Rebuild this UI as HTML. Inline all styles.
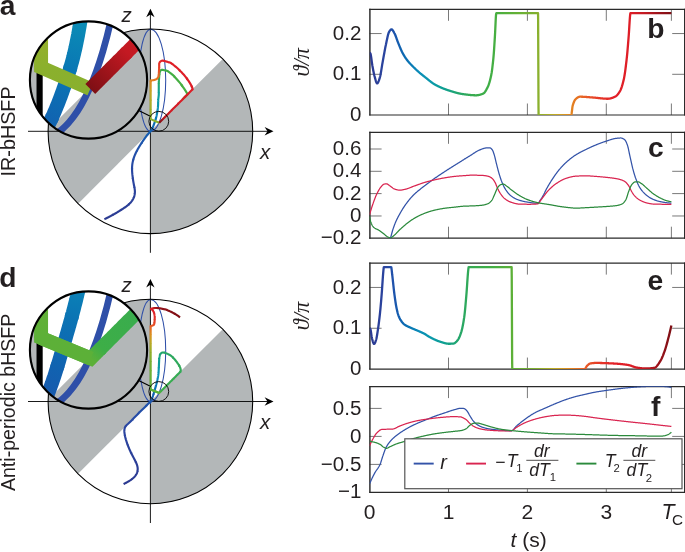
<!DOCTYPE html><html><head><meta charset="utf-8"><title>figure</title><style>html,body{margin:0;padding:0;background:#fff}svg{display:block}</style></head><body>
<svg width="685" height="552" viewBox="0 0 685 552">
<rect width="685" height="552" fill="#fff"/>
<defs><linearGradient id="jet" gradientUnits="userSpaceOnUse" x1="369.6" y1="0" x2="671.3925" y2="0"><stop offset="0.0000" stop-color="#2b3990"/><stop offset="0.0523" stop-color="#2a45a0"/><stop offset="0.0784" stop-color="#2052ab"/><stop offset="0.0993" stop-color="#1260b0"/><stop offset="0.1176" stop-color="#0c6cb2"/><stop offset="0.1386" stop-color="#0a7ab5"/><stop offset="0.1647" stop-color="#0b8db8"/><stop offset="0.2092" stop-color="#0a9aa8"/><stop offset="0.2484" stop-color="#10a090"/><stop offset="0.2876" stop-color="#20a570"/><stop offset="0.3399" stop-color="#38ab50"/><stop offset="0.3922" stop-color="#3eae46"/><stop offset="0.4706" stop-color="#5cb038"/><stop offset="0.5490" stop-color="#80b030"/><stop offset="0.5752" stop-color="#9ab02a"/><stop offset="0.6144" stop-color="#c0aa25"/><stop offset="0.6536" stop-color="#dc9020"/><stop offset="0.6797" stop-color="#e57a22"/><stop offset="0.7190" stop-color="#e85a28"/><stop offset="0.7582" stop-color="#e63a28"/><stop offset="0.8105" stop-color="#e22028"/><stop offset="0.8627" stop-color="#de1e27"/><stop offset="0.8941" stop-color="#cc1b24"/><stop offset="0.9150" stop-color="#c01922"/><stop offset="0.9359" stop-color="#ae161e"/><stop offset="0.9569" stop-color="#9c131b"/><stop offset="0.9804" stop-color="#8c1118"/><stop offset="1.0000" stop-color="#7e0f14"/></linearGradient></defs>
<defs><g id="bgA">
<path d="M150.4,131.3 L150.4,29.00 A102.3,102.3 0 0 0 78.06,203.64 Z" fill="#b3b7b8"/>
<path d="M150.4,131.3 L150.4,233.60 A102.3,102.3 0 0 0 222.74,58.96 Z" fill="#b3b7b8"/>
</g><g id="contA">
<path d="M150.4,252.8 V13.3" stroke="#000" style="stroke-width:var(--aw,0.95)" fill="none"/>
<path d="M150.6,29.20 A15.1,51.05 0 0 1 150.6,131.3 A12,51.05 0 0 1 150.6,29.20 Z" stroke="#2f4fa8" style="stroke-width:var(--ew,1.1)" fill="none"/>
<linearGradient id="gA0" gradientUnits="userSpaceOnUse" x1="104.40" y1="219.20" x2="112.75" y2="214.90"><stop offset="0" stop-color="#2b3990"/><stop offset="1" stop-color="#2b3b93"/></linearGradient><linearGradient id="gA1" gradientUnits="userSpaceOnUse" x1="112.75" y1="214.90" x2="120.81" y2="210.08"><stop offset="0" stop-color="#2b3b93"/><stop offset="1" stop-color="#2b3d95"/></linearGradient><linearGradient id="gA2" gradientUnits="userSpaceOnUse" x1="120.81" y1="210.08" x2="128.48" y2="204.65"><stop offset="0" stop-color="#2b3d95"/><stop offset="1" stop-color="#2b3f98"/></linearGradient><linearGradient id="gA3" gradientUnits="userSpaceOnUse" x1="128.48" y1="204.65" x2="133.96" y2="197.08"><stop offset="0" stop-color="#2b3f98"/><stop offset="1" stop-color="#2a419a"/></linearGradient><linearGradient id="gA4" gradientUnits="userSpaceOnUse" x1="133.96" y1="197.08" x2="134.49" y2="187.79"><stop offset="0" stop-color="#2a419a"/><stop offset="1" stop-color="#2a439d"/></linearGradient><linearGradient id="gA5" gradientUnits="userSpaceOnUse" x1="134.49" y1="187.79" x2="132.85" y2="178.52"><stop offset="0" stop-color="#2a439d"/><stop offset="1" stop-color="#2a449f"/></linearGradient><linearGradient id="gA6" gradientUnits="userSpaceOnUse" x1="132.85" y1="178.52" x2="132.04" y2="169.16"><stop offset="0" stop-color="#2a449f"/><stop offset="1" stop-color="#2848a3"/></linearGradient><linearGradient id="gA7" gradientUnits="userSpaceOnUse" x1="132.04" y1="169.16" x2="133.22" y2="159.84"><stop offset="0" stop-color="#2848a3"/><stop offset="1" stop-color="#244ca6"/></linearGradient><linearGradient id="gA8" gradientUnits="userSpaceOnUse" x1="133.22" y1="159.84" x2="136.72" y2="151.13"><stop offset="0" stop-color="#244ca6"/><stop offset="1" stop-color="#2150aa"/></linearGradient><linearGradient id="gA9" gradientUnits="userSpaceOnUse" x1="136.72" y1="151.13" x2="141.53" y2="143.06"><stop offset="0" stop-color="#2150aa"/><stop offset="1" stop-color="#1d55ac"/></linearGradient><linearGradient id="gA10" gradientUnits="userSpaceOnUse" x1="141.53" y1="143.06" x2="146.98" y2="135.42"><stop offset="0" stop-color="#1d55ac"/><stop offset="1" stop-color="#175bae"/></linearGradient><linearGradient id="gA11" gradientUnits="userSpaceOnUse" x1="146.98" y1="135.42" x2="152.35" y2="128.15"><stop offset="0" stop-color="#175bae"/><stop offset="1" stop-color="#1064b1"/></linearGradient><linearGradient id="gA12" gradientUnits="userSpaceOnUse" x1="152.35" y1="128.15" x2="155.57" y2="119.57"><stop offset="0" stop-color="#1064b1"/><stop offset="1" stop-color="#0a77b4"/></linearGradient><linearGradient id="gA13" gradientUnits="userSpaceOnUse" x1="155.57" y1="119.57" x2="157.50" y2="110.59"><stop offset="0" stop-color="#0a77b4"/><stop offset="1" stop-color="#0b8eb6"/></linearGradient><linearGradient id="gA14" gradientUnits="userSpaceOnUse" x1="157.50" y1="110.59" x2="158.15" y2="101.61"><stop offset="0" stop-color="#0b8eb6"/><stop offset="1" stop-color="#0a9aa8"/></linearGradient><linearGradient id="gA15" gradientUnits="userSpaceOnUse" x1="158.15" y1="101.61" x2="158.78" y2="92.49"><stop offset="0" stop-color="#0a9aa8"/><stop offset="1" stop-color="#0f9f94"/></linearGradient><linearGradient id="gA16" gradientUnits="userSpaceOnUse" x1="158.78" y1="92.49" x2="158.79" y2="83.46"><stop offset="0" stop-color="#0f9f94"/><stop offset="1" stop-color="#23a66d"/></linearGradient><linearGradient id="gA17" gradientUnits="userSpaceOnUse" x1="158.79" y1="83.46" x2="159.42" y2="74.32"><stop offset="0" stop-color="#23a66d"/><stop offset="1" stop-color="#39ab4f"/></linearGradient><linearGradient id="gA18" gradientUnits="userSpaceOnUse" x1="159.42" y1="74.32" x2="165.47" y2="70.47"><stop offset="0" stop-color="#39ab4f"/><stop offset="1" stop-color="#3fae45"/></linearGradient><linearGradient id="gA19" gradientUnits="userSpaceOnUse" x1="165.47" y1="70.47" x2="173.92" y2="76.08"><stop offset="0" stop-color="#3fae45"/><stop offset="1" stop-color="#44ae43"/></linearGradient><linearGradient id="gA20" gradientUnits="userSpaceOnUse" x1="173.92" y1="76.08" x2="181.15" y2="84.44"><stop offset="0" stop-color="#44ae43"/><stop offset="1" stop-color="#47af42"/></linearGradient><linearGradient id="gA21" gradientUnits="userSpaceOnUse" x1="181.15" y1="84.44" x2="186.85" y2="92.91"><stop offset="0" stop-color="#47af42"/><stop offset="1" stop-color="#48af41"/></linearGradient><linearGradient id="gA22" gradientUnits="userSpaceOnUse" x1="187.44" y1="94.11" x2="187.26" y2="94.69"><stop offset="0" stop-color="#48af41"/><stop offset="1" stop-color="#49af41"/></linearGradient><linearGradient id="gA23" gradientUnits="userSpaceOnUse" x1="187.26" y1="94.69" x2="182.44" y2="99.51"><stop offset="0" stop-color="#49af41"/><stop offset="1" stop-color="#4baf40"/></linearGradient><linearGradient id="gA24" gradientUnits="userSpaceOnUse" x1="159.11" y1="122.84" x2="150.65" y2="119.13"><stop offset="0" stop-color="#89b02e"/><stop offset="1" stop-color="#8bb02d"/></linearGradient><linearGradient id="gA25" gradientUnits="userSpaceOnUse" x1="150.65" y1="119.13" x2="150.65" y2="109.67"><stop offset="0" stop-color="#8bb02d"/><stop offset="1" stop-color="#9faf29"/></linearGradient><linearGradient id="gA26" gradientUnits="userSpaceOnUse" x1="150.65" y1="109.67" x2="150.65" y2="100.57"><stop offset="0" stop-color="#9faf29"/><stop offset="1" stop-color="#b2ac27"/></linearGradient><linearGradient id="gA27" gradientUnits="userSpaceOnUse" x1="150.65" y1="100.57" x2="150.65" y2="91.24"><stop offset="0" stop-color="#b2ac27"/><stop offset="1" stop-color="#c7a424"/></linearGradient><linearGradient id="gA28" gradientUnits="userSpaceOnUse" x1="150.65" y1="91.24" x2="150.65" y2="82.12"><stop offset="0" stop-color="#c7a424"/><stop offset="1" stop-color="#de8a21"/></linearGradient><linearGradient id="gA29" gradientUnits="userSpaceOnUse" x1="150.65" y1="82.12" x2="150.65" y2="80.82"><stop offset="0" stop-color="#de8a21"/><stop offset="1" stop-color="#e18421"/></linearGradient><linearGradient id="gA30" gradientUnits="userSpaceOnUse" x1="150.81" y1="80.63" x2="158.36" y2="76.61"><stop offset="0" stop-color="#e18321"/><stop offset="1" stop-color="#e66f24"/></linearGradient><linearGradient id="gA31" gradientUnits="userSpaceOnUse" x1="158.36" y1="76.61" x2="159.16" y2="67.56"><stop offset="0" stop-color="#e66f24"/><stop offset="1" stop-color="#e63f28"/></linearGradient><linearGradient id="gA32" gradientUnits="userSpaceOnUse" x1="159.16" y1="67.56" x2="162.83" y2="60.68"><stop offset="0" stop-color="#e63f28"/><stop offset="1" stop-color="#e11f28"/></linearGradient><linearGradient id="gA33" gradientUnits="userSpaceOnUse" x1="162.83" y1="60.68" x2="172.05" y2="63.82"><stop offset="0" stop-color="#e11f28"/><stop offset="1" stop-color="#df1f27"/></linearGradient><linearGradient id="gA34" gradientUnits="userSpaceOnUse" x1="172.05" y1="63.82" x2="179.09" y2="69.78"><stop offset="0" stop-color="#df1f27"/><stop offset="1" stop-color="#df1e27"/></linearGradient><linearGradient id="gA35" gradientUnits="userSpaceOnUse" x1="179.09" y1="69.78" x2="186.40" y2="77.91"><stop offset="0" stop-color="#df1e27"/><stop offset="1" stop-color="#de1e27"/></linearGradient><linearGradient id="gA36" gradientUnits="userSpaceOnUse" x1="191.44" y1="85.83" x2="192.62" y2="88.99"><stop offset="0" stop-color="#de1e27"/><stop offset="1" stop-color="#dd1e27"/></linearGradient><linearGradient id="gA37" gradientUnits="userSpaceOnUse" x1="192.62" y1="88.99" x2="185.67" y2="96.28"><stop offset="0" stop-color="#dd1e27"/><stop offset="1" stop-color="#da1d26"/></linearGradient><linearGradient id="gA38" gradientUnits="userSpaceOnUse" x1="185.67" y1="96.28" x2="178.59" y2="103.36"><stop offset="0" stop-color="#da1d26"/><stop offset="1" stop-color="#d61d26"/></linearGradient><linearGradient id="gA39" gradientUnits="userSpaceOnUse" x1="178.59" y1="103.36" x2="171.89" y2="110.06"><stop offset="0" stop-color="#d61d26"/><stop offset="1" stop-color="#d01c25"/></linearGradient><linearGradient id="gA40" gradientUnits="userSpaceOnUse" x1="171.89" y1="110.06" x2="165.42" y2="116.53"><stop offset="0" stop-color="#d01c25"/><stop offset="1" stop-color="#c31922"/></linearGradient><linearGradient id="gA41" gradientUnits="userSpaceOnUse" x1="165.42" y1="116.53" x2="159.11" y2="122.84"><stop offset="0" stop-color="#c31922"/><stop offset="1" stop-color="#7e0f14"/></linearGradient>
<g fill="none" style="stroke-width:var(--tw,2.2)" stroke-linejoin="miter" stroke-miterlimit="4">
<polyline points="104.40,219.20 105.11,218.86 105.82,218.52 106.52,218.18 107.22,217.83 107.92,217.48 108.62,217.12 109.31,216.76 110.00,216.39 110.69,216.03 111.38,215.65 112.07,215.28 112.75,214.90 113.43,214.51" stroke="url(#gA0)"/>
<polyline points="112.75,214.90 113.43,214.51 114.11,214.13 114.79,213.74 115.46,213.34 116.14,212.95 116.81,212.55 117.48,212.14 118.15,211.74 118.82,211.33 119.48,210.92 120.15,210.50 120.81,210.08 121.47,209.66" stroke="url(#gA1)"/>
<polyline points="120.81,210.08 121.47,209.66 122.14,209.24 122.80,208.82 123.45,208.39 124.11,207.95 124.76,207.51 125.40,207.06 126.04,206.61 126.66,206.14 127.28,205.66 127.89,205.16 128.48,204.65 129.06,204.12" stroke="url(#gA2)"/>
<polyline points="128.48,204.65 129.06,204.12 129.63,203.58 130.17,203.01 130.70,202.43 131.21,201.83 131.69,201.21 132.15,200.57 132.58,199.91 132.97,199.23 133.34,198.53 133.67,197.81 133.96,197.08 134.21,196.33" stroke="url(#gA3)"/>
<polyline points="133.96,197.08 134.21,196.33 134.42,195.57 134.60,194.80 134.73,194.02 134.83,193.24 134.89,192.45 134.90,191.67 134.88,190.89 134.82,190.11 134.73,189.33 134.62,188.56 134.49,187.79 134.34,187.01" stroke="url(#gA4)"/>
<polyline points="134.49,187.79 134.34,187.01 134.19,186.24 134.03,185.47 133.88,184.70 133.73,183.92 133.59,183.15 133.45,182.38 133.32,181.61 133.20,180.84 133.08,180.06 132.96,179.29 132.85,178.52 132.75,177.74" stroke="url(#gA5)"/>
<polyline points="132.85,178.52 132.75,177.74 132.65,176.97 132.56,176.19 132.47,175.41 132.38,174.63 132.31,173.85 132.24,173.07 132.17,172.29 132.12,171.51 132.08,170.72 132.06,169.94 132.04,169.16 132.04,168.37" stroke="url(#gA6)"/>
<polyline points="132.04,169.16 132.04,168.37 132.06,167.59 132.09,166.81 132.15,166.03 132.22,165.24 132.31,164.47 132.42,163.69 132.54,162.91 132.69,162.14 132.85,161.37 133.02,160.61 133.22,159.84 133.43,159.09" stroke="url(#gA7)"/>
<polyline points="133.22,159.84 133.43,159.09 133.66,158.34 133.90,157.59 134.16,156.85 134.44,156.12 134.73,155.39 135.03,154.67 135.35,153.95 135.67,153.24 136.01,152.53 136.36,151.83 136.72,151.13 137.09,150.44" stroke="url(#gA8)"/>
<polyline points="136.72,151.13 137.09,150.44 137.46,149.75 137.84,149.07 138.23,148.39 138.63,147.71 139.03,147.04 139.43,146.37 139.84,145.70 140.26,145.04 140.68,144.38 141.10,143.72 141.53,143.06 141.96,142.41" stroke="url(#gA9)"/>
<polyline points="141.53,143.06 141.96,142.41 142.40,141.76 142.83,141.11 143.27,140.46 143.72,139.82 144.17,139.18 144.62,138.54 145.08,137.90 145.55,137.28 146.02,136.65 146.50,136.03 146.98,135.42 147.47,134.81" stroke="url(#gA10)"/>
<polyline points="146.98,135.42 147.47,134.81 147.97,134.21 148.48,133.61 149.00,133.02 149.52,132.44 150.06,131.87 150.60,131.30 150.74,131.16 150.96,130.78 151.17,130.41 151.37,130.06 151.55,129.72 151.73,129.39 151.89,129.07 152.05,128.76 152.20,128.45 152.35,128.15 152.49,127.85 152.62,127.55" stroke="url(#gA11)"/>
<polyline points="152.35,128.15 152.49,127.85 152.62,127.55 152.76,127.25 152.89,126.95 153.02,126.65 153.15,126.34 153.28,126.03 153.41,125.71 153.54,125.40 153.66,125.08 153.79,124.76 153.91,124.45 154.03,124.13 154.14,123.82 154.26,123.50 154.37,123.19 154.48,122.88 154.59,122.57 154.70,122.26 154.81,121.95 154.91,121.65 155.01,121.34 155.11,121.04 155.21,120.74 155.30,120.45 155.39,120.15 155.48,119.86 155.57,119.57 155.65,119.29 155.73,119.00" stroke="url(#gA12)"/>
<polyline points="155.57,119.57 155.65,119.29 155.73,119.00 155.81,118.73 155.89,118.45 155.97,118.18 156.04,117.91 156.11,117.64 156.18,117.37 156.24,117.11 156.31,116.84 156.37,116.58 156.43,116.32 156.49,116.07 156.55,115.81 156.60,115.56 156.66,115.30 156.71,115.05 156.76,114.80 156.81,114.55 156.86,114.30 156.91,114.05 156.96,113.80 157.01,113.56 157.05,113.31 157.10,113.06 157.14,112.81 157.18,112.57 157.23,112.32 157.27,112.07 157.31,111.82 157.35,111.57 157.39,111.33 157.43,111.08 157.46,110.83 157.50,110.59 157.54,110.34 157.57,110.10" stroke="url(#gA13)"/>
<polyline points="157.50,110.59 157.54,110.34 157.57,110.10 157.61,109.85 157.64,109.61 157.67,109.36 157.71,109.12 157.74,108.88 157.77,108.64 157.80,108.40 157.82,108.16 157.85,107.92 157.88,107.68 157.90,107.44 157.93,107.20 157.95,106.96 157.97,106.73 157.99,106.49 158.01,106.25 158.03,106.02 158.05,105.78 158.06,105.55 158.08,105.31 158.09,105.08 158.10,104.86 158.11,104.63 158.11,104.41 158.12,104.20 158.12,103.98 158.12,103.77 158.13,103.56 158.13,103.35 158.13,103.14 158.13,102.92 158.13,102.71 158.13,102.50 158.14,102.28 158.14,102.06 158.14,101.83 158.15,101.61 158.16,101.38 158.16,101.14" stroke="url(#gA14)"/>
<polyline points="158.15,101.61 158.16,101.38 158.16,101.14 158.17,100.90 158.19,100.65 158.20,100.39 158.22,100.13 158.24,99.85 158.26,99.55 158.30,99.23 158.33,98.90 158.37,98.55 158.41,98.19 158.46,97.83 158.50,97.46 158.54,97.10 158.58,96.73 158.62,96.37 158.66,96.03 158.69,95.69 158.72,95.37 158.75,95.07 158.77,94.79 158.78,94.53 158.79,94.30 158.80,94.09 158.80,93.88 158.80,93.69 158.80,93.50 158.80,93.32 158.80,93.15 158.79,92.98 158.79,92.81 158.79,92.65 158.78,92.49 158.78,92.33 158.77,92.17 158.77,92.01" stroke="url(#gA15)"/>
<polyline points="158.78,92.49 158.78,92.33 158.77,92.17 158.77,92.01 158.76,91.85 158.76,91.68 158.76,91.51 158.76,91.34 158.76,91.16 158.76,90.98 158.76,90.80 158.76,90.62 158.76,90.44 158.76,90.26 158.76,90.08 158.76,89.90 158.76,89.72 158.76,89.54 158.77,89.36 158.77,89.18 158.77,89.00 158.77,88.81 158.77,88.63 158.78,88.45 158.78,88.27 158.78,88.09 158.78,87.91 158.78,87.73 158.78,87.54 158.78,87.36 158.78,87.18 158.78,87.00 158.78,86.82 158.78,86.64 158.78,86.46 158.78,86.28 158.78,86.10 158.78,85.92 158.78,85.74 158.78,85.57 158.78,85.39 158.78,85.21 158.78,85.04 158.78,84.86 158.78,84.68 158.78,84.51 158.78,84.33 158.78,84.16 158.78,83.99 158.79,83.81 158.79,83.64 158.79,83.46 158.79,83.29 158.79,83.11 158.80,82.94" stroke="url(#gA16)"/>
<polyline points="158.79,83.46 158.79,83.29 158.79,83.11 158.80,82.94 158.80,82.77 158.81,82.59 158.81,82.41 158.82,82.24 158.82,82.06 158.83,81.89 158.84,81.71 158.85,81.53 158.85,81.36 158.86,81.18 158.87,81.00 158.88,80.82 158.90,80.65 158.91,80.47 158.92,80.30 158.93,80.12 158.95,79.94 158.96,79.77 158.97,79.60 158.98,79.42 159.00,79.25 159.01,79.07 159.02,78.90 159.03,78.72 159.04,78.55 159.06,78.37 159.07,78.20 159.08,78.03 159.09,77.85 159.11,77.68 159.12,77.51 159.13,77.34 159.15,77.17 159.16,76.99 159.17,76.82 159.19,76.65 159.20,76.49 159.21,76.31 159.23,76.14 159.25,75.96 159.26,75.78 159.28,75.60 159.30,75.42 159.32,75.24 159.34,75.05 159.36,74.87 159.38,74.68 159.40,74.50 159.42,74.32 159.45,74.14 159.47,73.96 159.49,73.78" stroke="url(#gA17)"/>
<polyline points="159.42,74.32 159.45,74.14 159.47,73.96 159.49,73.78 159.52,73.60 159.54,73.42 159.56,73.25 159.59,73.08 159.62,72.91 159.64,72.75 159.67,72.59 159.71,72.44 159.74,72.29 159.78,72.14 159.82,72.00 159.87,71.87 159.91,71.74 159.96,71.62 160.01,71.50 160.06,71.39 160.11,71.29 160.17,71.19 160.22,71.09 160.28,70.99 160.35,70.89 160.41,70.79 160.48,70.69 160.55,70.59 160.62,70.49 160.69,70.40 160.77,70.31 160.84,70.22 160.94,70.15 161.06,70.08 161.21,70.01 161.37,69.96 161.55,69.92 161.75,69.89 161.96,69.88 162.19,69.87 162.43,69.87 162.69,69.89 162.95,69.92 163.22,69.97 163.49,70.02 163.77,70.08 164.06,70.15 164.37,70.21 164.71,70.29 165.07,70.38 165.47,70.47 165.91,70.58 166.37,70.70" stroke="url(#gA18)"/>
<polyline points="165.47,70.47 165.91,70.58 166.37,70.70 166.87,70.83 167.40,71.01 167.94,71.29 168.49,71.63 169.06,72.05 169.66,72.53 170.36,73.08 171.14,73.69 172.02,74.37 172.96,75.15 173.92,76.08 174.90,77.15" stroke="url(#gA19)"/>
<polyline points="173.92,76.08 174.90,77.15 175.91,78.30 177.02,79.54 178.32,81.01 179.73,82.66 181.15,84.44 182.48,86.27" stroke="url(#gA20)"/>
<polyline points="181.15,84.44 182.48,86.27 183.97,88.43 185.58,90.82 186.85,92.91 187.44,94.11" stroke="url(#gA21)"/>
<polyline points="186.85,92.91 187.44,94.11 187.26,94.69" stroke="#48af41"/>
<polyline points="187.44,94.11 187.26,94.69 186.61,95.34" stroke="url(#gA22)"/>
<polyline points="187.26,94.69 186.61,95.34 185.74,96.21 184.71,97.24 183.59,98.36 182.44,99.51" stroke="url(#gA23)"/>
<polyline points="159.11,122.84 150.65,119.13 150.65,119.01 150.65,118.76 150.65,118.48" stroke="url(#gA24)"/>
<polyline points="150.65,119.13 150.65,119.01 150.65,118.76 150.65,118.48 150.65,118.16 150.65,117.81 150.65,117.43 150.65,117.03 150.65,116.60 150.65,116.14 150.65,115.67 150.65,115.17 150.65,114.66 150.65,114.13 150.65,113.59 150.65,113.05 150.65,112.49 150.65,111.93 150.65,111.36 150.65,110.80 150.65,110.23 150.65,109.67 150.65,109.12" stroke="url(#gA25)"/>
<polyline points="150.65,109.67 150.65,109.12 150.65,108.57 150.65,108.03 150.65,107.50 150.65,106.99 150.65,106.50 150.65,106.02 150.65,105.57 150.65,105.11 150.65,104.66 150.65,104.20 150.65,103.75 150.65,103.29 150.65,102.83 150.65,102.38 150.65,101.92 150.65,101.47 150.65,101.02 150.65,100.57 150.65,100.12 150.65,99.68" stroke="url(#gA26)"/>
<polyline points="150.65,100.57 150.65,100.12 150.65,99.68 150.65,99.24 150.65,98.80 150.65,98.37 150.65,97.94 150.65,97.52 150.65,97.11 150.65,96.70 150.65,96.29 150.65,95.90 150.65,95.51 150.65,95.13 150.65,94.75 150.65,94.39 150.65,94.03 150.65,93.67 150.65,93.31 150.65,92.96 150.65,92.61 150.65,92.26 150.65,91.92 150.65,91.58 150.65,91.24 150.65,90.91 150.65,90.58" stroke="url(#gA27)"/>
<polyline points="150.65,91.24 150.65,90.91 150.65,90.58 150.65,90.26 150.65,89.94 150.65,89.63 150.65,89.32 150.65,89.01 150.65,88.71 150.65,88.42 150.65,88.13 150.65,87.84 150.65,87.56 150.65,87.29 150.65,87.02 150.65,86.76 150.65,86.51 150.65,86.26 150.65,86.02 150.65,85.78 150.65,85.55 150.65,85.32 150.65,85.10 150.65,84.88 150.65,84.66 150.65,84.45 150.65,84.24 150.65,84.04 150.65,83.84 150.65,83.64 150.65,83.44 150.65,83.25 150.65,83.06 150.65,82.87 150.65,82.68 150.65,82.49 150.65,82.30 150.65,82.12 150.65,81.93 150.65,81.75 150.65,81.56" stroke="url(#gA28)"/>
<polyline points="150.65,82.12 150.65,81.93 150.65,81.75 150.65,81.56 150.65,81.38 150.65,81.19 150.65,81.01 150.65,80.82 150.81,80.63 151.49,80.46" stroke="url(#gA29)"/>
<polyline points="150.65,80.82 150.81,80.63 151.49,80.46" stroke="#e18421"/>
<polyline points="150.81,80.63 151.49,80.46 152.45,80.30 153.46,80.17 154.23,80.04 154.67,79.89 155.06,79.75 155.43,79.61 155.77,79.46 156.08,79.32 156.36,79.17 156.60,79.02 156.82,78.86 157.01,78.70 157.16,78.53 157.29,78.36 157.42,78.19 157.55,78.01 157.67,77.84 157.79,77.67 157.91,77.49 158.01,77.32 158.11,77.14 158.20,76.96 158.28,76.79 158.36,76.61 158.42,76.43 158.47,76.26 158.51,76.08" stroke="url(#gA30)"/>
<polyline points="158.36,76.61 158.42,76.43 158.47,76.26 158.51,76.08 158.53,75.90 158.56,75.73 158.58,75.56 158.60,75.39 158.63,75.22 158.65,75.05 158.67,74.88 158.68,74.72 158.70,74.56 158.72,74.39 158.74,74.23 158.75,74.07 158.77,73.91 158.78,73.75 158.80,73.59 158.81,73.44 158.83,73.28 158.84,73.12 158.85,72.97 158.86,72.81 158.87,72.66 158.89,72.51 158.90,72.35 158.91,72.20 158.92,72.05 158.93,71.90 158.94,71.74 158.95,71.59 158.96,71.44 158.96,71.29 158.97,71.14 158.98,70.99 158.99,70.84 159.00,70.69 159.01,70.54 159.02,70.39 159.03,70.23 159.04,70.08 159.04,69.93 159.05,69.78 159.06,69.63 159.07,69.48 159.08,69.33 159.09,69.18 159.10,69.03 159.11,68.88 159.12,68.73 159.13,68.58 159.13,68.43 159.14,68.28 159.14,68.14 159.15,67.99 159.15,67.85 159.16,67.71 159.16,67.56 159.16,67.42 159.16,67.29 159.17,67.15 159.17,67.01" stroke="url(#gA31)"/>
<polyline points="159.16,67.56 159.16,67.42 159.16,67.29 159.17,67.15 159.17,67.01 159.17,66.88 159.17,66.75 159.17,66.62 159.17,66.49 159.17,66.36 159.17,66.23 159.17,66.10 159.17,65.98 159.17,65.85 159.17,65.73 159.17,65.60 159.17,65.48 159.17,65.36 159.17,65.24 159.17,65.12 159.17,65.00 159.17,64.88 159.17,64.76 159.17,64.65 159.17,64.53 159.18,64.42 159.18,64.31 159.18,64.20 159.19,64.09 159.19,63.99 159.20,63.88 159.20,63.78 159.21,63.68 159.21,63.58 159.22,63.49 159.23,63.39 159.24,63.30 159.25,63.21 159.26,63.12 159.28,63.04 159.30,62.95 159.33,62.87 159.36,62.79 159.39,62.71 159.43,62.63 159.48,62.56 159.52,62.48 159.57,62.41 159.62,62.34 159.68,62.27 159.74,62.19 159.80,62.12 159.87,62.06 159.94,61.99 160.01,61.92 160.08,61.85 160.16,61.78 160.24,61.71 160.32,61.64 160.40,61.57 160.49,61.51 160.57,61.44 160.67,61.36 160.77,61.28 160.90,61.20 161.03,61.11 161.19,61.02 161.35,60.93 161.53,60.86 161.72,60.79 161.92,60.73 162.14,60.69 162.36,60.66 162.59,60.66 162.83,60.68 163.07,60.72 163.32,60.77" stroke="url(#gA32)"/>
<polyline points="162.83,60.68 163.07,60.72 163.32,60.77 163.59,60.83 163.86,60.88 164.16,60.95 164.49,61.03 164.87,61.12 165.28,61.22 165.73,61.34 166.21,61.47 166.72,61.62 167.27,61.78 167.85,61.95 168.46,62.15 169.10,62.35 169.76,62.58 170.46,62.85 171.22,63.26 172.05,63.82 172.94,64.49" stroke="url(#gA33)"/>
<polyline points="172.05,63.82 172.94,64.49 173.87,65.24 174.86,66.06 175.90,66.90 176.96,67.79 178.03,68.75 179.09,69.78 180.18,70.89" stroke="url(#gA34)"/>
<polyline points="179.09,69.78 180.18,70.89 181.36,72.11 182.61,73.42 183.89,74.83 185.16,76.33 186.40,77.91 187.58,79.57" stroke="url(#gA35)"/>
<polyline points="186.40,77.91 187.58,79.57 188.89,81.46 190.26,83.63 191.44,85.83 192.26,87.70" stroke="#de1e27"/>
<polyline points="191.44,85.83 192.26,87.70 192.62,88.99 192.12,89.83" stroke="url(#gA36)"/>
<polyline points="192.62,88.99 192.12,89.83 191.13,90.82 189.90,92.05 188.52,93.43 187.08,94.87 185.67,96.28 184.35,97.60" stroke="url(#gA37)"/>
<polyline points="185.67,96.28 184.35,97.60 183.23,98.72 182.24,99.71 181.28,100.67 180.35,101.60 179.45,102.50 178.59,103.36 177.78,104.17" stroke="url(#gA38)"/>
<polyline points="178.59,103.36 177.78,104.17 177.00,104.95 176.28,105.67 175.61,106.34 175.00,106.95 174.42,107.53 173.87,108.08 173.34,108.61 172.84,109.11 172.35,109.60 171.89,110.06 171.44,110.51" stroke="url(#gA39)"/>
<polyline points="171.89,110.06 171.44,110.51 171.02,110.93 170.61,111.34 170.23,111.72 169.86,112.09 169.51,112.44 169.18,112.77 168.87,113.08 168.56,113.39 168.27,113.68 167.99,113.96 167.71,114.24 167.45,114.50 167.19,114.76 166.94,115.01 166.70,115.25 166.47,115.48 166.25,115.70 166.03,115.92 165.82,116.13 165.62,116.33 165.42,116.53 165.23,116.72 165.04,116.91" stroke="url(#gA40)"/>
<polyline points="165.42,116.53 165.23,116.72 165.04,116.91 164.86,117.09 164.68,117.27 164.50,117.45 164.33,117.62 164.15,117.80 163.99,117.96 163.82,118.13 163.66,118.29 163.51,118.44 163.35,118.60 163.21,118.74 163.06,118.89 162.93,119.02 162.79,119.16 162.66,119.29 162.54,119.41 162.43,119.52 162.31,119.64 162.21,119.74 162.11,119.84 162.01,119.94 161.92,120.03 161.82,120.13 161.73,120.22 161.63,120.32 161.54,120.41 161.45,120.50 161.37,120.58 161.28,120.67 161.20,120.75 161.11,120.84 161.03,120.92 160.95,121.00 160.88,121.07 160.80,121.15 160.73,121.22 160.66,121.29 160.59,121.36 160.52,121.43 160.46,121.49 160.39,121.56 160.34,121.61 160.28,121.67 160.22,121.73 160.17,121.78 160.12,121.83 160.07,121.88 160.03,121.92 159.99,121.96 159.95,122.00 159.92,122.03 159.88,122.07 159.85,122.10 159.81,122.14 159.78,122.17 159.75,122.20 159.72,122.23 159.69,122.26 159.65,122.30 159.62,122.33 159.59,122.36 159.56,122.39 159.53,122.42 159.50,122.45 159.48,122.47 159.45,122.50 159.42,122.53 159.40,122.55 159.37,122.58 159.35,122.60 159.32,122.63 159.30,122.65 159.28,122.67 159.26,122.69 159.24,122.71 159.22,122.73 159.21,122.74 159.19,122.76 159.18,122.77 159.16,122.79 159.15,122.80 159.14,122.81 159.13,122.82 159.13,122.82 159.12,122.83 159.12,122.83 159.11,122.84 159.11,122.84" stroke="url(#gA41)"/>
</g>
</g>
<clipPath id="clipA"><circle cx="88.5" cy="80" r="58.6"/></clipPath></defs>
<circle cx="150.4" cy="131.3" r="102.3" fill="#fff"/>
<use href="#bgA"/>
<path d="M28,131.3 H268" stroke="#000" stroke-width="0.9" fill="none"/>
<use href="#contA" style="--tw:2.15;--ew:1.05;--aw:0.9"/>
<circle cx="150.4" cy="131.3" r="102.3" fill="none" stroke="#000" stroke-width="1.08"/>
<path d="M273.5,131.3 L264.6,127.10000000000001 L267.5,131.3 L264.6,135.5 Z" fill="#000"/>
<path d="M150.4,8.8 L146.20000000000002,17.2 L150.4,14.5 L154.6,17.2 Z" fill="#000"/>
<circle cx="158.8" cy="121.3" r="9.9" fill="none" stroke="#000" stroke-width="0.9"/>
<path d="M149.8,115.9 L138.6,110.4" stroke="#000" stroke-width="1.1"/>
<g clip-path="url(#clipA)"><circle cx="88.5" cy="80" r="58.6" fill="#fff"/><g transform="translate(88.5,80) scale(5.82) translate(-158.8,-121.3)"><use href="#bgA"/><use href="#contA" style="--tw:2.4;--ew:1.15;--aw:1.06"/></g></g>
<circle cx="88.5" cy="80" r="58.6" fill="none" stroke="#000" stroke-width="2.1"/>
<text x="121.6" y="21.6" font-family="Liberation Sans, sans-serif" font-style="italic" font-size="20.5" fill="#231f20">z</text>
<text x="260.1" y="158.6" font-family="Liberation Sans, sans-serif" font-style="italic" font-size="20.5" fill="#231f20">x</text>
<defs><g id="bgD">
<path d="M150.4,401.5 L150.4,299.20 A102.3,102.3 0 0 0 78.06,473.84 Z" fill="#b3b7b8"/>
<path d="M150.4,401.5 L150.4,503.80 A102.3,102.3 0 0 0 222.74,329.16 Z" fill="#b3b7b8"/>
</g><g id="contD">
<path d="M150.4,523.0 V283.5" stroke="#000" style="stroke-width:var(--aw,0.95)" fill="none"/>
<path d="M150.6,299.40 A15.1,51.05 0 0 1 150.6,401.5 A12,51.05 0 0 1 150.6,299.40 Z" stroke="#2f4fa8" style="stroke-width:var(--ew,1.1)" fill="none"/>
<linearGradient id="gD0" gradientUnits="userSpaceOnUse" x1="123.60" y1="484.10" x2="131.82" y2="479.20"><stop offset="0" stop-color="#2b3990"/><stop offset="1" stop-color="#2b3b92"/></linearGradient><linearGradient id="gD1" gradientUnits="userSpaceOnUse" x1="131.82" y1="479.20" x2="137.40" y2="471.58"><stop offset="0" stop-color="#2b3b92"/><stop offset="1" stop-color="#2b3c95"/></linearGradient><linearGradient id="gD2" gradientUnits="userSpaceOnUse" x1="137.40" y1="471.58" x2="135.92" y2="462.26"><stop offset="0" stop-color="#2b3c95"/><stop offset="1" stop-color="#2b3e97"/></linearGradient><linearGradient id="gD3" gradientUnits="userSpaceOnUse" x1="135.92" y1="462.26" x2="131.53" y2="453.72"><stop offset="0" stop-color="#2b3e97"/><stop offset="1" stop-color="#2a4099"/></linearGradient><linearGradient id="gD4" gradientUnits="userSpaceOnUse" x1="131.53" y1="453.72" x2="127.70" y2="444.95"><stop offset="0" stop-color="#2a4099"/><stop offset="1" stop-color="#2a429c"/></linearGradient><linearGradient id="gD5" gradientUnits="userSpaceOnUse" x1="127.70" y1="444.95" x2="124.96" y2="435.79"><stop offset="0" stop-color="#2a429c"/><stop offset="1" stop-color="#2a439e"/></linearGradient><linearGradient id="gD6" gradientUnits="userSpaceOnUse" x1="124.96" y1="435.79" x2="125.54" y2="426.43"><stop offset="0" stop-color="#2a439e"/><stop offset="1" stop-color="#2a45a0"/></linearGradient><linearGradient id="gD7" gradientUnits="userSpaceOnUse" x1="125.54" y1="426.43" x2="132.34" y2="419.67"><stop offset="0" stop-color="#2a45a0"/><stop offset="1" stop-color="#2749a4"/></linearGradient><linearGradient id="gD8" gradientUnits="userSpaceOnUse" x1="132.34" y1="419.67" x2="139.02" y2="412.84"><stop offset="0" stop-color="#2749a4"/><stop offset="1" stop-color="#244da7"/></linearGradient><linearGradient id="gD9" gradientUnits="userSpaceOnUse" x1="139.02" y1="412.84" x2="145.87" y2="406.13"><stop offset="0" stop-color="#244da7"/><stop offset="1" stop-color="#2151aa"/></linearGradient><linearGradient id="gD10" gradientUnits="userSpaceOnUse" x1="145.87" y1="406.13" x2="150.60" y2="401.50"><stop offset="0" stop-color="#2151aa"/><stop offset="1" stop-color="#1e54ac"/></linearGradient><linearGradient id="gD11" gradientUnits="userSpaceOnUse" x1="149.56" y1="403.10" x2="153.34" y2="394.68"><stop offset="0" stop-color="#1e54ac"/><stop offset="1" stop-color="#1162b0"/></linearGradient><linearGradient id="gD12" gradientUnits="userSpaceOnUse" x1="153.34" y1="394.68" x2="155.87" y2="385.97"><stop offset="0" stop-color="#1162b0"/><stop offset="1" stop-color="#0b74b4"/></linearGradient><linearGradient id="gD13" gradientUnits="userSpaceOnUse" x1="155.87" y1="385.97" x2="157.95" y2="377.00"><stop offset="0" stop-color="#0b74b4"/><stop offset="1" stop-color="#0b8db8"/></linearGradient><linearGradient id="gD14" gradientUnits="userSpaceOnUse" x1="157.95" y1="377.00" x2="158.82" y2="367.97"><stop offset="0" stop-color="#0b8db8"/><stop offset="1" stop-color="#0a99a9"/></linearGradient><linearGradient id="gD15" gradientUnits="userSpaceOnUse" x1="158.82" y1="367.97" x2="159.20" y2="358.97"><stop offset="0" stop-color="#0a99a9"/><stop offset="1" stop-color="#11a08e"/></linearGradient><linearGradient id="gD16" gradientUnits="userSpaceOnUse" x1="159.20" y1="358.97" x2="163.77" y2="352.52"><stop offset="0" stop-color="#11a08e"/><stop offset="1" stop-color="#26a668"/></linearGradient><linearGradient id="gD17" gradientUnits="userSpaceOnUse" x1="163.77" y1="352.52" x2="172.47" y2="357.05"><stop offset="0" stop-color="#26a668"/><stop offset="1" stop-color="#2da85e"/></linearGradient><linearGradient id="gD18" gradientUnits="userSpaceOnUse" x1="172.47" y1="357.05" x2="178.77" y2="364.90"><stop offset="0" stop-color="#2da85e"/><stop offset="1" stop-color="#30a95a"/></linearGradient><linearGradient id="gD19" gradientUnits="userSpaceOnUse" x1="178.77" y1="364.90" x2="180.55" y2="371.60"><stop offset="0" stop-color="#30a95a"/><stop offset="1" stop-color="#33aa57"/></linearGradient><linearGradient id="gD20" gradientUnits="userSpaceOnUse" x1="180.55" y1="371.60" x2="173.98" y2="378.17"><stop offset="0" stop-color="#33aa57"/><stop offset="1" stop-color="#37ab52"/></linearGradient><linearGradient id="gD21" gradientUnits="userSpaceOnUse" x1="173.98" y1="378.17" x2="167.44" y2="384.71"><stop offset="0" stop-color="#37ab52"/><stop offset="1" stop-color="#39ac4e"/></linearGradient><linearGradient id="gD22" gradientUnits="userSpaceOnUse" x1="167.44" y1="384.71" x2="161.02" y2="391.13"><stop offset="0" stop-color="#39ac4e"/><stop offset="1" stop-color="#3dae47"/></linearGradient><linearGradient id="gD23" gradientUnits="userSpaceOnUse" x1="161.02" y1="391.13" x2="159.19" y2="392.96"><stop offset="0" stop-color="#3dae47"/><stop offset="1" stop-color="#5cb038"/></linearGradient><linearGradient id="gD24" gradientUnits="userSpaceOnUse" x1="159.19" y1="392.96" x2="150.65" y2="389.43"><stop offset="0" stop-color="#5cb038"/><stop offset="1" stop-color="#5db038"/></linearGradient><linearGradient id="gD25" gradientUnits="userSpaceOnUse" x1="150.65" y1="389.43" x2="150.65" y2="380.36"><stop offset="0" stop-color="#5db038"/><stop offset="1" stop-color="#66b036"/></linearGradient><linearGradient id="gD26" gradientUnits="userSpaceOnUse" x1="150.65" y1="380.36" x2="150.65" y2="371.20"><stop offset="0" stop-color="#66b036"/><stop offset="1" stop-color="#6fb034"/></linearGradient><linearGradient id="gD27" gradientUnits="userSpaceOnUse" x1="150.65" y1="371.20" x2="150.65" y2="361.93"><stop offset="0" stop-color="#6fb034"/><stop offset="1" stop-color="#7ab031"/></linearGradient><linearGradient id="gD28" gradientUnits="userSpaceOnUse" x1="150.65" y1="361.93" x2="150.65" y2="352.72"><stop offset="0" stop-color="#7ab031"/><stop offset="1" stop-color="#94b02b"/></linearGradient><linearGradient id="gD29" gradientUnits="userSpaceOnUse" x1="150.65" y1="352.72" x2="150.65" y2="343.51"><stop offset="0" stop-color="#94b02b"/><stop offset="1" stop-color="#b9ab26"/></linearGradient><linearGradient id="gD30" gradientUnits="userSpaceOnUse" x1="150.65" y1="343.51" x2="150.65" y2="334.45"><stop offset="0" stop-color="#b9ab26"/><stop offset="1" stop-color="#dc9020"/></linearGradient><linearGradient id="gD31" gradientUnits="userSpaceOnUse" x1="150.65" y1="334.45" x2="150.65" y2="326.40"><stop offset="0" stop-color="#dc9020"/><stop offset="1" stop-color="#e76027"/></linearGradient><linearGradient id="gD32" gradientUnits="userSpaceOnUse" x1="150.65" y1="326.40" x2="154.66" y2="319.47"><stop offset="0" stop-color="#e76027"/><stop offset="1" stop-color="#e53528"/></linearGradient><linearGradient id="gD33" gradientUnits="userSpaceOnUse" x1="154.66" y1="319.47" x2="153.07" y2="310.73"><stop offset="0" stop-color="#e53528"/><stop offset="1" stop-color="#de1e27"/></linearGradient><linearGradient id="gD34" gradientUnits="userSpaceOnUse" x1="153.07" y1="310.73" x2="157.03" y2="308.01"><stop offset="0" stop-color="#de1e27"/><stop offset="1" stop-color="#96121a"/></linearGradient><linearGradient id="gD35" gradientUnits="userSpaceOnUse" x1="157.03" y1="308.01" x2="166.41" y2="309.82"><stop offset="0" stop-color="#96121a"/><stop offset="1" stop-color="#8b1118"/></linearGradient><linearGradient id="gD36" gradientUnits="userSpaceOnUse" x1="166.41" y1="309.82" x2="174.60" y2="313.73"><stop offset="0" stop-color="#8b1118"/><stop offset="1" stop-color="#831015"/></linearGradient><linearGradient id="gD37" gradientUnits="userSpaceOnUse" x1="174.60" y1="313.73" x2="180.04" y2="317.38"><stop offset="0" stop-color="#831015"/><stop offset="1" stop-color="#7e0f14"/></linearGradient>
<g fill="none" style="stroke-width:var(--tw,2.2)" stroke-linejoin="miter" stroke-miterlimit="4">
<polyline points="123.60,484.10 124.24,483.75 124.89,483.40 125.54,483.05 126.18,482.70 126.83,482.35 127.48,481.99 128.12,481.62 128.76,481.25 129.39,480.86 130.01,480.47 130.63,480.06 131.23,479.64 131.82,479.20 132.40,478.74" stroke="url(#gD0)"/>
<polyline points="131.82,479.20 132.40,478.74 132.97,478.27 133.51,477.77 134.05,477.25 134.56,476.71 135.05,476.15 135.50,475.57 135.93,474.96 136.32,474.33 136.66,473.67 136.96,473.00 137.21,472.30 137.40,471.58 137.55,470.85" stroke="url(#gD1)"/>
<polyline points="137.40,471.58 137.55,470.85 137.64,470.11 137.69,469.37 137.69,468.62 137.64,467.88 137.55,467.15 137.41,466.43 137.24,465.71 137.03,465.01 136.79,464.31 136.52,463.62 136.23,462.94 135.92,462.26 135.60,461.59" stroke="url(#gD2)"/>
<polyline points="135.92,462.26 135.60,461.59 135.27,460.92 134.93,460.26 134.59,459.60 134.25,458.94 133.90,458.29 133.56,457.63 133.21,456.98 132.87,456.33 132.53,455.68 132.19,455.02 131.86,454.37 131.53,453.72 131.20,453.06" stroke="url(#gD3)"/>
<polyline points="131.53,453.72 131.20,453.06 130.87,452.40 130.55,451.74 130.24,451.08 129.94,450.41 129.64,449.74 129.34,449.06 129.05,448.38 128.77,447.70 128.49,447.02 128.22,446.33 127.96,445.65 127.70,444.95 127.45,444.26" stroke="url(#gD4)"/>
<polyline points="127.70,444.95 127.45,444.26 127.20,443.57 126.96,442.87 126.72,442.17 126.49,441.47 126.27,440.77 126.05,440.07 125.84,439.36 125.65,438.65 125.46,437.94 125.28,437.23 125.11,436.51 124.96,435.79 124.82,435.06" stroke="url(#gD5)"/>
<polyline points="124.96,435.79 124.82,435.06 124.69,434.33 124.58,433.60 124.48,432.86 124.41,432.12 124.36,431.38 124.35,430.64 124.39,429.90 124.48,429.17 124.64,428.45 124.87,427.75 125.17,427.07 125.54,426.43 125.98,425.85" stroke="url(#gD6)"/>
<polyline points="125.54,426.43 125.98,425.85 126.48,425.31 127.01,424.79 127.56,424.29 128.12,423.80 128.66,423.30 129.21,422.79 129.74,422.28 130.27,421.76 130.79,421.24 131.31,420.72 131.82,420.20 132.34,419.67 132.85,419.14" stroke="url(#gD7)"/>
<polyline points="132.34,419.67 132.85,419.14 133.36,418.61 133.86,418.08 134.37,417.55 134.88,417.02 135.39,416.50 135.90,415.97 136.42,415.44 136.94,414.92 137.45,414.40 137.97,413.88 138.50,413.36 139.02,412.84 139.54,412.32" stroke="url(#gD8)"/>
<polyline points="139.02,412.84 139.54,412.32 140.07,411.80 140.59,411.28 141.12,410.76 141.64,410.25 142.17,409.73 142.70,409.22 143.23,408.70 143.76,408.19 144.28,407.67 144.81,407.16 145.34,406.65 145.87,406.13 146.40,405.62" stroke="url(#gD9)"/>
<polyline points="145.87,406.13 146.40,405.62 146.93,405.11 147.45,404.59 147.98,404.08 148.51,403.56 149.03,403.05 149.56,402.53 150.08,402.02 150.60,401.50 149.56,403.10" stroke="url(#gD10)"/>
<polyline points="150.60,401.50 149.56,403.10 149.85,402.72" stroke="#1e54ac"/>
<polyline points="149.56,403.10 149.85,402.72 150.13,402.33 150.38,401.94 150.62,401.55 150.84,401.16 151.05,400.76 151.25,400.36 151.43,399.97 151.61,399.57 151.77,399.18 151.93,398.79 152.08,398.40 152.22,398.01 152.36,397.63 152.50,397.25 152.63,396.87 152.75,396.50 152.88,396.13 153.00,395.76 153.12,395.40 153.23,395.04 153.34,394.68 153.45,394.33 153.56,393.98" stroke="url(#gD11)"/>
<polyline points="153.34,394.68 153.45,394.33 153.56,393.98 153.67,393.63 153.77,393.29 153.87,392.94 153.97,392.60 154.07,392.26 154.17,391.93 154.26,391.59 154.36,391.26 154.45,390.93 154.55,390.61 154.64,390.28 154.74,389.96 154.83,389.64 154.92,389.32 155.01,389.00 155.10,388.69 155.19,388.38 155.28,388.07 155.37,387.76 155.45,387.46 155.54,387.16 155.62,386.86 155.71,386.56 155.79,386.26 155.87,385.97 155.95,385.68 156.03,385.39" stroke="url(#gD12)"/>
<polyline points="155.87,385.97 155.95,385.68 156.03,385.39 156.11,385.10 156.18,384.82 156.26,384.53 156.33,384.25 156.40,383.97 156.47,383.70 156.54,383.42 156.61,383.15 156.68,382.88 156.74,382.61 156.81,382.34 156.87,382.08 156.93,381.81 157.00,381.55 157.06,381.29 157.12,381.04 157.18,380.78 157.23,380.53 157.29,380.28 157.35,380.03 157.40,379.78 157.45,379.54 157.50,379.30 157.55,379.06 157.60,378.83 157.65,378.59 157.70,378.36 157.74,378.13 157.78,377.90 157.83,377.67 157.87,377.45 157.91,377.22 157.95,377.00 157.99,376.77 158.02,376.55" stroke="url(#gD13)"/>
<polyline points="157.95,377.00 157.99,376.77 158.02,376.55 158.06,376.33 158.10,376.11 158.13,375.89 158.17,375.67 158.20,375.45 158.24,375.23 158.27,375.01 158.30,374.79 158.33,374.57 158.36,374.35 158.39,374.13 158.42,373.91 158.45,373.68 158.48,373.46 158.50,373.23 158.53,373.01 158.55,372.78 158.57,372.55 158.58,372.32 158.60,372.09 158.61,371.86 158.62,371.62 158.63,371.39 158.64,371.16 158.65,370.93 158.66,370.70 158.67,370.46 158.68,370.23 158.70,370.01 158.71,369.78 158.73,369.55 158.74,369.32 158.76,369.09 158.77,368.87 158.78,368.64 158.79,368.42 158.81,368.19 158.82,367.97 158.83,367.75 158.84,367.53 158.85,367.31" stroke="url(#gD14)"/>
<polyline points="158.82,367.97 158.83,367.75 158.84,367.53 158.85,367.31 158.86,367.09 158.87,366.87 158.88,366.66 158.89,366.44 158.89,366.23 158.90,366.02 158.91,365.81 158.92,365.61 158.92,365.40 158.93,365.20 158.94,364.99 158.95,364.79 158.95,364.59 158.96,364.39 158.97,364.19 158.98,363.99 158.98,363.79 158.99,363.59 159.00,363.40 159.01,363.20 159.02,363.01 159.03,362.82 159.04,362.63 159.05,362.44 159.06,362.25 159.07,362.06 159.08,361.87 159.09,361.68 159.10,361.50 159.11,361.31 159.11,361.13 159.12,360.94 159.13,360.76 159.13,360.58 159.14,360.40 159.15,360.21 159.15,360.04 159.16,359.86 159.17,359.68 159.17,359.50 159.18,359.33 159.19,359.15 159.20,358.97 159.21,358.80 159.22,358.63 159.24,358.45" stroke="url(#gD15)"/>
<polyline points="159.20,358.97 159.21,358.80 159.22,358.63 159.24,358.45 159.25,358.28 159.27,358.11 159.29,357.94 159.31,357.77 159.33,357.60 159.36,357.43 159.38,357.26 159.41,357.10 159.44,356.93 159.48,356.77 159.51,356.61 159.54,356.45 159.58,356.29 159.61,356.13 159.65,355.97 159.68,355.82 159.72,355.66 159.75,355.51 159.79,355.36 159.83,355.21 159.86,355.06 159.90,354.92 159.94,354.78 159.98,354.64 160.04,354.50 160.10,354.37 160.19,354.24 160.28,354.12 160.38,353.99 160.50,353.86 160.63,353.73 160.77,353.59 160.92,353.46 161.07,353.32 161.23,353.19 161.39,353.06 161.56,352.94 161.73,352.83 161.92,352.72 162.13,352.64 162.36,352.57 162.61,352.51 162.88,352.48 163.16,352.47 163.46,352.48 163.77,352.52 164.10,352.58 164.44,352.67" stroke="url(#gD16)"/>
<polyline points="163.77,352.52 164.10,352.58 164.44,352.67 164.78,352.77 165.14,352.90 165.54,353.04 165.98,353.21 166.45,353.40 166.97,353.62 167.52,353.86 168.11,354.13 168.73,354.43 169.38,354.76 170.07,355.13 170.79,355.63 171.60,356.28 172.47,357.05 173.38,357.94" stroke="url(#gD17)"/>
<polyline points="172.47,357.05 173.38,357.94 174.30,358.92 175.20,359.98 176.06,361.09 176.88,362.24 177.80,363.50 178.77,364.90 179.62,366.39" stroke="url(#gD18)"/>
<polyline points="178.77,364.90 179.62,366.39 180.28,367.89 180.65,369.29 180.76,370.55 180.55,371.60 179.82,372.33" stroke="url(#gD19)"/>
<polyline points="180.55,371.60 179.82,372.33 178.97,373.18 178.09,374.06 177.28,374.87 176.58,375.57 175.90,376.25 175.24,376.91 174.60,377.55 173.98,378.17 173.39,378.76" stroke="url(#gD20)"/>
<polyline points="173.98,378.17 173.39,378.76 172.82,379.33 172.27,379.88 171.75,380.40 171.26,380.89 170.79,381.36 170.33,381.82 169.87,382.28 169.43,382.72 169.00,383.15 168.59,383.56 168.19,383.96 167.80,384.35 167.44,384.71 167.09,385.06" stroke="url(#gD21)"/>
<polyline points="167.44,384.71 167.09,385.06 166.77,385.38 166.46,385.69 166.18,385.97 165.92,386.23 165.67,386.48 165.42,386.73 165.18,386.97 164.95,387.20 164.72,387.43 164.50,387.65 164.29,387.86 164.08,388.07 163.89,388.26 163.70,388.45 163.51,388.64 163.34,388.81 163.17,388.98 163.01,389.14 162.85,389.30 162.70,389.45 162.56,389.59 162.43,389.72 162.30,389.85 162.18,389.97 162.06,390.09 161.94,390.21 161.81,390.34 161.69,390.46 161.58,390.57 161.46,390.69 161.34,390.81 161.23,390.92 161.12,391.03 161.02,391.13 160.91,391.24 160.81,391.34 160.72,391.43 160.63,391.52" stroke="url(#gD22)"/>
<polyline points="161.02,391.13 160.91,391.24 160.81,391.34 160.72,391.43 160.63,391.52 160.54,391.61 160.46,391.69 160.38,391.77 160.31,391.84 160.25,391.90 160.19,391.96 160.13,392.02 160.09,392.06 160.05,392.10 160.01,392.14 159.99,392.16 159.97,392.18 159.96,392.19 159.94,392.21 159.93,392.22 159.91,392.24 159.90,392.25 159.89,392.26 159.88,392.27 159.87,392.28 159.86,392.29 159.85,392.30 159.84,392.31 159.83,392.32 159.82,392.33 159.82,392.33 159.81,392.34 159.80,392.35 159.80,392.35 159.79,392.36 159.78,392.37 159.78,392.37 159.77,392.38 159.76,392.39 159.75,392.40 159.75,392.40 159.74,392.41 159.73,392.42 159.72,392.43 159.71,392.44 159.70,392.45 159.69,392.46 159.68,392.47 159.67,392.48 159.66,392.49 159.64,392.51 159.63,392.52 159.61,392.54 159.60,392.55 159.58,392.57 159.56,392.59 159.55,392.60 159.53,392.62 159.51,392.64 159.49,392.66 159.48,392.67 159.46,392.69 159.44,392.71 159.42,392.73 159.40,392.75 159.39,392.76 159.37,392.78 159.35,392.80 159.34,392.81 159.32,392.83 159.31,392.84 159.29,392.86 159.28,392.87 159.26,392.89 159.25,392.90 159.24,392.91 159.23,392.92 159.22,392.93 159.21,392.94 159.20,392.95 159.20,392.95 159.19,392.96 159.19,392.96 159.19,392.96 159.19,392.96 159.19,392.96 150.65,389.43" stroke="url(#gD23)"/>
<polyline points="159.19,392.96 150.65,389.43 150.65,389.39 150.65,389.23 150.65,388.96" stroke="url(#gD24)"/>
<polyline points="150.65,389.43 150.65,389.39 150.65,389.23 150.65,388.96 150.65,388.59 150.65,388.14 150.65,387.62 150.65,387.05 150.65,386.44 150.65,385.81 150.65,385.16 150.65,384.51 150.65,383.88 150.65,383.27 150.65,382.71 150.65,382.21 150.65,381.75 150.65,381.28 150.65,380.82 150.65,380.36 150.65,379.90" stroke="url(#gD25)"/>
<polyline points="150.65,380.36 150.65,379.90 150.65,379.45 150.65,378.99 150.65,378.54 150.65,378.09 150.65,377.64 150.65,377.19 150.65,376.74 150.65,376.30 150.65,375.86 150.65,375.42 150.65,374.99 150.65,374.55 150.65,374.12 150.65,373.70 150.65,373.27 150.65,372.85 150.65,372.43 150.65,372.02 150.65,371.61 150.65,371.20 150.65,370.80 150.65,370.39" stroke="url(#gD26)"/>
<polyline points="150.65,371.20 150.65,370.80 150.65,370.39 150.65,369.99 150.65,369.59 150.65,369.19 150.65,368.79 150.65,368.40 150.65,368.00 150.65,367.60 150.65,367.21 150.65,366.81 150.65,366.42 150.65,366.03 150.65,365.64 150.65,365.26 150.65,364.88 150.65,364.50 150.65,364.12 150.65,363.75 150.65,363.38 150.65,363.01 150.65,362.65 150.65,362.29 150.65,361.93 150.65,361.58 150.65,361.23" stroke="url(#gD27)"/>
<polyline points="150.65,361.93 150.65,361.58 150.65,361.23 150.65,360.89 150.65,360.56 150.65,360.22 150.65,359.90 150.65,359.58 150.65,359.26 150.65,358.95 150.65,358.65 150.65,358.35 150.65,358.06 150.65,357.77 150.65,357.49 150.65,357.21 150.65,356.94 150.65,356.67 150.65,356.40 150.65,356.14 150.65,355.88 150.65,355.62 150.65,355.37 150.65,355.12 150.65,354.87 150.65,354.63 150.65,354.38 150.65,354.14 150.65,353.90 150.65,353.67 150.65,353.43 150.65,353.19 150.65,352.96 150.65,352.72 150.65,352.49 150.65,352.25" stroke="url(#gD28)"/>
<polyline points="150.65,352.72 150.65,352.49 150.65,352.25 150.65,352.02 150.65,351.78 150.65,351.54 150.65,351.31 150.65,351.07 150.65,350.83 150.65,350.59 150.65,350.34 150.65,350.10 150.65,349.85 150.65,349.61 150.65,349.36 150.65,349.11 150.65,348.86 150.65,348.61 150.65,348.37 150.65,348.12 150.65,347.87 150.65,347.62 150.65,347.37 150.65,347.12 150.65,346.88 150.65,346.63 150.65,346.38 150.65,346.14 150.65,345.89 150.65,345.65 150.65,345.41 150.65,345.16 150.65,344.92 150.65,344.68 150.65,344.45 150.65,344.21 150.65,343.97 150.65,343.74 150.65,343.51 150.65,343.28 150.65,343.05" stroke="url(#gD29)"/>
<polyline points="150.65,343.51 150.65,343.28 150.65,343.05 150.65,342.83 150.65,342.60 150.65,342.38 150.65,342.16 150.65,341.94 150.65,341.73 150.65,341.51 150.65,341.30 150.65,341.08 150.65,340.87 150.65,340.65 150.65,340.44 150.65,340.23 150.65,340.02 150.65,339.81 150.65,339.60 150.65,339.39 150.65,339.19 150.65,338.98 150.65,338.78 150.65,338.58 150.65,338.38 150.65,338.18 150.65,337.98 150.65,337.78 150.65,337.59 150.65,337.40 150.65,337.21 150.65,337.02 150.65,336.83 150.65,336.65 150.65,336.47 150.65,336.29 150.65,336.11 150.65,335.93 150.65,335.76 150.65,335.59 150.65,335.42 150.65,335.25 150.65,335.09 150.65,334.92 150.65,334.76 150.65,334.60 150.65,334.45 150.65,334.29 150.65,334.14 150.65,333.99" stroke="url(#gD30)"/>
<polyline points="150.65,334.45 150.65,334.29 150.65,334.14 150.65,333.99 150.65,333.84 150.65,333.69 150.65,333.54 150.65,333.39 150.65,333.25 150.65,333.10 150.65,332.96 150.65,332.82 150.65,332.67 150.65,332.53 150.65,332.39 150.65,332.25 150.65,332.11 150.65,331.97 150.65,331.83 150.65,331.69 150.65,331.55 150.65,331.42 150.65,331.28 150.65,331.14 150.65,331.00 150.65,330.86 150.65,330.72 150.65,330.58 150.65,330.43 150.65,330.29 150.65,330.15 150.65,330.01 150.65,329.87 150.65,329.72 150.65,329.58 150.65,329.44 150.65,329.30 150.65,329.16 150.65,329.02 150.65,328.88 150.65,328.74 150.65,328.60 150.65,328.46 150.65,328.32 150.65,328.18 150.65,328.05 150.65,327.91 150.65,327.78 150.65,327.65 150.65,327.52 150.65,327.39 150.65,327.26 150.65,327.13 150.65,327.00 150.65,326.88 150.65,326.76 150.65,326.64 150.65,326.52 150.65,326.40 150.71,326.29 150.85,326.18 151.06,326.07" stroke="url(#gD31)"/>
<polyline points="150.65,326.40 150.71,326.29 150.85,326.18 151.06,326.07 151.31,325.97 151.60,325.87 151.90,325.77 152.20,325.68 152.47,325.59 152.69,325.50 152.87,325.40 153.03,325.31 153.19,325.21 153.35,325.12 153.50,325.02 153.64,324.92 153.77,324.82 153.88,324.72 153.97,324.61 154.03,324.49 154.07,324.38 154.11,324.26 154.15,324.14 154.19,324.02 154.23,323.90 154.26,323.78 154.29,323.65 154.33,323.53 154.36,323.40 154.38,323.27 154.41,323.14 154.43,323.01 154.46,322.88 154.48,322.75 154.49,322.62 154.51,322.49 154.52,322.35 154.54,322.22 154.54,322.08 154.55,321.95 154.56,321.81 154.57,321.67 154.57,321.53 154.58,321.39 154.58,321.25 154.59,321.11 154.60,320.96 154.60,320.82 154.61,320.67 154.62,320.52 154.62,320.37 154.63,320.22 154.64,320.07 154.64,319.92 154.65,319.77 154.65,319.62 154.66,319.47 154.66,319.32 154.67,319.17 154.68,319.02" stroke="url(#gD32)"/>
<polyline points="154.66,319.47 154.66,319.32 154.67,319.17 154.68,319.02 154.68,318.87 154.69,318.72 154.69,318.57 154.70,318.43 154.70,318.28 154.71,318.13 154.71,317.99 154.72,317.84 154.72,317.70 154.72,317.56 154.73,317.42 154.73,317.28 154.74,317.14 154.74,317.01 154.74,316.87 154.74,316.74 154.73,316.60 154.73,316.47 154.72,316.33 154.71,316.19 154.69,316.05 154.68,315.92 154.66,315.78 154.64,315.64 154.63,315.51 154.61,315.37 154.58,315.24 154.56,315.11 154.54,314.98 154.51,314.85 154.49,314.73 154.47,314.61 154.44,314.49 154.42,314.37 154.39,314.26 154.37,314.15 154.35,314.05 154.32,313.95 154.30,313.86 154.28,313.77 154.26,313.69 154.24,313.60 154.22,313.52 154.20,313.44 154.18,313.36 154.16,313.29 154.14,313.22 154.12,313.14 154.10,313.07 154.07,313.01 154.05,312.94 154.03,312.87 154.01,312.81 153.99,312.74 153.97,312.68 153.95,312.62 153.92,312.56 153.90,312.50 153.88,312.44 153.86,312.38 153.84,312.32 153.82,312.26 153.79,312.20 153.77,312.14 153.75,312.09 153.72,312.03 153.70,311.97 153.68,311.91 153.66,311.85 153.63,311.80 153.61,311.74 153.58,311.68 153.56,311.63 153.54,311.57 153.51,311.52 153.49,311.47 153.46,311.41 153.44,311.36 153.41,311.31 153.38,311.26 153.36,311.21 153.33,311.15 153.30,311.10 153.28,311.06 153.25,311.01 153.22,310.96 153.19,310.91 153.16,310.86 153.13,310.82 153.10,310.77 153.07,310.73 153.04,310.68 153.01,310.64 152.98,310.60 152.95,310.55 152.91,310.51 152.87,310.46 152.84,310.42 152.80,310.38 152.76,310.33" stroke="url(#gD33)"/>
<polyline points="153.07,310.73 153.04,310.68 153.01,310.64 152.98,310.60 152.95,310.55 152.91,310.51 152.87,310.46 152.84,310.42 152.80,310.38 152.76,310.33 152.72,310.29 152.68,310.24 152.64,310.20 152.59,310.16 152.55,310.11 152.51,310.07 152.47,310.03 152.42,309.99 152.38,309.95 152.34,309.91 152.29,309.87 152.25,309.83 152.20,309.79 152.16,309.75 152.12,309.71 152.07,309.68 152.03,309.64 151.99,309.60 151.95,309.57 151.91,309.54 151.87,309.50 151.83,309.47 151.79,309.44 151.75,309.41 151.71,309.38 151.68,309.35 151.64,309.33 151.61,309.30 151.58,309.28 151.55,309.25 151.52,309.23 151.49,309.21 151.46,309.19 151.43,309.17 151.41,309.15 151.38,309.14 151.34,309.12 151.31,309.10 151.28,309.09 151.26,309.07 151.23,309.06 151.20,309.04 151.17,309.03 151.14,309.02 151.12,309.01 151.09,308.99 151.07,308.98 151.05,308.97 151.03,308.96 151.01,308.95 150.99,308.94 150.98,308.93 150.96,308.91 150.96,308.90 150.95,308.89 150.94,308.88 150.94,308.87 150.94,308.86 150.95,308.84 150.96,308.83 150.98,308.82 151.01,308.80 151.04,308.79 151.07,308.78 151.11,308.76 151.15,308.74 151.20,308.73 151.25,308.71 151.30,308.69 151.35,308.67 151.41,308.65 151.47,308.63 151.54,308.61 151.62,308.59 151.73,308.55 151.86,308.52 152.02,308.48 152.20,308.43 152.41,308.39 152.63,308.34 152.87,308.29 153.13,308.25 153.41,308.20 153.69,308.16 153.99,308.12 154.30,308.08 154.62,308.05 154.95,308.02 155.28,308.00 155.62,307.98 155.96,307.98 156.30,307.98 156.65,307.99 157.03,308.01 157.43,308.04 157.86,308.08" stroke="url(#gD34)"/>
<polyline points="157.03,308.01 157.43,308.04 157.86,308.08 158.32,308.13 158.79,308.19 159.29,308.26 159.81,308.33 160.34,308.41 160.88,308.50 161.44,308.60 162.01,308.71 162.60,308.82 163.18,308.95 163.78,309.08 164.40,309.22 165.05,309.38 165.72,309.58 166.41,309.82 167.12,310.09" stroke="url(#gD35)"/>
<polyline points="166.41,309.82 167.12,310.09 167.85,310.38 168.58,310.70 169.33,311.03 170.08,311.38 170.83,311.73 171.58,312.09 172.33,312.47 173.08,312.86 173.83,313.28 174.60,313.73 175.36,314.19" stroke="url(#gD36)"/>
<polyline points="174.60,313.73 175.36,314.19 176.14,314.66 176.92,315.16 177.70,315.68 178.48,316.22 179.26,316.79 180.04,317.38" stroke="url(#gD37)"/>
</g>
</g>
<clipPath id="clipD"><circle cx="88.5" cy="350" r="58.6"/></clipPath></defs>
<circle cx="150.4" cy="401.5" r="102.3" fill="#fff"/>
<use href="#bgD"/>
<path d="M28,401.5 H268" stroke="#000" stroke-width="0.9" fill="none"/>
<use href="#contD" style="--tw:2.15;--ew:1.05;--aw:0.9"/>
<circle cx="150.4" cy="401.5" r="102.3" fill="none" stroke="#000" stroke-width="1.08"/>
<path d="M273.5,401.5 L264.6,397.3 L267.5,401.5 L264.6,405.7 Z" fill="#000"/>
<path d="M150.4,279.0 L146.20000000000002,287.4 L150.4,284.7 L154.6,287.4 Z" fill="#000"/>
<circle cx="158.8" cy="391.5" r="9.9" fill="none" stroke="#000" stroke-width="0.9"/>
<path d="M149.8,386.1 L138.6,380.4" stroke="#000" stroke-width="1.1"/>
<g clip-path="url(#clipD)"><circle cx="88.5" cy="350" r="58.6" fill="#fff"/><g transform="translate(88.5,350) scale(5.82) translate(-158.8,-391.5)"><use href="#bgD"/><use href="#contD" style="--tw:2.4;--ew:1.15;--aw:1.06"/></g></g>
<circle cx="88.5" cy="350" r="58.6" fill="none" stroke="#000" stroke-width="2.1"/>
<text x="121.6" y="291.8" font-family="Liberation Sans, sans-serif" font-style="italic" font-size="20.5" fill="#231f20">z</text>
<text x="260.1" y="428.8" font-family="Liberation Sans, sans-serif" font-style="italic" font-size="20.5" fill="#231f20">x</text>
<text x="-0.3" y="15.4" font-family="Liberation Sans, sans-serif" font-weight="bold" font-size="28.2" fill="#231f20">a</text>
<text x="-0.8" y="286.9" font-family="Liberation Sans, sans-serif" font-weight="bold" font-size="28.2" fill="#231f20">d</text>
<text x="647.2" y="37.9" font-family="Liberation Sans, sans-serif" font-weight="bold" font-size="28.2" fill="#231f20">b</text>
<text x="647.9" y="157.3" font-family="Liberation Sans, sans-serif" font-weight="bold" font-size="28.2" fill="#231f20">c</text>
<text x="647.5" y="289.5" font-family="Liberation Sans, sans-serif" font-weight="bold" font-size="28.2" fill="#231f20">e</text>
<text x="651" y="415.5" font-family="Liberation Sans, sans-serif" font-weight="bold" font-size="28.2" fill="#231f20">f</text>
<text transform="translate(14.9,176.4) rotate(-90)" font-family="Liberation Sans, sans-serif" font-size="19.75" fill="#231f20">IR-bHSFP</text>
<text transform="translate(14.8,491.1) rotate(-90)" font-family="Liberation Sans, sans-serif" font-size="19.6" fill="#231f20">Anti-periodic bHSFP</text>
<text transform="translate(308.5,76.5) rotate(-90)" font-family="Liberation Serif, DejaVu Serif, serif" font-style="italic" font-size="22.5" fill="#231f20">ϑ/π</text>
<text transform="translate(308.5,330.3) rotate(-90)" font-family="Liberation Serif, DejaVu Serif, serif" font-style="italic" font-size="22.5" fill="#231f20">ϑ/π</text>
<clipPath id="cpb"><rect x="369.6" y="9.0" width="315.6" height="106.0"/></clipPath>
<path d="M448.50,9.3 v11.5 M448.50,115.0 v-11.5 M527.40,9.3 v11.5 M527.40,115.0 v-11.5 M606.30,9.3 v11.5 M606.30,115.0 v-11.5 M671.39,9.3 v11.5 M671.39,115.0 v-11.5 M369.6,33.55 h12 M684.2,33.55 h-12 M369.6,74.30 h12 M684.2,74.30 h-12 " stroke="#4c4c4c" stroke-width="0.75" fill="none"/>
<text x="361.3" y="39.6" text-anchor="end" font-family="Liberation Sans, sans-serif" font-size="20.5" fill="#231f20">0.2</text>
<text x="361.3" y="80.4" text-anchor="end" font-family="Liberation Sans, sans-serif" font-size="20.5" fill="#231f20">0.1</text>
<text x="361.3" y="121.1" text-anchor="end" font-family="Liberation Sans, sans-serif" font-size="20.5" fill="#231f20">0</text>
<path d="M369.20000000000005,9.3 H685 M369.20000000000005,115.0 H685" stroke="#2a2a2a" stroke-width="1.2" fill="none"/>
<path d="M369.90000000000003,8.75 V115.55" stroke="#2a2a2a" stroke-width="1.45" fill="none"/>
<path d="M684.85,8.75 V115.55" stroke="#222" stroke-width="1.6" fill="none"/>
<polyline points="369.60,52.91 369.80,52.95 370.00,53.08 370.20,53.25 370.31,53.35 370.41,53.50 370.61,54.07 370.81,54.95 371.01,56.10 371.21,57.43 371.41,58.88 371.61,60.40 371.81,61.92 372.02,63.38 372.22,64.70 372.36,65.54 372.42,65.85 372.62,66.94 372.82,68.04 373.02,69.14 373.22,70.22 373.43,71.28 373.63,72.30 373.83,73.27 374.03,74.20 374.23,75.05 374.43,75.84 374.49,76.05 374.63,76.56 374.83,77.31 375.04,78.07 375.24,78.82 375.44,79.56 375.64,80.27 375.84,80.94 376.04,81.55 376.24,82.10 376.45,82.57 376.65,82.94 376.85,83.21 377.05,83.36 377.17,83.39 377.25,83.38 377.45,83.29 377.65,83.11 377.85,82.85 378.06,82.51 378.26,82.10 378.46,81.64 378.66,81.14 378.86,80.59 379.06,80.02 379.26,79.43 379.47,78.83 379.67,78.23 379.70,78.13 379.87,77.58 380.07,76.82 380.27,75.95 380.47,74.98 380.67,73.93 380.87,72.82 381.08,71.64 381.28,70.43 381.48,69.18 381.68,67.92 381.88,66.65 382.08,65.40 382.28,64.17 382.49,62.98 382.69,61.83 382.78,61.34 382.89,60.74 383.09,59.64 383.29,58.53 383.49,57.41 383.69,56.29 383.89,55.17 384.10,54.05 384.30,52.94 384.50,51.84 384.70,50.75 384.90,49.67 385.10,48.62 385.30,47.59 385.51,46.58 385.71,45.61 385.91,44.67 385.93,44.55 386.11,43.73 386.31,42.78 386.51,41.81 386.71,40.83 386.91,39.86 387.12,38.89 387.32,37.95 387.52,37.04 387.72,36.16 387.92,35.34 388.12,34.56 388.32,33.86 388.52,33.22 388.73,32.67 388.93,32.21 389.09,31.92 389.13,31.85 389.33,31.53 389.53,31.22 389.73,30.91 389.93,30.62 390.14,30.36 390.34,30.11 390.54,29.89 390.74,29.71 390.94,29.56 391.14,29.44 391.34,29.37 391.53,29.35 391.54,29.35 391.75,29.39 391.95,29.48 392.15,29.63 392.35,29.83 392.55,30.06 392.75,30.34 392.95,30.64 393.16,30.97 393.36,31.31 393.56,31.67 393.76,32.03 393.96,32.39 394.16,32.75 394.30,32.98 394.36,33.10 394.56,33.47 394.77,33.87 394.97,34.31 395.17,34.77 395.37,35.25 395.57,35.76 395.77,36.28 395.97,36.82 396.18,37.38 396.38,37.94 396.58,38.51 396.78,39.08 396.98,39.65 397.18,40.22 397.38,40.79 397.58,41.34 397.79,41.89 397.99,42.42 398.19,42.94 398.39,43.43 398.40,43.45 398.59,43.92 398.79,44.40 398.99,44.89 399.20,45.38 399.40,45.87 399.60,46.35 399.80,46.84 400.00,47.32 400.20,47.80 400.40,48.27 400.60,48.74 400.81,49.21 401.01,49.67 401.21,50.12 401.41,50.56 401.61,51.00 401.81,51.42 402.01,51.84 402.22,52.24 402.42,52.64 402.58,52.95 402.62,53.02 402.82,53.39 403.02,53.76 403.22,54.12 403.42,54.48 403.62,54.83 403.83,55.18 404.03,55.52 404.23,55.86 404.43,56.19 404.63,56.51 404.83,56.83 405.03,57.15 405.24,57.46 405.44,57.76 405.64,58.06 405.84,58.35 406.04,58.64 406.24,58.92 406.44,59.20 406.64,59.47 406.76,59.63 406.85,59.74 407.05,60.00 407.25,60.26 407.45,60.52 407.65,60.77 407.85,61.02 408.05,61.26 408.26,61.50 408.46,61.74 408.66,61.97 408.86,62.20 409.06,62.43 409.26,62.66 409.46,62.88 409.66,63.10 409.87,63.32 410.07,63.54 410.27,63.75 410.47,63.97 410.67,64.18 410.87,64.39 411.07,64.60 411.28,64.81 411.48,65.01 411.68,65.22 411.88,65.42 412.08,65.63 412.28,65.83 412.48,66.04 412.68,66.24 412.89,66.45 413.00,66.56 413.09,66.65 413.29,66.85 413.49,67.06 413.69,67.26 413.89,67.46 414.09,67.66 414.30,67.85 414.50,68.05 414.70,68.25 414.90,68.44 415.10,68.63 415.30,68.83 415.50,69.02 415.70,69.21 415.91,69.40 416.11,69.59 416.31,69.77 416.51,69.96 416.71,70.15 416.91,70.33 417.11,70.52 417.32,70.70 417.52,70.88 417.72,71.06 417.92,71.24 418.12,71.42 418.32,71.60 418.52,71.78 418.72,71.96 418.93,72.13 419.13,72.31 419.31,72.47 419.33,72.48 419.53,72.66 419.73,72.83 419.93,73.00 420.13,73.18 420.33,73.35 420.54,73.52 420.74,73.68 420.94,73.85 421.14,74.02 421.34,74.18 421.54,74.35 421.74,74.51 421.95,74.68 422.15,74.84 422.35,75.00 422.55,75.16 422.75,75.33 422.95,75.49 423.15,75.65 423.35,75.81 423.56,75.97 423.76,76.13 423.96,76.28 424.16,76.44 424.36,76.60 424.56,76.76 424.76,76.92 424.97,77.07 425.07,77.15 425.17,77.23 425.37,77.39 425.57,77.55 425.77,77.71 425.97,77.87 426.17,78.03 426.37,78.19 426.58,78.36 426.78,78.52 426.98,78.68 427.18,78.85 427.38,79.01 427.58,79.17 427.78,79.34 427.99,79.50 428.19,79.67 428.39,79.83 428.59,79.99 428.79,80.16 428.99,80.32 429.19,80.48 429.39,80.65 429.60,80.81 429.80,80.97 430.00,81.13 430.20,81.28 430.40,81.44 430.60,81.60 430.80,81.75 431.01,81.91 431.21,82.06 431.41,82.21 431.61,82.36 431.81,82.51 432.01,82.66 432.21,82.80 432.41,82.95 432.62,83.09 432.82,83.23 433.02,83.37 433.22,83.50 433.42,83.64 433.62,83.77 433.82,83.90 434.03,84.02 434.23,84.15 434.43,84.27 434.63,84.39 434.83,84.50 435.03,84.62 435.17,84.69 435.23,84.73 435.43,84.84 435.64,84.95 435.84,85.05 436.04,85.16 436.24,85.27 436.44,85.37 436.64,85.48 436.84,85.58 437.05,85.68 437.25,85.78 437.45,85.88 437.65,85.99 437.85,86.08 438.05,86.18 438.25,86.28 438.45,86.38 438.66,86.48 438.86,86.57 439.06,86.67 439.26,86.76 439.46,86.85 439.66,86.95 439.86,87.04 440.07,87.13 440.27,87.22 440.47,87.31 440.67,87.40 440.87,87.49 441.07,87.58 441.27,87.66 441.47,87.75 441.68,87.83 441.88,87.92 442.08,88.00 442.28,88.09 442.48,88.17 442.68,88.25 442.88,88.33 443.09,88.42 443.29,88.50 443.49,88.58 443.69,88.65 443.89,88.73 444.09,88.81 444.29,88.89 444.49,88.96 444.70,89.04 444.90,89.12 445.10,89.19 445.30,89.27 445.50,89.34 445.70,89.41 445.90,89.49 446.11,89.56 446.31,89.63 446.51,89.70 446.71,89.77 446.91,89.84 447.11,89.91 447.31,89.98 447.51,90.05 447.72,90.11 447.92,90.18 448.12,90.25 448.32,90.31 448.52,90.38 448.72,90.44 448.92,90.51 449.13,90.57 449.21,90.60 449.33,90.64 449.53,90.70 449.73,90.76 449.93,90.83 450.13,90.89 450.33,90.95 450.53,91.02 450.74,91.08 450.94,91.14 451.14,91.21 451.34,91.27 451.54,91.33 451.74,91.40 451.94,91.46 452.14,91.52 452.35,91.58 452.55,91.64 452.75,91.70 452.95,91.77 453.15,91.83 453.35,91.89 453.55,91.95 453.76,92.01 453.96,92.07 454.16,92.13 454.36,92.18 454.56,92.24 454.76,92.30 454.96,92.36 455.16,92.41 455.37,92.47 455.57,92.53 455.77,92.58 455.97,92.64 456.17,92.69 456.37,92.75 456.57,92.80 456.78,92.85 456.98,92.90 457.18,92.96 457.38,93.01 457.58,93.06 457.78,93.11 457.98,93.16 458.18,93.21 458.39,93.25 458.59,93.30 458.79,93.35 458.99,93.39 459.19,93.44 459.39,93.48 459.59,93.52 459.80,93.57 460.00,93.61 460.20,93.65 460.40,93.69 460.60,93.73 460.80,93.77 461.00,93.80 461.20,93.84 461.41,93.88 461.61,93.91 461.81,93.94 462.01,93.98 462.21,94.01 462.41,94.04 462.61,94.07 462.82,94.10 463.02,94.12 463.18,94.15 463.22,94.15 463.42,94.18 463.62,94.20 463.82,94.23 464.02,94.26 464.22,94.28 464.43,94.31 464.63,94.33 464.83,94.36 465.03,94.39 465.23,94.41 465.43,94.44 465.63,94.46 465.84,94.49 466.04,94.51 466.24,94.54 466.44,94.56 466.64,94.59 466.84,94.61 467.04,94.64 467.24,94.66 467.45,94.69 467.65,94.71 467.85,94.73 468.05,94.76 468.25,94.78 468.45,94.80 468.65,94.82 468.86,94.84 469.06,94.87 469.26,94.89 469.46,94.91 469.66,94.93 469.86,94.95 470.06,94.97 470.26,94.99 470.47,95.00 470.67,95.02 470.87,95.04 471.07,95.06 471.27,95.07 471.47,95.09 471.67,95.11 471.88,95.12 472.08,95.13 472.28,95.15 472.48,95.16 472.68,95.17 472.88,95.19 473.08,95.20 473.28,95.21 473.49,95.22 473.69,95.23 473.89,95.24 474.09,95.25 474.29,95.25 474.49,95.26 474.69,95.27 474.90,95.27 475.10,95.28 475.30,95.28 475.50,95.28 475.70,95.28 475.90,95.29 476.10,95.29 476.12,95.29 476.30,95.28 476.51,95.28 476.71,95.27 476.91,95.26 477.11,95.25 477.31,95.23 477.51,95.21 477.71,95.19 477.92,95.16 478.12,95.13 478.32,95.10 478.52,95.07 478.72,95.03 478.92,94.99 479.12,94.95 479.32,94.90 479.53,94.85 479.73,94.80 479.93,94.75 480.13,94.70 480.33,94.64 480.53,94.58 480.73,94.52 480.94,94.45 481.14,94.39 481.34,94.32 481.54,94.25 481.74,94.18 481.94,94.10 482.14,94.03 482.34,93.95 482.55,93.87 482.75,93.79 482.95,93.70 483.06,93.66 483.15,93.62 483.35,93.51 483.55,93.38 483.75,93.23 483.95,93.05 484.16,92.86 484.36,92.65 484.56,92.42 484.76,92.17 484.96,91.91 485.16,91.62 485.36,91.33 485.57,91.02 485.77,90.70 485.97,90.36 486.17,90.01 486.37,89.66 486.57,89.29 486.77,88.91 486.97,88.53 487.18,88.13 487.38,87.73 487.58,87.33 487.71,87.05 487.78,86.92 487.98,86.48 488.18,86.02 488.38,85.53 488.59,85.00 488.79,84.45 488.99,83.86 489.19,83.25 489.39,82.60 489.59,81.91 489.79,81.20 489.99,80.45 490.20,79.66 490.40,78.84 490.60,77.98 490.80,77.09 491.00,76.16 491.18,75.28 491.20,75.19 491.40,74.14 491.61,72.97 491.81,71.68 492.01,70.29 492.21,68.79 492.41,67.19 492.61,65.49 492.81,63.70 493.01,61.81 493.22,59.84 493.42,57.79 493.55,56.37 493.62,55.63 493.82,53.17 494.02,50.40 494.22,47.39 494.42,44.20 494.63,40.90 494.83,37.57 494.97,35.18 495.03,34.23 495.23,30.26 495.43,25.84 495.63,21.47 495.83,17.66 496.03,14.92 496.16,13.99 496.24,13.60 496.39,13.17 496.44,13.17 496.64,13.17 496.84,13.17 497.04,13.17 497.24,13.17 497.44,13.17 497.65,13.17 497.85,13.17 498.05,13.17 498.25,13.17 498.45,13.17 498.65,13.17 498.85,13.17 499.05,13.17 499.26,13.17 499.46,13.17 499.66,13.17 499.86,13.17 500.06,13.17 500.26,13.17 500.46,13.17 500.67,13.17 500.87,13.17 501.07,13.17 501.27,13.17 501.47,13.17 501.67,13.17 501.87,13.17 502.07,13.17 502.28,13.17 502.48,13.17 502.68,13.17 502.88,13.17 503.08,13.17 503.28,13.17 503.48,13.17 503.69,13.17 503.89,13.17 504.09,13.17 504.29,13.17 504.49,13.17 504.69,13.17 504.89,13.17 505.09,13.17 505.30,13.17 505.50,13.17 505.70,13.17 505.90,13.17 506.10,13.17 506.30,13.17 506.50,13.17 506.71,13.17 506.91,13.17 507.11,13.17 507.31,13.17 507.51,13.17 507.71,13.17 507.91,13.17 508.11,13.17 508.32,13.17 508.52,13.17 508.72,13.17 508.92,13.17 509.12,13.17 509.32,13.17 509.52,13.17 509.73,13.17 509.93,13.17 510.13,13.17 510.33,13.17 510.53,13.17 510.73,13.17 510.93,13.17 511.13,13.17 511.34,13.17 511.54,13.17 511.74,13.17 511.94,13.17 512.14,13.17 512.34,13.17 512.54,13.17 512.75,13.17 512.95,13.17 513.15,13.17 513.35,13.17 513.55,13.17 513.75,13.17 513.95,13.17 514.15,13.17 514.36,13.17 514.56,13.17 514.76,13.17 514.96,13.17 515.16,13.17 515.36,13.17 515.56,13.17 515.77,13.17 515.97,13.17 516.17,13.17 516.37,13.17 516.57,13.17 516.77,13.17 516.97,13.17 517.17,13.17 517.38,13.17 517.58,13.17 517.78,13.17 517.98,13.17 518.18,13.17 518.38,13.17 518.58,13.17 518.78,13.17 518.99,13.17 519.19,13.17 519.39,13.17 519.59,13.17 519.79,13.17 519.99,13.17 520.19,13.17 520.40,13.17 520.60,13.17 520.80,13.17 521.00,13.17 521.20,13.17 521.40,13.17 521.60,13.17 521.80,13.17 522.01,13.17 522.21,13.17 522.41,13.17 522.61,13.17 522.81,13.17 523.01,13.17 523.21,13.17 523.42,13.17 523.62,13.17 523.82,13.17 524.02,13.17 524.22,13.17 524.42,13.17 524.62,13.17 524.82,13.17 525.03,13.17 525.23,13.17 525.43,13.17 525.63,13.17 525.83,13.17 526.03,13.17 526.23,13.17 526.44,13.17 526.64,13.17 526.84,13.17 527.04,13.17 527.24,13.17 527.44,13.17 527.64,13.17 527.84,13.17 528.05,13.17 528.25,13.17 528.45,13.17 528.65,13.17 528.85,13.17 529.05,13.17 529.25,13.17 529.46,13.17 529.66,13.17 529.86,13.17 530.06,13.17 530.26,13.17 530.46,13.17 530.66,13.17 530.86,13.17 531.07,13.17 531.27,13.17 531.47,13.17 531.67,13.17 531.87,13.17 532.07,13.17 532.27,13.17 532.48,13.17 532.68,13.17 532.88,13.17 533.08,13.17 533.28,13.17 533.48,13.17 533.68,13.17 533.88,13.17 534.09,13.17 534.29,13.17 534.49,13.17 534.69,13.17 534.89,13.17 535.09,13.17 535.29,13.17 535.50,13.17 535.70,13.17 535.90,13.17 536.10,13.17 536.30,13.17 536.50,13.17 536.70,13.17 536.90,13.17 537.11,13.17 537.31,13.17 537.51,13.17 537.71,13.17 537.91,13.17 538.05,13.17 538.11,16.63 538.31,60.31 538.52,108.03 538.60,115.05 538.72,115.05 538.92,115.05 539.12,115.05 539.32,115.05 539.52,115.05 539.72,115.05 539.92,115.05 540.13,115.05 540.33,115.05 540.53,115.05 540.73,115.05 540.93,115.05 541.13,115.05 541.33,115.05 541.54,115.05 541.74,115.05 541.94,115.05 542.14,115.05 542.34,115.05 542.54,115.05 542.74,115.05 542.94,115.05 543.15,115.05 543.35,115.05 543.55,115.05 543.75,115.05 543.95,115.05 544.15,115.05 544.35,115.05 544.56,115.05 544.76,115.05 544.96,115.05 545.16,115.05 545.36,115.05 545.56,115.05 545.76,115.05 545.96,115.05 546.17,115.05 546.37,115.05 546.57,115.05 546.77,115.05 546.97,115.05 547.17,115.05 547.37,115.05 547.58,115.05 547.78,115.05 547.98,115.05 548.18,115.05 548.38,115.05 548.58,115.05 548.78,115.05 548.98,115.05 549.19,115.05 549.39,115.05 549.59,115.05 549.79,115.05 549.99,115.05 550.19,115.05 550.39,115.05 550.59,115.05 550.80,115.05 551.00,115.05 551.20,115.05 551.40,115.05 551.60,115.05 551.80,115.05 552.00,115.05 552.21,115.05 552.41,115.05 552.61,115.05 552.81,115.05 553.01,115.05 553.21,115.05 553.41,115.05 553.61,115.05 553.82,115.05 554.02,115.05 554.22,115.05 554.42,115.05 554.62,115.05 554.82,115.05 555.02,115.05 555.23,115.05 555.43,115.05 555.63,115.05 555.83,115.05 556.03,115.05 556.23,115.05 556.43,115.05 556.63,115.05 556.84,115.05 557.04,115.05 557.24,115.05 557.44,115.05 557.64,115.05 557.84,115.05 558.04,115.05 558.25,115.05 558.45,115.05 558.65,115.05 558.85,115.05 559.05,115.05 559.25,115.05 559.45,115.05 559.65,115.05 559.86,115.05 560.06,115.05 560.26,115.05 560.46,115.05 560.66,115.05 560.86,115.05 561.06,115.05 561.27,115.05 561.47,115.05 561.67,115.05 561.87,115.05 562.07,115.05 562.27,115.05 562.47,115.05 562.67,115.05 562.88,115.05 563.08,115.05 563.28,115.05 563.48,115.05 563.68,115.05 563.88,115.05 564.08,115.05 564.29,115.05 564.49,115.05 564.69,115.05 564.89,115.05 565.09,115.05 565.29,115.05 565.49,115.05 565.69,115.05 565.90,115.05 566.10,115.05 566.30,115.05 566.50,115.05 566.70,115.05 566.90,115.05 567.10,115.05 567.31,115.05 567.51,115.05 567.71,115.05 567.91,115.05 568.11,115.05 568.31,115.05 568.51,115.05 568.71,115.05 568.92,115.05 569.12,115.05 569.32,115.05 569.52,115.05 569.72,115.05 569.92,115.05 570.12,115.05 570.33,115.05 570.53,115.05 570.73,115.05 570.93,115.05 571.13,115.05 571.19,115.05 571.33,114.85 571.53,114.01 571.73,112.67 571.94,111.04 572.14,109.31 572.34,107.69 572.54,106.35 572.69,105.68 572.74,105.50 572.94,104.82 573.14,104.18 573.35,103.57 573.55,103.00 573.75,102.46 573.95,101.96 574.15,101.48 574.35,101.05 574.55,100.65 574.75,100.29 574.96,99.96 575.16,99.67 575.36,99.42 575.56,99.20 575.61,99.16 575.76,99.02 575.96,98.84 576.16,98.66 576.37,98.49 576.57,98.32 576.77,98.16 576.97,98.00 577.17,97.85 577.37,97.71 577.57,97.58 577.77,97.45 577.98,97.33 578.18,97.22 578.38,97.12 578.58,97.03 578.78,96.95 578.98,96.88 579.18,96.83 579.39,96.78 579.59,96.74 579.79,96.72 579.99,96.71 580.03,96.71 580.19,96.71 580.39,96.71 580.59,96.72 580.79,96.72 581.00,96.72 581.20,96.72 581.40,96.73 581.60,96.73 581.80,96.74 582.00,96.74 582.20,96.75 582.40,96.76 582.61,96.77 582.81,96.77 583.01,96.78 583.21,96.79 583.41,96.80 583.61,96.81 583.81,96.82 584.02,96.83 584.22,96.84 584.42,96.86 584.62,96.87 584.82,96.88 585.02,96.89 585.22,96.91 585.42,96.92 585.63,96.93 585.83,96.95 586.03,96.96 586.23,96.98 586.43,96.99 586.63,97.01 586.83,97.02 587.04,97.04 587.24,97.05 587.44,97.07 587.64,97.09 587.84,97.10 588.04,97.12 588.24,97.14 588.44,97.15 588.65,97.17 588.85,97.19 589.05,97.20 589.25,97.22 589.45,97.24 589.65,97.25 589.85,97.27 590.06,97.29 590.26,97.30 590.46,97.32 590.66,97.34 590.86,97.35 591.06,97.37 591.26,97.39 591.46,97.40 591.67,97.42 591.87,97.43 592.07,97.45 592.27,97.46 592.47,97.48 592.67,97.49 592.87,97.51 593.08,97.52 593.12,97.53 593.28,97.54 593.48,97.55 593.68,97.57 593.88,97.59 594.08,97.60 594.28,97.62 594.48,97.64 594.69,97.66 594.89,97.67 595.09,97.69 595.29,97.71 595.49,97.73 595.69,97.75 595.89,97.77 596.10,97.79 596.30,97.81 596.50,97.84 596.70,97.86 596.90,97.88 597.10,97.90 597.30,97.92 597.50,97.94 597.71,97.97 597.91,97.99 598.11,98.01 598.31,98.03 598.51,98.06 598.71,98.08 598.91,98.10 599.12,98.12 599.32,98.15 599.52,98.17 599.72,98.19 599.92,98.21 600.12,98.24 600.32,98.26 600.52,98.28 600.73,98.30 600.93,98.32 601.13,98.34 601.33,98.36 601.53,98.38 601.73,98.40 601.93,98.42 602.14,98.44 602.34,98.46 602.54,98.48 602.74,98.50 602.94,98.52 603.14,98.53 603.34,98.55 603.54,98.57 603.75,98.58 603.95,98.60 604.15,98.61 604.35,98.63 604.55,98.64 604.75,98.65 604.95,98.67 605.16,98.68 605.36,98.69 605.56,98.70 605.76,98.71 605.96,98.71 606.16,98.72 606.36,98.73 606.56,98.73 606.77,98.74 606.97,98.74 607.17,98.75 607.37,98.75 607.57,98.75 607.72,98.75 607.77,98.75 607.97,98.75 608.18,98.74 608.38,98.73 608.58,98.71 608.78,98.69 608.98,98.67 609.18,98.65 609.38,98.62 609.58,98.58 609.79,98.55 609.99,98.51 610.19,98.46 610.39,98.42 610.59,98.37 610.79,98.31 610.99,98.26 611.20,98.20 611.40,98.14 611.60,98.08 611.80,98.01 612.00,97.94 612.20,97.87 612.40,97.80 612.60,97.73 612.81,97.65 613.01,97.57 613.21,97.49 613.41,97.41 613.61,97.32 613.81,97.24 614.01,97.15 614.22,97.06 614.42,96.97 614.62,96.88 614.82,96.79 614.98,96.71 615.02,96.69 615.22,96.59 615.42,96.48 615.62,96.35 615.83,96.21 616.03,96.06 616.23,95.90 616.43,95.73 616.63,95.55 616.83,95.36 617.03,95.15 617.23,94.94 617.44,94.71 617.64,94.48 617.84,94.24 618.04,93.98 618.24,93.72 618.44,93.45 618.64,93.17 618.85,92.88 619.05,92.58 619.25,92.27 619.45,91.96 619.65,91.63 619.85,91.30 620.03,91.01 620.05,90.96 620.25,90.60 620.46,90.21 620.66,89.78 620.86,89.32 621.06,88.83 621.26,88.31 621.46,87.76 621.66,87.17 621.87,86.56 622.07,85.92 622.27,85.25 622.47,84.55 622.67,83.83 622.87,83.07 623.07,82.29 623.27,81.49 623.48,80.65 623.68,79.79 623.82,79.19 623.88,78.91 624.08,77.94 624.28,76.88 624.48,75.73 624.68,74.50 624.89,73.18 625.09,71.80 625.29,70.35 625.49,68.84 625.69,67.27 625.89,65.65 626.09,63.98 626.29,62.27 626.50,60.52 626.70,58.74 626.74,58.41 626.90,56.90 627.10,54.92 627.30,52.81 627.50,50.59 627.70,48.27 627.91,45.87 628.11,43.40 628.31,40.89 628.51,38.33 628.71,35.75 628.79,34.77 628.91,33.05 629.11,29.93 629.31,26.58 629.52,23.19 629.72,20.00 629.92,17.22 630.12,15.07 630.21,14.40 630.32,13.61 630.44,13.17 630.52,13.17 630.72,13.17 630.93,13.17 631.13,13.17 631.33,13.17 631.53,13.17 631.73,13.17 631.93,13.17 632.13,13.17 632.33,13.17 632.54,13.17 632.74,13.17 632.94,13.17 633.14,13.17 633.34,13.17 633.54,13.17 633.74,13.17 633.95,13.17 634.15,13.17 634.35,13.17 634.55,13.17 634.75,13.17 634.95,13.17 635.15,13.17 635.35,13.17 635.56,13.17 635.76,13.17 635.96,13.17 636.16,13.17 636.36,13.17 636.56,13.17 636.76,13.17 636.97,13.17 637.17,13.17 637.37,13.17 637.57,13.17 637.77,13.17 637.97,13.17 638.17,13.17 638.37,13.17 638.58,13.17 638.78,13.17 638.98,13.17 639.18,13.17 639.38,13.17 639.58,13.17 639.78,13.17 639.99,13.17 640.19,13.17 640.39,13.17 640.59,13.17 640.79,13.17 640.99,13.17 641.19,13.17 641.39,13.17 641.60,13.17 641.80,13.17 642.00,13.17 642.20,13.17 642.40,13.17 642.60,13.17 642.80,13.17 643.01,13.17 643.21,13.17 643.41,13.17 643.61,13.17 643.81,13.17 644.01,13.17 644.21,13.17 644.41,13.17 644.62,13.17 644.82,13.17 645.02,13.17 645.22,13.17 645.42,13.17 645.62,13.17 645.82,13.17 646.03,13.17 646.23,13.17 646.43,13.17 646.63,13.17 646.83,13.17 647.03,13.17 647.23,13.17 647.43,13.17 647.64,13.17 647.84,13.17 648.04,13.17 648.24,13.17 648.44,13.17 648.64,13.17 648.84,13.17 649.04,13.17 649.25,13.17 649.45,13.17 649.65,13.17 649.85,13.17 650.05,13.17 650.25,13.17 650.45,13.17 650.66,13.17 650.86,13.17 651.06,13.17 651.26,13.17 651.46,13.17 651.66,13.17 651.86,13.17 652.06,13.17 652.27,13.17 652.47,13.17 652.67,13.17 652.87,13.17 653.07,13.17 653.27,13.17 653.47,13.17 653.68,13.17 653.88,13.17 654.08,13.17 654.28,13.17 654.48,13.17 654.68,13.17 654.88,13.17 655.08,13.17 655.29,13.17 655.49,13.17 655.69,13.17 655.89,13.17 656.09,13.17 656.29,13.17 656.49,13.17 656.70,13.17 656.90,13.17 657.10,13.17 657.30,13.17 657.50,13.17 657.70,13.17 657.90,13.17 658.10,13.17 658.31,13.17 658.51,13.17 658.71,13.17 658.91,13.17 659.11,13.17 659.31,13.17 659.51,13.17 659.72,13.17 659.92,13.17 660.12,13.17 660.32,13.17 660.52,13.17 660.72,13.17 660.92,13.17 661.12,13.17 661.33,13.17 661.53,13.17 661.73,13.17 661.93,13.17 662.13,13.17 662.33,13.17 662.53,13.17 662.74,13.17 662.94,13.17 663.14,13.17 663.34,13.17 663.54,13.17 663.74,13.17 663.94,13.17 664.14,13.17 664.35,13.17 664.55,13.17 664.75,13.17 664.95,13.17 665.15,13.17 665.35,13.17 665.55,13.17 665.76,13.17 665.96,13.17 666.16,13.17 666.36,13.17 666.56,13.17 666.76,13.17 666.96,13.17 667.16,13.17 667.37,13.17 667.57,13.17 667.77,13.17 667.97,13.17 668.17,13.17 668.37,13.17 668.57,13.17 668.78,13.17 668.98,13.17 669.18,13.17 669.38,13.17 669.58,13.17 669.78,13.17 669.98,13.17 670.18,13.17 670.39,13.17 670.59,13.17 670.79,13.17 670.99,13.17 671.19,13.17 671.39,13.17" fill="none" stroke="url(#jet)" stroke-width="2.3" stroke-linejoin="round" clip-path="url(#cpb)"/>
<clipPath id="cpc"><rect x="369.6" y="132.0" width="315.6" height="106.19999999999997"/></clipPath>
<path d="M448.50,132.3 v11.5 M448.50,238.2 v-11.5 M527.40,132.3 v11.5 M527.40,238.2 v-11.5 M606.30,132.3 v11.5 M606.30,238.2 v-11.5 M671.39,132.3 v11.5 M671.39,238.2 v-11.5 M369.6,149.00 h12 M684.2,149.00 h-12 M369.6,171.30 h12 M684.2,171.30 h-12 M369.6,193.60 h12 M684.2,193.60 h-12 M369.6,215.98 h12 M684.2,215.98 h-12 " stroke="#4c4c4c" stroke-width="0.75" fill="none"/>
<text x="361.3" y="155.1" text-anchor="end" font-family="Liberation Sans, sans-serif" font-size="20.5" fill="#231f20">0.6</text>
<text x="361.3" y="177.4" text-anchor="end" font-family="Liberation Sans, sans-serif" font-size="20.5" fill="#231f20">0.4</text>
<text x="361.3" y="199.7" text-anchor="end" font-family="Liberation Sans, sans-serif" font-size="20.5" fill="#231f20">0.2</text>
<text x="361.3" y="222.1" text-anchor="end" font-family="Liberation Sans, sans-serif" font-size="20.5" fill="#231f20">0</text>
<text x="361.3" y="244.3" text-anchor="end" font-family="Liberation Sans, sans-serif" font-size="20.5" fill="#231f20">−0.2</text>
<path d="M369.20000000000005,132.3 H685 M369.20000000000005,238.2 H685" stroke="#2a2a2a" stroke-width="1.2" fill="none"/>
<path d="M369.90000000000003,131.75 V238.75" stroke="#2a2a2a" stroke-width="1.45" fill="none"/>
<path d="M684.85,131.75 V238.75" stroke="#222" stroke-width="1.6" fill="none"/>
<polyline points="369.60,323.80 369.94,321.79 370.27,319.82 370.61,317.88 370.94,315.99 371.28,314.14 371.61,312.33 371.95,310.57 371.97,310.48 372.29,308.86 372.62,307.20 372.96,305.58 373.29,303.98 373.63,302.42 373.96,300.87 374.30,299.34 374.64,297.81 374.73,297.38 374.97,296.29 375.31,294.80 375.64,293.33 375.98,291.88 376.31,290.43 376.65,288.98 376.99,287.52 377.32,286.04 377.49,285.29 377.66,284.53 377.99,282.97 378.33,281.38 378.66,279.77 379.00,278.17 379.34,276.59 379.67,275.05 380.01,273.56 380.25,272.52 380.34,272.15 380.68,270.79 381.01,269.47 381.35,268.19 381.69,266.94 382.02,265.70 382.36,264.48 382.69,263.26 383.03,262.04 383.36,260.81 383.41,260.64 383.70,259.55 384.04,258.28 384.37,257.00 384.71,255.72 385.04,254.46 385.38,253.21 385.71,251.99 386.05,250.81 386.38,249.68 386.56,249.10 386.72,248.60 387.06,247.59 387.39,246.62 387.73,245.69 388.06,244.79 388.40,243.90 388.73,243.02 389.07,242.13 389.41,241.22 389.74,240.29 390.08,239.32 390.41,238.30 390.51,238.00 390.75,237.21 391.08,236.02 391.42,234.78 391.76,233.51 392.09,232.25 392.43,231.04 392.76,229.92 392.88,229.56 393.10,228.89 393.43,227.89 393.77,226.93 394.11,226.00 394.44,225.09 394.78,224.22 395.11,223.38 395.45,222.56 395.78,221.78 395.87,221.57 396.12,221.02 396.46,220.28 396.79,219.57 397.13,218.88 397.46,218.21 397.80,217.55 398.13,216.91 398.47,216.28 398.81,215.66 399.14,215.05 399.48,214.44 399.81,213.84 399.90,213.69 400.15,213.24 400.48,212.65 400.82,212.06 401.16,211.48 401.49,210.90 401.83,210.34 402.16,209.77 402.50,209.22 402.83,208.68 403.17,208.14 403.51,207.61 403.84,207.10 404.18,206.59 404.51,206.10 404.79,205.70 404.85,205.62 405.18,205.14 405.52,204.67 405.86,204.20 406.19,203.74 406.53,203.28 406.86,202.83 407.20,202.38 407.53,201.94 407.87,201.50 408.21,201.07 408.54,200.64 408.88,200.22 409.21,199.80 409.55,199.39 409.88,198.99 410.22,198.59 410.56,198.20 410.89,197.81 411.23,197.43 411.56,197.06 411.90,196.70 412.23,196.34 412.57,195.99 412.84,195.71 412.91,195.64 413.24,195.30 413.58,194.97 413.91,194.64 414.25,194.32 414.58,194.00 414.92,193.69 415.25,193.38 415.59,193.07 415.93,192.77 416.26,192.48 416.60,192.19 416.93,191.90 417.27,191.61 417.60,191.33 417.94,191.05 418.28,190.77 418.61,190.50 418.95,190.22 419.28,189.95 419.62,189.68 419.95,189.41 420.29,189.14 420.63,188.87 420.96,188.61 421.30,188.34 421.63,188.07 421.97,187.81 422.30,187.54 422.64,187.27 422.78,187.16 422.98,187.00 423.31,186.74 423.65,186.47 423.98,186.21 424.32,185.95 424.65,185.68 424.99,185.42 425.33,185.17 425.66,184.91 426.00,184.65 426.33,184.40 426.67,184.14 427.00,183.89 427.34,183.64 427.68,183.39 428.01,183.14 428.35,182.89 428.68,182.64 429.02,182.40 429.35,182.15 429.69,181.90 430.03,181.66 430.36,181.42 430.70,181.17 431.03,180.93 431.37,180.69 431.70,180.45 432.04,180.21 432.38,179.97 432.71,179.73 432.72,179.73 433.05,179.49 433.38,179.26 433.72,179.02 434.05,178.78 434.39,178.55 434.73,178.31 435.06,178.08 435.40,177.85 435.73,177.62 436.07,177.39 436.40,177.16 436.74,176.93 437.08,176.70 437.41,176.47 437.75,176.24 438.08,176.02 438.42,175.79 438.75,175.56 439.09,175.34 439.43,175.11 439.76,174.89 440.10,174.67 440.43,174.44 440.77,174.22 441.10,174.00 441.44,173.77 441.78,173.55 442.11,173.33 442.45,173.11 442.78,172.89 443.12,172.67 443.45,172.45 443.79,172.23 444.12,172.01 444.46,171.79 444.71,171.62 444.80,171.57 445.13,171.35 445.47,171.13 445.80,170.91 446.14,170.69 446.47,170.48 446.81,170.26 447.15,170.04 447.48,169.83 447.82,169.61 448.15,169.40 448.49,169.18 448.82,168.97 449.16,168.76 449.50,168.54 449.83,168.33 450.17,168.12 450.50,167.91 450.84,167.69 451.17,167.48 451.51,167.27 451.85,167.06 452.18,166.85 452.52,166.64 452.85,166.43 453.19,166.21 453.52,166.00 453.86,165.79 454.20,165.58 454.53,165.37 454.65,165.30 454.87,165.16 455.20,164.95 455.54,164.74 455.87,164.53 456.21,164.33 456.55,164.12 456.88,163.91 457.22,163.70 457.55,163.50 457.89,163.29 458.22,163.08 458.56,162.87 458.90,162.66 459.23,162.46 459.57,162.25 459.90,162.04 460.02,161.97 460.24,161.83 460.57,161.62 460.91,161.41 461.25,161.19 461.58,160.98 461.92,160.77 462.25,160.56 462.59,160.34 462.92,160.13 463.26,159.92 463.60,159.71 463.93,159.50 464.27,159.29 464.60,159.08 464.60,159.07 464.94,158.86 465.27,158.65 465.61,158.44 465.95,158.23 466.28,158.02 466.62,157.81 466.95,157.60 467.29,157.40 467.62,157.19 467.96,156.98 468.30,156.77 468.63,156.56 468.97,156.36 469.30,156.15 469.64,155.95 469.96,155.75 469.97,155.74 470.31,155.54 470.65,155.33 470.98,155.11 471.32,154.90 471.65,154.68 471.99,154.46 472.32,154.24 472.66,154.02 472.99,153.79 473.33,153.57 473.67,153.35 474.00,153.13 474.34,152.91 474.67,152.69 475.01,152.47 475.34,152.26 475.68,152.05 476.02,151.84 476.35,151.64 476.69,151.44 477.02,151.25 477.36,151.06 477.69,150.88 478.03,150.70 478.37,150.54 478.70,150.37 479.04,150.22 479.37,150.08 479.71,149.94 479.90,149.87 480.04,149.81 480.38,149.68 480.72,149.55 481.05,149.42 481.39,149.29 481.72,149.16 482.06,149.03 482.39,148.90 482.73,148.77 483.07,148.65 483.40,148.54 483.74,148.43 484.07,148.33 484.41,148.24 484.74,148.15 485.08,148.07 485.42,148.01 485.75,147.96 486.09,147.91 486.42,147.88 486.76,147.87 486.92,147.87 487.09,147.87 487.43,147.87 487.77,147.87 488.10,147.87 488.44,147.87 488.77,147.87 489.11,147.87 489.44,147.87 489.78,147.87 489.84,147.87 490.12,147.90 490.45,148.03 490.79,148.25 491.12,148.53 491.46,148.87 491.79,149.26 492.13,149.67 492.29,149.87 492.47,150.12 492.80,150.75 493.14,151.54 493.47,152.45 493.81,153.45 494.14,154.49 494.26,154.86 494.48,155.58 494.82,156.85 495.15,158.24 495.49,159.69 495.82,161.15 496.16,162.55 496.23,162.85 496.49,163.88 496.83,165.22 497.17,166.56 497.50,167.89 497.84,169.20 498.17,170.47 498.51,171.70 498.84,172.84 498.84,172.86 499.18,173.99 499.52,175.09 499.85,176.17 500.19,177.23 500.52,178.25 500.86,179.23 501.19,180.17 501.53,181.06 501.84,181.83 501.87,181.90 502.20,182.71 502.54,183.50 502.87,184.27 503.21,185.02 503.54,185.74 503.88,186.44 504.21,187.11 504.55,187.75 504.89,188.36 505.22,188.94 505.56,189.48 505.78,189.83 505.89,189.99 506.23,190.48 506.56,190.96 506.90,191.43 507.24,191.88 507.57,192.31 507.91,192.74 508.24,193.14 508.58,193.53 508.91,193.91 509.25,194.26 509.59,194.60 509.92,194.93 510.26,195.23 510.59,195.52 510.83,195.71 510.93,195.79 511.26,196.04 511.60,196.30 511.94,196.54 512.27,196.78 512.61,197.01 512.94,197.24 513.28,197.46 513.61,197.67 513.95,197.87 514.29,198.07 514.62,198.26 514.96,198.45 515.29,198.62 515.63,198.79 515.96,198.96 516.30,199.11 516.64,199.26 516.97,199.40 517.31,199.53 517.64,199.66 517.77,199.71 517.98,199.78 518.31,199.89 518.65,200.00 518.99,200.11 519.32,200.22 519.66,200.33 519.99,200.43 520.33,200.53 520.66,200.63 521.00,200.72 521.34,200.81 521.67,200.90 522.01,200.99 522.34,201.08 522.68,201.16 523.01,201.24 523.35,201.32 523.69,201.40 524.02,201.47 524.36,201.54 524.69,201.61 525.03,201.68 525.36,201.74 525.70,201.81 526.04,201.87 526.37,201.93 526.71,201.99 527.04,202.04 527.38,202.09 527.71,202.15 527.72,202.15 528.05,202.20 528.39,202.25 528.72,202.30 529.06,202.35 529.39,202.40 529.73,202.46 530.06,202.51 530.40,202.56 530.74,202.61 531.07,202.66 531.41,202.71 531.74,202.75 532.08,202.80 532.41,202.84 532.75,202.89 533.08,202.93 533.42,202.97 533.76,203.01 534.09,203.04 534.43,203.08 534.76,203.11 535.10,203.14 535.43,203.16 535.77,203.19 536.11,203.21 536.44,203.22 536.78,203.24 537.11,203.25 537.45,203.25 537.78,203.26 537.89,203.26 538.12,203.20 538.46,202.93 538.79,202.50 539.13,201.97 539.46,201.39 539.80,200.82 540.02,200.48 540.13,200.32 540.47,199.84 540.81,199.35 541.14,198.85 541.48,198.34 541.81,197.81 542.15,197.28 542.48,196.73 542.82,196.17 543.16,195.59 543.49,195.00 543.65,194.71 543.83,194.39 544.16,193.72 544.50,193.02 544.83,192.29 545.17,191.57 545.51,190.85 545.84,190.17 546.02,189.83 546.18,189.53 546.51,188.91 546.85,188.29 547.18,187.68 547.52,187.08 547.86,186.49 548.19,185.91 548.53,185.33 548.86,184.76 549.20,184.20 549.53,183.64 549.87,183.09 550.21,182.55 550.54,182.01 550.88,181.48 551.21,180.95 551.55,180.43 551.88,179.92 551.94,179.84 552.22,179.41 552.56,178.90 552.89,178.39 553.23,177.89 553.56,177.39 553.90,176.89 554.23,176.40 554.57,175.91 554.91,175.42 555.24,174.94 555.58,174.46 555.91,173.99 556.25,173.53 556.58,173.07 556.92,172.61 557.26,172.16 557.59,171.72 557.93,171.28 558.26,170.85 558.60,170.43 558.93,170.01 559.27,169.60 559.61,169.20 559.91,168.85 559.94,168.81 560.28,168.42 560.61,168.04 560.95,167.66 561.28,167.29 561.62,166.92 561.95,166.56 562.29,166.20 562.63,165.85 562.96,165.50 563.30,165.15 563.63,164.81 563.97,164.47 564.30,164.14 564.64,163.81 564.98,163.49 565.31,163.17 565.65,162.85 565.98,162.54 566.32,162.23 566.65,161.93 566.99,161.63 567.33,161.33 567.66,161.04 567.88,160.86 568.00,160.75 568.33,160.46 568.67,160.18 569.00,159.90 569.34,159.62 569.68,159.35 570.01,159.07 570.35,158.80 570.68,158.54 571.02,158.28 571.35,158.01 571.69,157.76 572.03,157.50 572.36,157.25 572.70,157.01 573.03,156.76 573.37,156.52 573.70,156.29 574.04,156.05 574.38,155.82 574.71,155.60 575.05,155.37 575.38,155.16 575.72,154.94 575.84,154.86 576.05,154.73 576.39,154.52 576.73,154.32 577.06,154.12 577.40,153.92 577.73,153.72 578.07,153.53 578.40,153.34 578.74,153.15 579.08,152.96 579.41,152.78 579.75,152.59 580.08,152.41 580.42,152.23 580.75,152.06 581.09,151.88 581.43,151.71 581.76,151.54 582.10,151.36 582.43,151.19 582.77,151.03 583.10,150.86 583.44,150.69 583.78,150.52 584.11,150.36 584.45,150.19 584.78,150.03 585.12,149.86 585.45,149.70 585.79,149.53 585.79,149.53 586.13,149.37 586.46,149.20 586.80,149.04 587.13,148.88 587.47,148.71 587.80,148.55 588.14,148.39 588.48,148.23 588.81,148.07 589.15,147.92 589.48,147.76 589.82,147.60 590.15,147.45 590.49,147.29 590.82,147.14 591.16,146.98 591.50,146.83 591.83,146.68 592.17,146.53 592.50,146.38 592.84,146.24 593.17,146.09 593.51,145.94 593.85,145.80 594.18,145.66 594.52,145.52 594.85,145.37 595.19,145.24 595.52,145.10 595.81,144.98 595.86,144.96 596.20,144.82 596.53,144.69 596.87,144.55 597.20,144.42 597.54,144.29 597.87,144.15 598.21,144.02 598.55,143.89 598.88,143.76 599.22,143.63 599.55,143.50 599.89,143.37 600.22,143.25 600.56,143.12 600.90,143.00 601.23,142.87 601.57,142.75 601.90,142.63 602.24,142.50 602.57,142.38 602.91,142.26 603.25,142.14 603.58,142.03 603.92,141.91 604.25,141.79 604.59,141.68 604.92,141.57 605.26,141.45 605.60,141.34 605.93,141.23 606.27,141.12 606.60,141.02 606.69,140.99 606.94,140.91 607.27,140.80 607.61,140.69 607.95,140.58 608.28,140.46 608.62,140.35 608.95,140.23 609.29,140.12 609.62,140.01 609.96,139.90 610.30,139.78 610.63,139.67 610.97,139.57 611.30,139.46 611.64,139.36 611.97,139.26 612.31,139.16 612.65,139.07 612.98,138.98 613.32,138.89 613.65,138.81 613.99,138.73 614.32,138.66 614.66,138.60 615.00,138.54 615.33,138.48 615.67,138.44 615.69,138.43 616.00,138.39 616.34,138.35 616.67,138.31 617.01,138.27 617.35,138.23 617.68,138.19 618.02,138.15 618.35,138.12 618.69,138.09 619.02,138.06 619.36,138.04 619.70,138.02 620.03,138.00 620.37,137.99 620.70,137.99 620.74,137.99 621.04,138.00 621.37,138.05 621.71,138.12 622.04,138.22 622.38,138.35 622.72,138.50 623.05,138.68 623.39,138.87 623.72,139.08 624.06,139.31 624.39,139.55 624.68,139.76 624.73,139.80 625.07,140.14 625.40,140.60 625.74,141.17 626.07,141.83 626.41,142.57 626.74,143.37 627.08,144.22 627.37,144.98 627.42,145.12 627.75,146.19 628.09,147.49 628.42,148.94 628.76,150.51 629.09,152.13 629.43,153.75 629.77,155.31 629.89,155.86 630.10,156.79 630.44,158.30 630.77,159.85 631.11,161.40 631.44,162.94 631.78,164.45 632.12,165.91 632.45,167.30 632.73,168.40 632.79,168.61 633.12,169.87 633.46,171.10 633.79,172.30 634.13,173.46 634.47,174.59 634.80,175.66 635.14,176.70 635.47,177.68 635.73,178.39 635.81,178.61 636.14,179.51 636.48,180.39 636.82,181.25 637.15,182.09 637.49,182.90 637.82,183.69 638.16,184.44 638.49,185.16 638.83,185.84 639.17,186.48 639.50,187.07 639.75,187.50 639.84,187.63 640.17,188.15 640.51,188.66 640.84,189.15 641.18,189.62 641.52,190.07 641.85,190.50 642.19,190.92 642.52,191.32 642.86,191.71 643.19,192.08 643.53,192.44 643.87,192.79 644.20,193.13 644.54,193.46 644.80,193.71 644.87,193.78 645.21,194.09 645.54,194.39 645.88,194.69 646.22,194.98 646.55,195.27 646.89,195.55 647.22,195.82 647.56,196.08 647.89,196.34 648.23,196.59 648.57,196.83 648.90,197.06 649.24,197.28 649.57,197.49 649.91,197.70 650.24,197.89 650.58,198.08 650.72,198.15 650.91,198.25 651.25,198.42 651.59,198.59 651.92,198.76 652.26,198.92 652.59,199.07 652.93,199.23 653.26,199.38 653.60,199.52 653.94,199.67 654.27,199.80 654.61,199.94 654.94,200.07 655.28,200.20 655.61,200.32 655.95,200.44 656.29,200.56 656.62,200.67 656.96,200.77 657.29,200.88 657.63,200.98 657.96,201.07 658.30,201.16 658.64,201.25 658.69,201.26 658.97,201.33 659.31,201.41 659.64,201.49 659.98,201.56 660.31,201.64 660.65,201.71 660.99,201.78 661.32,201.85 661.66,201.92 661.99,201.98 662.33,202.04 662.66,202.11 663.00,202.16 663.34,202.22 663.67,202.28 664.01,202.33 664.34,202.39 664.68,202.44 665.01,202.49 665.35,202.53 665.69,202.58 666.02,202.62 666.36,202.67 666.66,202.70 666.69,202.71 667.03,202.75 667.36,202.78 667.70,202.82 668.04,202.86 668.37,202.89 668.71,202.93 669.04,202.96 669.38,202.99 669.71,203.02 670.05,203.05 670.39,203.08 670.72,203.10 671.06,203.12 671.39,203.15" fill="none" stroke="#3353a8" stroke-width="1.25" stroke-linejoin="round" clip-path="url(#cpc)"/>
<polyline points="369.60,214.69 369.94,213.50 370.27,212.33 370.61,211.18 370.94,210.06 371.28,208.95 371.61,207.87 371.95,206.81 372.29,205.78 372.62,204.78 372.96,203.80 372.99,203.70 373.29,202.85 373.63,201.90 373.96,200.97 374.30,200.06 374.64,199.16 374.97,198.28 375.31,197.43 375.64,196.60 375.98,195.80 376.31,195.04 376.65,194.31 376.94,193.71 376.99,193.61 377.32,192.94 377.66,192.28 377.99,191.64 378.33,191.01 378.66,190.40 379.00,189.81 379.34,189.25 379.67,188.72 380.01,188.21 380.34,187.73 380.68,187.29 380.96,186.94 381.01,186.88 381.35,186.48 381.69,186.07 382.02,185.68 382.36,185.31 382.69,184.96 383.03,184.67 383.36,184.43 383.70,184.25 383.96,184.17 384.04,184.15 384.37,184.08 384.71,184.01 385.04,183.95 385.38,183.91 385.71,183.87 386.05,183.84 386.38,183.83 386.48,183.83 386.72,183.85 387.06,183.93 387.39,184.07 387.73,184.26 388.06,184.48 388.40,184.73 388.73,184.99 389.07,185.25 389.41,185.51 389.74,185.74 389.88,185.83 390.08,185.96 390.41,186.19 390.75,186.43 391.08,186.69 391.42,186.95 391.76,187.22 392.09,187.48 392.43,187.74 392.76,188.00 393.10,188.24 393.43,188.46 393.77,188.67 394.11,188.85 394.44,189.01 394.78,189.14 394.85,189.16 395.11,189.24 395.45,189.34 395.78,189.44 396.12,189.54 396.46,189.63 396.79,189.72 397.13,189.80 397.46,189.87 397.80,189.94 398.13,190.00 398.47,190.05 398.81,190.10 399.14,190.13 399.48,190.15 399.81,190.16 399.90,190.16 400.15,190.16 400.48,190.14 400.82,190.12 401.16,190.08 401.49,190.04 401.83,189.99 402.16,189.93 402.50,189.87 402.83,189.80 403.17,189.73 403.51,189.66 403.84,189.59 404.18,189.51 404.51,189.44 404.79,189.38 404.85,189.37 405.18,189.29 405.52,189.21 405.86,189.13 406.19,189.03 406.53,188.94 406.86,188.83 407.20,188.73 407.53,188.62 407.87,188.50 408.21,188.38 408.54,188.26 408.88,188.14 409.21,188.01 409.55,187.88 409.88,187.75 410.22,187.62 410.56,187.48 410.89,187.35 411.23,187.21 411.56,187.08 411.90,186.94 412.23,186.81 412.57,186.67 412.91,186.54 413.24,186.41 413.58,186.28 413.91,186.16 414.25,186.03 414.58,185.91 414.81,185.83 414.92,185.79 415.25,185.67 415.59,185.55 415.93,185.43 416.26,185.31 416.60,185.19 416.93,185.07 417.27,184.95 417.60,184.83 417.94,184.71 418.28,184.58 418.61,184.46 418.95,184.34 419.28,184.22 419.62,184.10 419.95,183.98 420.29,183.86 420.63,183.74 420.96,183.62 421.30,183.51 421.63,183.39 421.97,183.28 422.30,183.16 422.64,183.05 422.98,182.94 423.31,182.83 423.65,182.73 423.98,182.62 424.32,182.52 424.65,182.42 424.75,182.39 424.99,182.32 425.33,182.22 425.66,182.12 426.00,182.03 426.33,181.93 426.67,181.84 427.00,181.75 427.34,181.65 427.68,181.56 428.01,181.47 428.35,181.38 428.68,181.29 429.02,181.21 429.35,181.12 429.69,181.03 430.03,180.95 430.36,180.86 430.70,180.78 431.03,180.70 431.37,180.61 431.70,180.53 432.04,180.45 432.38,180.37 432.71,180.29 433.05,180.21 433.38,180.13 433.72,180.06 434.05,179.98 434.39,179.90 434.69,179.84 434.73,179.83 435.06,179.75 435.40,179.68 435.73,179.60 436.07,179.53 436.40,179.46 436.74,179.38 437.08,179.31 437.41,179.24 437.75,179.17 438.08,179.10 438.42,179.03 438.75,178.96 439.09,178.89 439.43,178.82 439.76,178.75 440.10,178.69 440.43,178.62 440.77,178.56 441.10,178.49 441.44,178.43 441.78,178.36 442.11,178.30 442.45,178.24 442.78,178.18 443.12,178.12 443.45,178.06 443.79,178.00 444.12,177.94 444.46,177.88 444.71,177.84 444.80,177.82 445.13,177.77 445.47,177.71 445.80,177.66 446.14,177.60 446.47,177.54 446.81,177.49 447.15,177.43 447.48,177.38 447.82,177.32 448.15,177.27 448.49,177.22 448.82,177.17 449.16,177.11 449.50,177.06 449.83,177.01 450.17,176.96 450.50,176.91 450.84,176.87 451.17,176.82 451.51,176.77 451.85,176.73 452.18,176.68 452.52,176.64 452.85,176.60 453.19,176.56 453.52,176.52 453.86,176.48 454.20,176.44 454.53,176.41 454.65,176.40 454.87,176.37 455.20,176.34 455.54,176.31 455.87,176.28 456.21,176.25 456.55,176.22 456.88,176.19 457.22,176.16 457.55,176.13 457.89,176.10 458.22,176.07 458.56,176.05 458.90,176.02 459.23,175.99 459.57,175.97 459.90,175.94 460.24,175.92 460.57,175.89 460.91,175.87 461.25,175.85 461.58,175.82 461.92,175.80 462.25,175.78 462.59,175.75 462.92,175.73 463.26,175.71 463.60,175.69 463.93,175.66 464.27,175.64 464.60,175.62 464.60,175.62 464.94,175.59 465.27,175.57 465.61,175.54 465.95,175.52 466.28,175.49 466.62,175.46 466.95,175.44 467.29,175.41 467.62,175.38 467.96,175.36 468.30,175.33 468.63,175.31 468.97,175.28 469.30,175.26 469.64,175.24 469.97,175.23 470.31,175.21 470.65,175.20 470.98,175.19 471.32,175.18 471.65,175.18 471.93,175.17 471.99,175.17 472.32,175.17 472.66,175.18 472.99,175.18 473.33,175.18 473.67,175.18 474.00,175.19 474.34,175.19 474.67,175.19 475.01,175.20 475.34,175.20 475.68,175.21 476.02,175.22 476.35,175.22 476.69,175.23 477.02,175.24 477.36,175.25 477.69,175.25 478.03,175.26 478.37,175.27 478.70,175.28 479.04,175.29 479.37,175.30 479.71,175.32 480.04,175.33 480.38,175.34 480.72,175.35 481.05,175.36 481.39,175.38 481.72,175.39 481.87,175.40 482.06,175.40 482.39,175.42 482.73,175.44 483.07,175.47 483.40,175.49 483.74,175.52 484.07,175.56 484.41,175.60 484.74,175.64 485.08,175.68 485.42,175.73 485.75,175.78 486.09,175.83 486.42,175.89 486.76,175.95 487.09,176.02 487.43,176.08 487.77,176.15 487.87,176.17 488.10,176.23 488.44,176.32 488.77,176.43 489.11,176.56 489.44,176.70 489.78,176.86 490.12,177.03 490.45,177.22 490.79,177.42 491.12,177.63 491.46,177.86 491.79,178.10 491.90,178.17 492.13,178.36 492.47,178.68 492.80,179.05 493.14,179.47 493.47,179.93 493.81,180.42 494.14,180.94 494.48,181.48 494.82,182.04 494.89,182.17 495.15,182.63 495.49,183.32 495.82,184.09 496.16,184.90 496.49,185.74 496.83,186.58 497.17,187.39 497.50,188.17 497.81,188.83 497.84,188.88 498.17,189.54 498.51,190.20 498.84,190.85 499.18,191.47 499.52,192.08 499.85,192.66 500.19,193.22 500.52,193.74 500.81,194.16 500.86,194.22 501.19,194.68 501.53,195.13 501.87,195.57 502.20,196.00 502.54,196.41 502.87,196.80 503.21,197.17 503.54,197.53 503.88,197.87 504.21,198.18 504.55,198.48 504.83,198.71 504.89,198.75 505.22,199.00 505.56,199.25 505.89,199.50 506.23,199.73 506.56,199.96 506.90,200.19 507.24,200.40 507.57,200.61 507.91,200.80 508.24,200.99 508.58,201.18 508.91,201.35 509.25,201.51 509.59,201.66 509.92,201.81 510.26,201.94 510.59,202.07 510.83,202.15 510.93,202.18 511.26,202.29 511.60,202.40 511.94,202.51 512.27,202.62 512.61,202.73 512.94,202.83 513.28,202.93 513.61,203.03 513.95,203.13 514.29,203.23 514.62,203.32 514.96,203.41 515.29,203.49 515.63,203.57 515.96,203.65 516.30,203.72 516.64,203.79 516.97,203.85 517.31,203.91 517.64,203.96 517.98,204.01 518.31,204.05 518.65,204.08 518.99,204.11 519.32,204.13 519.66,204.14 519.75,204.15 519.99,204.15 520.33,204.16 520.66,204.16 521.00,204.17 521.34,204.18 521.67,204.18 522.01,204.19 522.34,204.19 522.68,204.20 523.01,204.20 523.35,204.21 523.69,204.21 524.02,204.22 524.36,204.22 524.69,204.23 525.03,204.23 525.36,204.23 525.70,204.24 526.04,204.24 526.37,204.24 526.71,204.25 527.04,204.25 527.38,204.25 527.71,204.25 528.05,204.25 528.39,204.25 528.72,204.25 529.06,204.26 529.39,204.26 529.73,204.26 529.77,204.26 530.06,204.26 530.40,204.25 530.74,204.25 531.07,204.25 531.41,204.24 531.74,204.24 532.08,204.23 532.41,204.22 532.75,204.21 533.08,204.20 533.42,204.18 533.76,204.17 534.09,204.15 534.43,204.13 534.76,204.11 535.10,204.09 535.43,204.06 535.77,204.03 536.11,204.01 536.44,203.97 536.78,203.94 537.11,203.90 537.45,203.87 537.78,203.83 537.89,203.81 538.12,203.74 538.46,203.47 538.79,203.07 539.13,202.59 539.46,202.07 539.80,201.56 540.02,201.26 540.13,201.12 540.47,200.69 540.81,200.24 541.14,199.79 541.48,199.34 541.81,198.88 542.15,198.41 542.48,197.95 542.82,197.49 543.16,197.04 543.49,196.59 543.65,196.38 543.83,196.15 544.16,195.70 544.50,195.25 544.83,194.79 545.17,194.34 545.51,193.89 545.84,193.44 546.18,193.00 546.51,192.57 546.85,192.15 547.18,191.74 547.52,191.35 547.86,190.97 547.99,190.83 548.19,190.61 548.53,190.26 548.86,189.91 549.20,189.57 549.53,189.23 549.87,188.90 550.21,188.57 550.54,188.24 550.88,187.92 551.21,187.61 551.55,187.30 551.88,187.00 552.22,186.70 552.56,186.41 552.89,186.12 553.23,185.84 553.56,185.56 553.90,185.29 554.23,185.03 554.57,184.77 554.91,184.52 555.24,184.28 555.58,184.04 555.88,183.83 555.91,183.81 556.25,183.58 556.58,183.36 556.92,183.13 557.26,182.91 557.59,182.69 557.93,182.47 558.26,182.25 558.60,182.04 558.93,181.83 559.27,181.62 559.61,181.41 559.94,181.21 560.28,181.01 560.61,180.82 560.95,180.63 561.28,180.44 561.62,180.26 561.95,180.08 562.29,179.91 562.63,179.74 562.96,179.57 563.30,179.42 563.63,179.26 563.97,179.12 564.30,178.98 564.64,178.84 564.98,178.71 565.31,178.59 565.65,178.48 565.90,178.39 565.98,178.37 566.32,178.26 566.65,178.16 566.99,178.05 567.33,177.95 567.66,177.85 568.00,177.75 568.33,177.65 568.67,177.55 569.00,177.45 569.34,177.36 569.68,177.27 570.01,177.18 570.35,177.09 570.68,177.01 571.02,176.93 571.35,176.85 571.69,176.77 572.03,176.70 572.36,176.63 572.70,176.57 573.03,176.51 573.37,176.45 573.70,176.40 574.04,176.35 574.38,176.31 574.71,176.27 575.05,176.23 575.38,176.20 575.72,176.18 575.84,176.17 576.05,176.16 576.39,176.14 576.73,176.12 577.06,176.10 577.40,176.09 577.73,176.07 578.07,176.05 578.40,176.04 578.74,176.02 579.08,176.00 579.41,175.99 579.75,175.98 580.08,175.96 580.42,175.95 580.75,175.94 581.09,175.92 581.43,175.91 581.76,175.90 582.10,175.89 582.43,175.88 582.77,175.88 583.10,175.87 583.44,175.86 583.78,175.86 584.11,175.85 584.45,175.85 584.78,175.84 585.12,175.84 585.45,175.84 585.79,175.84 585.79,175.84 586.13,175.84 586.46,175.84 586.80,175.85 587.13,175.86 587.47,175.87 587.80,175.88 588.14,175.89 588.48,175.90 588.81,175.92 589.15,175.93 589.48,175.95 589.82,175.97 590.15,175.99 590.49,176.01 590.82,176.03 591.16,176.06 591.50,176.08 591.83,176.10 592.17,176.13 592.50,176.15 592.84,176.18 593.17,176.20 593.51,176.23 593.85,176.25 594.18,176.28 594.52,176.30 594.85,176.33 595.19,176.35 595.52,176.38 595.81,176.40 595.86,176.40 596.20,176.42 596.53,176.45 596.87,176.47 597.20,176.50 597.54,176.52 597.87,176.55 598.21,176.57 598.55,176.60 598.88,176.63 599.22,176.66 599.55,176.69 599.89,176.72 600.22,176.75 600.56,176.78 600.90,176.81 601.23,176.84 601.57,176.87 601.90,176.90 602.24,176.93 602.57,176.97 602.91,177.00 603.25,177.03 603.58,177.07 603.92,177.10 604.25,177.13 604.59,177.17 604.92,177.20 605.26,177.24 605.60,177.28 605.93,177.31 606.27,177.35 606.60,177.38 606.69,177.39 606.94,177.42 607.27,177.46 607.61,177.49 607.95,177.53 608.28,177.57 608.62,177.60 608.95,177.64 609.29,177.68 609.62,177.71 609.96,177.75 610.30,177.79 610.63,177.83 610.97,177.87 611.30,177.91 611.64,177.95 611.97,177.99 612.31,178.03 612.65,178.07 612.98,178.12 613.32,178.17 613.65,178.21 613.99,178.26 614.32,178.31 614.66,178.36 615.00,178.42 615.33,178.47 615.67,178.53 616.00,178.58 616.34,178.64 616.67,178.71 617.01,178.77 617.35,178.84 617.35,178.84 617.68,178.91 618.02,178.98 618.35,179.05 618.69,179.13 619.02,179.21 619.36,179.30 619.70,179.39 620.03,179.48 620.37,179.58 620.70,179.68 621.04,179.79 621.37,179.91 621.71,180.03 622.04,180.16 622.38,180.29 622.72,180.43 623.05,180.57 623.39,180.73 623.72,180.89 624.06,181.06 624.39,181.23 624.68,181.39 624.73,181.42 625.07,181.63 625.40,181.88 625.74,182.17 626.07,182.50 626.41,182.85 626.74,183.23 627.08,183.64 627.42,184.06 627.75,184.50 628.09,184.96 628.42,185.43 628.71,185.83 628.76,185.90 629.09,186.44 629.43,187.05 629.77,187.72 630.10,188.42 630.44,189.13 630.77,189.84 631.11,190.52 631.44,191.15 631.71,191.60 631.78,191.72 632.12,192.26 632.45,192.80 632.79,193.32 633.12,193.82 633.46,194.31 633.79,194.77 634.13,195.21 634.47,195.62 634.80,196.00 634.94,196.15 635.14,196.36 635.47,196.70 635.81,197.02 636.14,197.34 636.48,197.65 636.82,197.94 637.15,198.23 637.49,198.50 637.82,198.76 638.16,199.01 638.49,199.25 638.83,199.48 639.17,199.69 639.50,199.89 639.75,200.04 639.84,200.08 640.17,200.27 640.51,200.45 640.84,200.63 641.18,200.80 641.52,200.97 641.85,201.13 642.19,201.29 642.52,201.45 642.86,201.60 643.19,201.74 643.53,201.88 643.87,202.02 644.20,202.14 644.54,202.27 644.87,202.38 645.21,202.49 645.54,202.60 645.88,202.70 646.22,202.79 646.55,202.87 646.78,202.92 646.89,202.95 647.22,203.02 647.56,203.10 647.89,203.17 648.23,203.25 648.57,203.32 648.90,203.39 649.24,203.46 649.57,203.52 649.91,203.59 650.24,203.65 650.58,203.71 650.91,203.76 651.25,203.82 651.59,203.87 651.92,203.91 652.26,203.96 652.59,204.00 652.93,204.03 653.26,204.06 653.60,204.09 653.94,204.11 654.27,204.13 654.61,204.14 654.74,204.15 654.94,204.15 655.28,204.16 655.61,204.16 655.95,204.17 656.29,204.18 656.62,204.18 656.96,204.19 657.29,204.19 657.63,204.20 657.96,204.20 658.30,204.21 658.64,204.21 658.97,204.22 659.31,204.22 659.64,204.23 659.98,204.23 660.31,204.23 660.65,204.24 660.99,204.24 661.32,204.24 661.66,204.25 661.99,204.25 662.33,204.25 662.66,204.25 663.00,204.25 663.34,204.25 663.67,204.25 664.01,204.26 664.34,204.26 664.68,204.26 664.69,204.26 665.01,204.26 665.35,204.26 665.69,204.26 666.02,204.26 666.36,204.26 666.69,204.26 667.03,204.26 667.36,204.26 667.70,204.26 668.04,204.26 668.37,204.26 668.71,204.26 669.04,204.26 669.38,204.26 669.71,204.26 670.05,204.26 670.39,204.26 670.72,204.26 671.06,204.26 671.39,204.26" fill="none" stroke="#d92550" stroke-width="1.25" stroke-linejoin="round" clip-path="url(#cpc)"/>
<polyline points="369.60,216.69 369.94,218.43 370.27,220.08 370.61,221.50 370.94,222.57 370.94,222.57 371.28,223.40 371.61,224.15 371.95,224.83 372.29,225.45 372.62,226.00 372.96,226.49 373.29,226.91 373.63,227.28 373.94,227.57 373.96,227.59 374.30,227.85 374.64,228.09 374.97,228.31 375.31,228.50 375.64,228.67 375.98,228.84 376.31,228.99 376.65,229.13 376.99,229.28 377.32,229.42 377.66,229.57 377.99,229.73 378.33,229.90 378.66,230.08 378.91,230.23 379.00,230.29 379.34,230.50 379.67,230.73 380.01,230.97 380.34,231.21 380.68,231.46 381.01,231.71 381.35,231.97 381.69,232.23 382.02,232.49 382.36,232.76 382.69,233.02 383.03,233.29 383.36,233.55 383.70,233.81 383.96,234.00 384.04,234.06 384.37,234.33 384.71,234.61 385.04,234.90 385.38,235.19 385.71,235.48 386.05,235.77 386.38,236.04 386.72,236.30 387.06,236.54 387.39,236.74 387.73,236.92 387.90,237.00 388.06,237.07 388.40,237.21 388.73,237.35 389.07,237.48 389.41,237.59 389.74,237.68 390.08,237.75 390.41,237.78 390.51,237.78 390.75,237.76 391.08,237.67 391.42,237.52 391.76,237.32 392.09,237.08 392.43,236.82 392.76,236.53 393.10,236.23 393.43,235.94 393.77,235.66 393.90,235.56 394.11,235.40 394.44,235.11 394.78,234.82 395.11,234.51 395.45,234.18 395.78,233.84 396.12,233.50 396.46,233.15 396.79,232.79 397.13,232.43 397.46,232.07 397.80,231.71 398.13,231.35 398.47,230.99 398.81,230.64 399.14,230.30 399.48,229.96 399.81,229.64 399.90,229.56 400.15,229.33 400.48,229.02 400.82,228.71 401.16,228.41 401.49,228.10 401.83,227.80 402.16,227.50 402.50,227.20 402.83,226.90 403.17,226.61 403.51,226.31 403.84,226.02 404.18,225.74 404.51,225.45 404.85,225.17 405.18,224.89 405.52,224.62 405.86,224.35 406.19,224.08 406.53,223.81 406.84,223.57 406.86,223.55 407.20,223.29 407.53,223.04 407.87,222.78 408.21,222.52 408.54,222.27 408.88,222.02 409.21,221.77 409.55,221.52 409.88,221.27 410.22,221.03 410.56,220.79 410.89,220.55 411.23,220.31 411.56,220.08 411.90,219.85 412.23,219.62 412.57,219.40 412.91,219.18 413.24,218.97 413.58,218.76 413.91,218.55 414.25,218.35 414.58,218.15 414.81,218.02 414.92,217.96 415.25,217.77 415.59,217.58 415.93,217.39 416.26,217.21 416.60,217.02 416.93,216.84 417.27,216.66 417.60,216.49 417.94,216.31 418.28,216.14 418.61,215.97 418.95,215.80 419.28,215.64 419.62,215.47 419.95,215.31 420.29,215.15 420.63,214.99 420.96,214.84 421.30,214.68 421.63,214.53 421.97,214.38 422.30,214.24 422.64,214.10 422.98,213.95 423.31,213.81 423.65,213.68 423.98,213.54 424.32,213.41 424.65,213.28 424.75,213.25 424.99,213.16 425.33,213.03 425.66,212.91 426.00,212.78 426.33,212.66 426.67,212.54 427.00,212.42 427.34,212.31 427.68,212.19 428.01,212.07 428.35,211.96 428.68,211.85 429.02,211.74 429.35,211.63 429.69,211.52 430.03,211.42 430.36,211.32 430.70,211.21 431.03,211.11 431.37,211.02 431.70,210.92 432.04,210.82 432.38,210.73 432.71,210.64 433.05,210.55 433.38,210.46 433.72,210.38 434.05,210.29 434.39,210.21 434.69,210.14 434.73,210.13 435.06,210.05 435.40,209.98 435.73,209.90 436.07,209.82 436.40,209.75 436.74,209.68 437.08,209.60 437.41,209.53 437.75,209.46 438.08,209.39 438.42,209.33 438.75,209.26 439.09,209.19 439.43,209.13 439.76,209.07 440.10,209.00 440.43,208.94 440.77,208.88 441.10,208.82 441.44,208.76 441.78,208.71 442.11,208.65 442.45,208.59 442.78,208.54 443.12,208.49 443.45,208.44 443.79,208.39 444.12,208.34 444.46,208.29 444.71,208.25 444.80,208.24 445.13,208.19 445.47,208.15 445.80,208.10 446.14,208.06 446.47,208.02 446.81,207.98 447.15,207.94 447.48,207.90 447.82,207.86 448.15,207.82 448.49,207.78 448.82,207.75 449.16,207.71 449.50,207.67 449.83,207.64 450.17,207.60 450.50,207.57 450.84,207.53 451.17,207.50 451.51,207.47 451.85,207.43 452.18,207.40 452.52,207.36 452.85,207.33 453.19,207.29 453.52,207.26 453.86,207.23 454.20,207.19 454.53,207.15 454.65,207.14 454.87,207.12 455.20,207.08 455.54,207.05 455.87,207.01 456.21,206.97 456.55,206.93 456.88,206.89 457.22,206.85 457.55,206.81 457.89,206.77 458.22,206.73 458.56,206.69 458.90,206.65 459.23,206.61 459.57,206.57 459.90,206.54 460.24,206.50 460.57,206.46 460.91,206.43 461.25,206.39 461.58,206.36 461.92,206.33 462.25,206.30 462.59,206.27 462.92,206.25 463.26,206.22 463.60,206.20 463.93,206.18 464.27,206.16 464.60,206.14 464.60,206.14 464.94,206.13 465.27,206.11 465.61,206.10 465.95,206.09 466.28,206.08 466.62,206.07 466.95,206.06 467.29,206.05 467.62,206.04 467.96,206.04 468.30,206.03 468.63,206.02 468.97,206.01 469.30,206.00 469.64,205.99 469.97,205.99 470.31,205.98 470.65,205.97 470.98,205.96 471.32,205.94 471.65,205.93 471.93,205.92 471.99,205.92 472.32,205.90 472.66,205.89 472.99,205.88 473.33,205.86 473.67,205.85 474.00,205.83 474.34,205.82 474.67,205.80 475.01,205.78 475.34,205.77 475.68,205.75 476.02,205.73 476.35,205.71 476.69,205.69 477.02,205.67 477.36,205.65 477.69,205.62 478.03,205.60 478.37,205.58 478.70,205.55 479.04,205.53 479.37,205.50 479.71,205.47 480.04,205.44 480.38,205.41 480.72,205.38 481.05,205.34 481.39,205.31 481.72,205.27 481.87,205.26 482.06,205.23 482.39,205.19 482.73,205.14 483.07,205.09 483.40,205.03 483.74,204.97 484.07,204.90 484.41,204.82 484.74,204.74 485.08,204.65 485.42,204.56 485.75,204.46 486.09,204.36 486.42,204.25 486.76,204.13 487.09,204.01 487.43,203.88 487.77,203.74 487.87,203.70 488.10,203.60 488.44,203.42 488.77,203.22 489.11,202.99 489.44,202.73 489.78,202.45 490.12,202.14 490.45,201.81 490.79,201.46 491.12,201.09 491.46,200.69 491.79,200.28 491.90,200.15 492.13,199.82 492.47,199.25 492.80,198.59 493.14,197.86 493.47,197.07 493.81,196.26 494.14,195.45 494.48,194.64 494.82,193.88 494.89,193.71 495.15,193.14 495.49,192.34 495.82,191.53 496.16,190.70 496.49,189.90 496.83,189.14 497.17,188.45 497.50,187.84 497.81,187.38 497.84,187.35 498.17,186.92 498.51,186.51 498.84,186.11 499.18,185.75 499.52,185.42 499.85,185.13 500.19,184.90 500.52,184.72 500.81,184.61 500.86,184.60 501.19,184.50 501.53,184.42 501.87,184.34 502.20,184.28 502.54,184.23 502.87,184.19 503.21,184.17 503.41,184.17 503.54,184.17 503.88,184.23 504.21,184.35 504.55,184.52 504.89,184.72 505.22,184.96 505.56,185.21 505.89,185.48 506.23,185.74 506.56,185.99 506.81,186.16 506.90,186.23 507.24,186.46 507.57,186.71 507.91,186.97 508.24,187.24 508.58,187.51 508.91,187.79 509.25,188.08 509.59,188.36 509.92,188.65 510.26,188.93 510.59,189.22 510.93,189.49 511.26,189.76 511.60,190.02 511.78,190.16 511.94,190.28 512.27,190.53 512.61,190.78 512.94,191.03 513.28,191.28 513.61,191.53 513.95,191.78 514.29,192.03 514.62,192.28 514.96,192.52 515.29,192.76 515.63,193.01 515.96,193.24 516.30,193.48 516.64,193.71 516.97,193.94 517.31,194.17 517.64,194.40 517.98,194.62 518.31,194.83 518.65,195.04 518.99,195.25 519.32,195.46 519.66,195.66 519.75,195.71 519.99,195.85 520.33,196.05 520.66,196.24 521.00,196.43 521.34,196.62 521.67,196.81 522.01,197.00 522.34,197.18 522.68,197.36 523.01,197.54 523.35,197.72 523.69,197.89 524.02,198.06 524.36,198.23 524.69,198.39 525.03,198.56 525.36,198.71 525.70,198.87 526.04,199.02 526.37,199.16 526.71,199.31 527.04,199.44 527.38,199.58 527.71,199.70 527.72,199.71 528.05,199.83 528.39,199.95 528.72,200.07 529.06,200.19 529.39,200.31 529.73,200.43 530.06,200.54 530.40,200.65 530.74,200.77 531.07,200.87 531.41,200.98 531.74,201.09 532.08,201.19 532.41,201.29 532.75,201.39 533.08,201.49 533.42,201.59 533.76,201.68 534.09,201.77 534.43,201.87 534.76,201.96 535.10,202.04 535.43,202.13 535.77,202.21 536.11,202.29 536.44,202.38 536.78,202.45 537.11,202.53 537.45,202.61 537.78,202.68 537.89,202.70 538.12,202.75 538.46,202.82 538.79,202.89 539.13,202.95 539.46,203.02 539.80,203.08 540.13,203.14 540.47,203.20 540.81,203.26 541.14,203.32 541.48,203.38 541.81,203.43 542.15,203.49 542.48,203.54 542.82,203.59 543.16,203.65 543.49,203.70 543.83,203.75 544.16,203.80 544.50,203.85 544.83,203.90 545.17,203.95 545.51,204.00 545.84,204.05 546.18,204.10 546.51,204.15 546.85,204.20 547.18,204.25 547.52,204.30 547.86,204.36 548.19,204.41 548.53,204.46 548.86,204.52 549.20,204.57 549.53,204.63 549.87,204.68 549.97,204.70 550.21,204.74 550.54,204.80 550.88,204.86 551.21,204.92 551.55,204.98 551.88,205.04 552.22,205.11 552.56,205.17 552.89,205.23 553.23,205.30 553.56,205.36 553.90,205.42 554.23,205.49 554.57,205.55 554.91,205.62 555.24,205.68 555.58,205.74 555.91,205.80 556.25,205.87 556.58,205.93 556.92,205.99 557.26,206.05 557.59,206.11 557.93,206.16 558.26,206.22 558.60,206.27 558.93,206.33 559.27,206.38 559.61,206.43 559.91,206.48 559.94,206.48 560.28,206.53 560.61,206.58 560.95,206.63 561.28,206.67 561.62,206.72 561.95,206.77 562.29,206.81 562.63,206.86 562.96,206.90 563.30,206.95 563.63,206.99 563.97,207.03 564.30,207.08 564.64,207.12 564.98,207.16 565.31,207.20 565.65,207.24 565.98,207.28 566.32,207.32 566.65,207.36 566.99,207.40 567.33,207.44 567.66,207.47 568.00,207.51 568.33,207.54 568.67,207.58 569.00,207.61 569.34,207.64 569.68,207.67 569.93,207.70 570.01,207.70 570.35,207.74 570.68,207.77 571.02,207.80 571.35,207.84 571.69,207.87 572.03,207.90 572.36,207.94 572.70,207.97 573.03,208.00 573.37,208.03 573.70,208.05 574.04,208.08 574.38,208.10 574.71,208.11 575.05,208.13 575.38,208.14 575.72,208.14 575.84,208.14 576.05,208.14 576.39,208.14 576.73,208.13 577.06,208.13 577.40,208.12 577.73,208.11 578.07,208.10 578.40,208.09 578.74,208.08 579.08,208.07 579.41,208.05 579.75,208.04 580.08,208.02 580.42,208.00 580.75,207.98 581.09,207.97 581.43,207.95 581.76,207.93 582.10,207.91 582.43,207.89 582.77,207.87 583.10,207.85 583.44,207.83 583.78,207.81 584.11,207.79 584.45,207.77 584.78,207.75 585.12,207.73 585.45,207.71 585.79,207.70 585.79,207.70 586.13,207.68 586.46,207.66 586.80,207.65 587.13,207.63 587.47,207.61 587.80,207.59 588.14,207.58 588.48,207.56 588.81,207.54 589.15,207.52 589.48,207.50 589.82,207.48 590.15,207.47 590.49,207.45 590.82,207.43 591.16,207.41 591.50,207.39 591.83,207.37 592.17,207.35 592.50,207.33 592.84,207.31 593.17,207.29 593.51,207.28 593.85,207.26 594.18,207.24 594.52,207.22 594.85,207.20 595.19,207.18 595.52,207.16 595.81,207.14 595.86,207.14 596.20,207.12 596.53,207.10 596.87,207.08 597.20,207.06 597.54,207.04 597.87,207.02 598.21,207.00 598.55,206.98 598.88,206.97 599.22,206.95 599.55,206.93 599.89,206.91 600.22,206.89 600.56,206.87 600.90,206.85 601.23,206.83 601.57,206.81 601.90,206.79 602.24,206.77 602.57,206.75 602.91,206.73 603.25,206.71 603.58,206.69 603.92,206.66 604.25,206.64 604.59,206.62 604.92,206.60 605.26,206.58 605.60,206.55 605.93,206.53 606.27,206.51 606.60,206.48 606.69,206.48 606.94,206.46 607.27,206.43 607.61,206.41 607.95,206.39 608.28,206.37 608.62,206.34 608.95,206.32 609.29,206.30 609.62,206.27 609.96,206.25 610.30,206.22 610.63,206.20 610.97,206.17 611.30,206.15 611.64,206.12 611.97,206.09 612.31,206.07 612.65,206.04 612.98,206.00 613.32,205.97 613.65,205.94 613.99,205.90 614.32,205.87 614.66,205.83 615.00,205.79 615.33,205.75 615.67,205.70 615.69,205.70 616.00,205.66 616.34,205.61 616.67,205.55 617.01,205.50 617.35,205.44 617.68,205.37 618.02,205.30 618.35,205.22 618.69,205.14 619.02,205.06 619.36,204.97 619.70,204.87 620.03,204.76 620.37,204.65 620.70,204.53 621.04,204.41 621.37,204.28 621.69,204.15 621.71,204.13 622.04,203.97 622.38,203.77 622.72,203.53 623.05,203.26 623.39,202.95 623.72,202.62 624.06,202.25 624.39,201.85 624.73,201.43 625.07,200.97 625.40,200.49 625.63,200.15 625.74,199.98 626.07,199.30 626.41,198.46 626.74,197.49 627.08,196.44 627.42,195.33 627.75,194.22 628.09,193.14 628.42,192.13 628.76,191.23 628.79,191.16 629.09,190.39 629.43,189.55 629.77,188.70 630.10,187.88 630.44,187.09 630.77,186.35 631.11,185.67 631.44,185.08 631.78,184.59 631.94,184.39 632.12,184.19 632.45,183.81 632.79,183.45 633.12,183.11 633.46,182.80 633.79,182.52 634.13,182.29 634.47,182.11 634.80,181.99 635.10,181.95 635.14,181.94 635.47,181.92 635.81,181.90 636.14,181.88 636.48,181.87 636.82,181.85 637.15,181.84 637.49,181.84 637.82,181.83 638.02,181.83 638.16,181.84 638.49,181.89 638.83,181.98 639.17,182.12 639.50,182.28 639.84,182.48 640.17,182.69 640.51,182.93 640.84,183.16 641.18,183.40 641.52,183.64 641.81,183.83 641.85,183.86 642.19,184.09 642.52,184.34 642.86,184.61 643.19,184.88 643.53,185.17 643.87,185.47 644.20,185.78 644.54,186.09 644.87,186.41 645.21,186.72 645.54,187.04 645.88,187.35 646.22,187.66 646.55,187.96 646.78,188.16 646.89,188.26 647.22,188.55 647.56,188.85 647.89,189.15 648.23,189.46 648.57,189.76 648.90,190.06 649.24,190.37 649.57,190.67 649.91,190.97 650.24,191.27 650.58,191.56 650.91,191.85 651.25,192.13 651.59,192.41 651.92,192.68 652.26,192.94 652.59,193.19 652.69,193.27 652.93,193.44 653.26,193.68 653.60,193.92 653.94,194.16 654.27,194.39 654.61,194.62 654.94,194.85 655.28,195.07 655.61,195.30 655.95,195.51 656.29,195.73 656.62,195.94 656.96,196.15 657.29,196.36 657.63,196.56 657.96,196.76 658.30,196.96 658.64,197.15 658.97,197.34 659.31,197.52 659.64,197.70 659.98,197.88 660.31,198.05 660.65,198.22 660.74,198.26 660.99,198.38 661.32,198.55 661.66,198.71 661.99,198.87 662.33,199.03 662.66,199.18 663.00,199.33 663.34,199.48 663.67,199.63 664.01,199.77 664.34,199.91 664.68,200.04 665.01,200.17 665.35,200.29 665.69,200.41 666.02,200.52 666.36,200.62 666.66,200.70 666.69,200.71 667.03,200.80 667.36,200.89 667.70,200.98 668.04,201.06 668.37,201.15 668.71,201.22 669.04,201.30 669.38,201.37 669.71,201.44 670.05,201.50 670.39,201.56 670.72,201.61 671.06,201.66 671.39,201.70" fill="none" stroke="#2b8a3c" stroke-width="1.25" stroke-linejoin="round" clip-path="url(#cpc)"/>
<clipPath id="cpe"><rect x="369.6" y="262.8" width="315.6" height="106.24999999999999"/></clipPath>
<path d="M448.50,263.1 v11.5 M448.50,369.05 v-11.5 M527.40,263.1 v11.5 M527.40,369.05 v-11.5 M606.30,263.1 v11.5 M606.30,369.05 v-11.5 M671.39,263.1 v11.5 M671.39,369.05 v-11.5 M369.6,287.45 h12 M684.2,287.45 h-12 M369.6,328.25 h12 M684.2,328.25 h-12 " stroke="#4c4c4c" stroke-width="0.75" fill="none"/>
<text x="361.3" y="293.6" text-anchor="end" font-family="Liberation Sans, sans-serif" font-size="20.5" fill="#231f20">0.2</text>
<text x="361.3" y="334.4" text-anchor="end" font-family="Liberation Sans, sans-serif" font-size="20.5" fill="#231f20">0.1</text>
<text x="361.3" y="375.2" text-anchor="end" font-family="Liberation Sans, sans-serif" font-size="20.5" fill="#231f20">0</text>
<path d="M369.20000000000005,263.1 H685 M369.20000000000005,369.05 H685" stroke="#2a2a2a" stroke-width="1.2" fill="none"/>
<path d="M369.90000000000003,262.55 V369.6" stroke="#2a2a2a" stroke-width="1.45" fill="none"/>
<path d="M684.85,262.55 V369.6" stroke="#222" stroke-width="1.6" fill="none"/>
<polyline points="369.60,328.25 369.80,328.31 370.00,328.48 370.20,328.72 370.31,328.86 370.41,329.05 370.61,329.77 370.81,330.85 371.01,332.17 371.21,333.62 371.41,335.09 371.61,336.46 371.81,337.62 371.97,338.29 372.02,338.47 372.22,339.22 372.42,339.98 372.62,340.71 372.82,341.42 373.02,342.07 373.22,342.66 373.43,343.16 373.63,343.55 373.83,343.82 374.03,343.95 374.10,343.96 374.23,343.93 374.43,343.78 374.63,343.53 374.83,343.18 375.04,342.76 375.24,342.27 375.44,341.74 375.64,341.18 375.84,340.61 375.91,340.41 376.04,340.01 376.24,339.27 376.45,338.40 376.65,337.42 376.85,336.35 377.05,335.19 377.25,333.97 377.45,332.71 377.65,331.41 377.85,330.09 378.04,328.86 378.06,328.77 378.26,327.42 378.46,325.99 378.66,324.50 378.86,322.94 379.06,321.32 379.26,319.64 379.47,317.90 379.67,316.11 379.87,314.26 380.07,312.37 380.09,312.13 380.27,310.40 380.47,308.32 380.67,306.14 380.87,303.88 381.08,301.54 381.28,299.13 381.48,296.67 381.68,294.17 381.75,293.28 381.88,291.58 382.08,288.72 382.28,285.69 382.49,282.60 382.69,279.57 382.89,276.71 383.09,274.13 383.25,272.35 383.29,271.93 383.49,269.68 383.69,267.78 383.88,267.05 383.89,267.05 384.10,267.05 384.30,267.05 384.50,267.05 384.70,267.05 384.90,267.05 385.10,267.05 385.30,267.05 385.51,267.05 385.71,267.05 385.91,267.05 386.11,267.05 386.31,267.05 386.51,267.05 386.71,267.05 386.91,267.05 387.12,267.05 387.32,267.05 387.52,267.05 387.72,267.05 387.92,267.05 388.12,267.05 388.32,267.05 388.52,267.05 388.73,267.05 388.93,267.05 389.13,267.05 389.33,267.05 389.53,267.05 389.73,267.05 389.93,267.05 390.14,267.05 390.34,267.05 390.54,267.05 390.74,267.05 390.94,267.05 391.14,267.05 391.14,267.05 391.34,267.55 391.54,268.82 391.75,270.57 391.95,272.48 392.15,274.26 392.17,274.39 392.35,275.89 392.55,277.62 392.75,279.43 392.95,281.29 393.16,283.18 393.36,285.08 393.56,286.96 393.76,288.80 393.96,290.56 394.16,292.24 394.30,293.28 394.36,293.80 394.56,295.33 394.77,296.84 394.97,298.32 395.17,299.76 395.37,301.16 395.57,302.51 395.77,303.79 395.97,305.00 396.18,306.14 396.35,307.03 396.38,307.18 396.58,308.17 396.78,309.13 396.98,310.05 397.18,310.94 397.38,311.78 397.58,312.57 397.79,313.32 397.99,314.02 398.19,314.66 398.39,315.25 398.40,315.28 398.59,315.80 398.79,316.32 398.99,316.81 399.20,317.28 399.40,317.74 399.60,318.16 399.80,318.57 400.00,318.96 400.20,319.33 400.40,319.68 400.60,320.01 400.81,320.32 400.92,320.50 401.01,320.62 401.21,320.91 401.41,321.19 401.61,321.47 401.81,321.74 402.01,322.00 402.22,322.25 402.42,322.50 402.62,322.73 402.82,322.96 403.02,323.18 403.22,323.39 403.42,323.60 403.62,323.79 403.83,323.98 404.03,324.16 404.23,324.33 404.43,324.49 404.63,324.64 404.71,324.70 404.83,324.79 405.03,324.93 405.24,325.06 405.44,325.19 405.64,325.31 405.84,325.44 406.04,325.55 406.24,325.67 406.44,325.78 406.64,325.89 406.85,325.99 407.05,326.09 407.25,326.19 407.45,326.29 407.65,326.39 407.85,326.48 408.05,326.57 408.26,326.66 408.46,326.75 408.66,326.84 408.86,326.93 409.06,327.01 409.26,327.10 409.46,327.19 409.66,327.27 409.87,327.36 410.07,327.45 410.27,327.54 410.47,327.63 410.67,327.72 410.87,327.81 410.94,327.84 411.07,327.90 411.28,327.99 411.48,328.09 411.68,328.18 411.88,328.26 412.08,328.35 412.28,328.44 412.48,328.53 412.68,328.62 412.89,328.70 413.09,328.79 413.29,328.87 413.49,328.96 413.69,329.04 413.89,329.12 414.09,329.21 414.30,329.29 414.50,329.37 414.70,329.46 414.90,329.54 415.10,329.62 415.30,329.70 415.50,329.78 415.70,329.87 415.91,329.95 416.11,330.03 416.31,330.11 416.51,330.20 416.71,330.28 416.91,330.36 417.11,330.45 417.32,330.53 417.52,330.62 417.72,330.70 417.92,330.79 418.12,330.87 418.32,330.96 418.52,331.05 418.72,331.13 418.93,331.22 419.13,331.31 419.31,331.39 419.33,331.40 419.53,331.49 419.73,331.58 419.93,331.67 420.13,331.76 420.33,331.85 420.54,331.94 420.74,332.03 420.94,332.12 421.14,332.21 421.34,332.30 421.54,332.39 421.74,332.48 421.95,332.57 422.15,332.66 422.35,332.75 422.55,332.85 422.75,332.94 422.95,333.04 423.15,333.13 423.35,333.23 423.56,333.33 423.76,333.43 423.96,333.53 424.16,333.64 424.36,333.74 424.56,333.85 424.76,333.96 424.97,334.07 425.07,334.13 425.17,334.18 425.37,334.30 425.57,334.43 425.77,334.56 425.97,334.69 426.17,334.83 426.37,334.97 426.58,335.11 426.78,335.25 426.98,335.39 427.18,335.54 427.38,335.68 427.58,335.81 427.78,335.95 427.99,336.08 428.19,336.20 428.39,336.32 428.54,336.41 428.59,336.44 428.79,336.55 428.99,336.66 429.19,336.77 429.39,336.88 429.60,336.99 429.80,337.10 430.00,337.21 430.20,337.32 430.40,337.43 430.60,337.54 430.80,337.64 431.01,337.75 431.21,337.85 431.41,337.96 431.61,338.06 431.81,338.17 432.01,338.27 432.21,338.37 432.41,338.48 432.62,338.58 432.82,338.68 433.02,338.78 433.22,338.88 433.42,338.98 433.62,339.07 433.82,339.17 434.03,339.27 434.23,339.36 434.43,339.45 434.63,339.55 434.83,339.64 435.03,339.73 435.23,339.82 435.43,339.91 435.64,340.00 435.84,340.09 436.04,340.17 436.24,340.26 436.44,340.34 436.64,340.43 436.84,340.51 437.05,340.59 437.25,340.67 437.45,340.75 437.65,340.83 437.85,340.91 438.05,340.98 438.25,341.06 438.45,341.13 438.66,341.20 438.86,341.27 439.06,341.34 439.26,341.41 439.46,341.48 439.66,341.54 439.86,341.61 440.07,341.67 440.22,341.71 440.27,341.73 440.47,341.79 440.67,341.85 440.87,341.92 441.07,341.98 441.27,342.04 441.47,342.11 441.68,342.17 441.88,342.24 442.08,342.30 442.28,342.37 442.48,342.43 442.68,342.49 442.88,342.56 443.09,342.62 443.29,342.68 443.49,342.74 443.69,342.81 443.89,342.87 444.09,342.92 444.29,342.98 444.49,343.04 444.70,343.09 444.90,343.15 445.10,343.20 445.30,343.25 445.50,343.30 445.70,343.35 445.90,343.39 446.11,343.43 446.31,343.47 446.51,343.51 446.71,343.55 446.91,343.58 447.11,343.61 447.31,343.64 447.51,343.66 447.72,343.69 447.92,343.71 448.12,343.72 448.32,343.74 448.52,343.74 448.72,343.75 448.92,343.75 448.97,343.75 449.13,343.75 449.33,343.75 449.53,343.75 449.73,343.75 449.93,343.74 450.13,343.74 450.33,343.73 450.53,343.73 450.74,343.72 450.94,343.71 451.14,343.70 451.34,343.69 451.54,343.68 451.74,343.67 451.94,343.66 452.14,343.65 452.35,343.63 452.55,343.62 452.75,343.60 452.95,343.59 453.15,343.57 453.35,343.55 453.39,343.55 453.55,343.53 453.76,343.49 453.96,343.43 454.16,343.35 454.36,343.26 454.56,343.15 454.76,343.03 454.96,342.90 455.16,342.75 455.37,342.59 455.57,342.42 455.77,342.24 455.97,342.04 456.17,341.84 456.37,341.64 456.57,341.42 456.78,341.20 456.98,340.97 457.18,340.74 457.38,340.50 457.58,340.26 457.73,340.08 457.78,340.02 457.98,339.76 458.18,339.46 458.39,339.14 458.59,338.79 458.79,338.42 458.99,338.02 459.19,337.60 459.39,337.15 459.59,336.68 459.80,336.18 460.00,335.67 460.20,335.13 460.40,334.58 460.60,334.00 460.80,333.41 461.00,332.80 461.20,332.17 461.28,331.92 461.41,331.52 461.61,330.82 461.81,330.06 462.01,329.26 462.21,328.41 462.41,327.50 462.61,326.55 462.82,325.54 463.02,324.48 463.22,323.38 463.42,322.22 463.62,321.01 463.82,319.75 464.02,318.43 464.20,317.23 464.22,317.07 464.43,315.57 464.63,313.90 464.83,312.07 465.03,310.10 465.23,308.02 465.43,305.84 465.63,303.58 465.84,301.26 466.04,298.91 466.24,296.53 466.44,294.16 466.49,293.57 466.64,291.69 466.84,288.94 467.04,285.99 467.24,282.95 467.45,279.93 467.65,277.03 467.85,274.35 468.05,272.00 468.23,270.31 468.25,270.08 468.45,268.25 468.65,267.10 468.70,267.05 468.86,267.05 469.06,267.05 469.26,267.05 469.46,267.05 469.66,267.05 469.86,267.05 470.06,267.05 470.26,267.05 470.47,267.05 470.67,267.05 470.87,267.05 471.07,267.05 471.27,267.05 471.47,267.05 471.67,267.05 471.88,267.05 472.08,267.05 472.28,267.05 472.48,267.05 472.68,267.05 472.88,267.05 473.08,267.05 473.28,267.05 473.49,267.05 473.69,267.05 473.89,267.05 474.09,267.05 474.29,267.05 474.49,267.05 474.69,267.05 474.90,267.05 475.10,267.05 475.30,267.05 475.50,267.05 475.70,267.05 475.90,267.05 476.10,267.05 476.30,267.05 476.51,267.05 476.71,267.05 476.91,267.05 477.11,267.05 477.31,267.05 477.51,267.05 477.71,267.05 477.92,267.05 478.12,267.05 478.32,267.05 478.52,267.05 478.72,267.05 478.92,267.05 479.12,267.05 479.32,267.05 479.53,267.05 479.73,267.05 479.93,267.05 480.13,267.05 480.33,267.05 480.53,267.05 480.73,267.05 480.94,267.05 481.14,267.05 481.34,267.05 481.54,267.05 481.74,267.05 481.94,267.05 482.14,267.05 482.34,267.05 482.55,267.05 482.75,267.05 482.95,267.05 483.15,267.05 483.35,267.05 483.55,267.05 483.75,267.05 483.95,267.05 484.16,267.05 484.36,267.05 484.56,267.05 484.76,267.05 484.96,267.05 485.16,267.05 485.36,267.05 485.57,267.05 485.77,267.05 485.97,267.05 486.17,267.05 486.37,267.05 486.57,267.05 486.77,267.05 486.97,267.05 487.18,267.05 487.38,267.05 487.58,267.05 487.78,267.05 487.98,267.05 488.18,267.05 488.38,267.05 488.59,267.05 488.79,267.05 488.99,267.05 489.19,267.05 489.39,267.05 489.59,267.05 489.79,267.05 489.99,267.05 490.20,267.05 490.40,267.05 490.60,267.05 490.80,267.05 491.00,267.05 491.20,267.05 491.40,267.05 491.61,267.05 491.81,267.05 492.01,267.05 492.21,267.05 492.41,267.05 492.61,267.05 492.81,267.05 493.01,267.05 493.22,267.05 493.42,267.05 493.62,267.05 493.82,267.05 494.02,267.05 494.22,267.05 494.42,267.05 494.63,267.05 494.83,267.05 495.03,267.05 495.23,267.05 495.43,267.05 495.63,267.05 495.83,267.05 496.03,267.05 496.24,267.05 496.44,267.05 496.64,267.05 496.84,267.05 497.04,267.05 497.24,267.05 497.44,267.05 497.65,267.05 497.85,267.05 498.05,267.05 498.25,267.05 498.45,267.05 498.65,267.05 498.85,267.05 499.05,267.05 499.26,267.05 499.46,267.05 499.66,267.05 499.86,267.05 500.06,267.05 500.26,267.05 500.46,267.05 500.67,267.05 500.87,267.05 501.07,267.05 501.27,267.05 501.47,267.05 501.67,267.05 501.87,267.05 502.07,267.05 502.28,267.05 502.48,267.05 502.68,267.05 502.88,267.05 503.08,267.05 503.28,267.05 503.48,267.05 503.69,267.05 503.89,267.05 504.09,267.05 504.29,267.05 504.49,267.05 504.69,267.05 504.89,267.05 505.09,267.05 505.30,267.05 505.50,267.05 505.70,267.05 505.90,267.05 506.10,267.05 506.30,267.05 506.50,267.05 506.71,267.05 506.91,267.05 507.11,267.05 507.31,267.05 507.51,267.05 507.71,267.05 507.91,267.05 508.11,267.05 508.32,267.05 508.52,267.05 508.72,267.05 508.92,267.05 509.12,267.05 509.32,267.05 509.52,267.05 509.73,267.05 509.93,267.05 510.13,267.05 510.33,267.05 510.53,267.05 510.73,267.05 510.93,267.05 511.13,267.05 511.34,267.05 511.54,267.05 511.62,267.05 511.74,276.47 511.94,319.06 512.14,360.82 512.25,369.05 512.34,369.05 512.54,369.05 512.75,369.05 512.95,369.05 513.15,369.05 513.35,369.05 513.55,369.05 513.75,369.05 513.95,369.05 514.15,369.05 514.36,369.05 514.56,369.05 514.76,369.05 514.96,369.05 515.16,369.05 515.36,369.05 515.56,369.05 515.77,369.05 515.97,369.05 516.17,369.05 516.37,369.05 516.57,369.05 516.77,369.05 516.97,369.05 517.17,369.05 517.38,369.05 517.58,369.05 517.78,369.05 517.98,369.05 518.18,369.05 518.38,369.05 518.58,369.05 518.78,369.05 518.99,369.05 519.19,369.05 519.39,369.05 519.59,369.05 519.79,369.05 519.99,369.05 520.19,369.05 520.40,369.05 520.60,369.05 520.80,369.05 521.00,369.05 521.20,369.05 521.40,369.05 521.60,369.05 521.80,369.05 522.01,369.05 522.21,369.05 522.41,369.05 522.61,369.05 522.81,369.05 523.01,369.05 523.21,369.05 523.42,369.05 523.62,369.05 523.82,369.05 524.02,369.05 524.22,369.05 524.42,369.05 524.62,369.05 524.82,369.05 525.03,369.05 525.23,369.05 525.43,369.05 525.63,369.05 525.83,369.05 526.03,369.05 526.23,369.05 526.44,369.05 526.64,369.05 526.84,369.05 527.04,369.05 527.24,369.05 527.44,369.05 527.64,369.05 527.84,369.05 528.05,369.05 528.25,369.05 528.45,369.05 528.65,369.05 528.85,369.05 529.05,369.05 529.25,369.05 529.46,369.05 529.66,369.05 529.86,369.05 530.06,369.05 530.26,369.05 530.46,369.05 530.66,369.05 530.86,369.05 531.07,369.05 531.27,369.05 531.47,369.05 531.67,369.05 531.87,369.05 532.07,369.05 532.27,369.05 532.48,369.05 532.68,369.05 532.88,369.05 533.08,369.05 533.28,369.05 533.48,369.05 533.68,369.05 533.88,369.05 534.09,369.05 534.29,369.05 534.49,369.05 534.69,369.05 534.89,369.05 535.09,369.05 535.29,369.05 535.50,369.05 535.70,369.05 535.90,369.05 536.10,369.05 536.30,369.05 536.50,369.05 536.70,369.05 536.90,369.05 537.11,369.05 537.31,369.05 537.51,369.05 537.71,369.05 537.91,369.05 538.11,369.05 538.31,369.05 538.52,369.05 538.72,369.05 538.92,369.05 539.12,369.05 539.32,369.05 539.52,369.05 539.72,369.05 539.92,369.05 540.13,369.05 540.33,369.05 540.53,369.05 540.73,369.05 540.93,369.05 541.13,369.05 541.33,369.05 541.54,369.05 541.74,369.05 541.94,369.05 542.14,369.05 542.34,369.05 542.54,369.05 542.74,369.05 542.94,369.05 543.15,369.05 543.35,369.05 543.55,369.05 543.75,369.05 543.95,369.05 544.15,369.05 544.35,369.05 544.56,369.05 544.76,369.05 544.96,369.05 545.16,369.05 545.36,369.05 545.56,369.05 545.76,369.05 545.96,369.05 546.17,369.05 546.37,369.05 546.57,369.05 546.77,369.05 546.97,369.05 547.17,369.05 547.37,369.05 547.58,369.05 547.78,369.05 547.98,369.05 548.18,369.05 548.38,369.05 548.58,369.05 548.78,369.05 548.98,369.05 549.19,369.05 549.39,369.05 549.59,369.05 549.79,369.05 549.99,369.05 550.19,369.05 550.39,369.05 550.59,369.05 550.80,369.05 551.00,369.05 551.20,369.05 551.40,369.05 551.60,369.05 551.80,369.05 552.00,369.05 552.21,369.05 552.41,369.05 552.61,369.05 552.81,369.05 553.01,369.05 553.21,369.05 553.41,369.05 553.61,369.05 553.82,369.05 554.02,369.05 554.22,369.05 554.42,369.05 554.62,369.05 554.82,369.05 555.02,369.05 555.23,369.05 555.43,369.05 555.63,369.05 555.83,369.05 556.03,369.05 556.23,369.05 556.43,369.05 556.63,369.05 556.84,369.05 557.04,369.05 557.24,369.05 557.44,369.05 557.64,369.05 557.84,369.05 558.04,369.05 558.25,369.05 558.45,369.05 558.65,369.05 558.85,369.05 559.05,369.05 559.25,369.05 559.45,369.05 559.65,369.05 559.86,369.05 560.06,369.05 560.26,369.05 560.46,369.05 560.66,369.05 560.86,369.05 561.06,369.05 561.27,369.05 561.47,369.05 561.67,369.05 561.87,369.05 562.07,369.05 562.27,369.05 562.47,369.05 562.67,369.05 562.88,369.05 563.08,369.05 563.28,369.05 563.48,369.05 563.68,369.05 563.88,369.05 564.08,369.05 564.29,369.05 564.49,369.05 564.69,369.05 564.89,369.05 565.09,369.05 565.29,369.05 565.49,369.05 565.69,369.05 565.90,369.05 566.10,369.05 566.30,369.05 566.50,369.05 566.70,369.05 566.90,369.05 567.10,369.05 567.31,369.05 567.51,369.05 567.71,369.05 567.91,369.05 568.11,369.05 568.31,369.05 568.51,369.05 568.71,369.05 568.92,369.05 569.12,369.05 569.32,369.05 569.52,369.05 569.72,369.05 569.92,369.05 570.12,369.05 570.33,369.05 570.53,369.05 570.73,369.05 570.93,369.05 571.13,369.05 571.33,369.05 571.53,369.05 571.73,369.05 571.94,369.05 572.14,369.05 572.34,369.05 572.54,369.05 572.74,369.05 572.94,369.05 573.14,369.05 573.35,369.05 573.55,369.05 573.75,369.05 573.95,369.05 574.15,369.05 574.35,369.05 574.55,369.05 574.75,369.05 574.96,369.05 575.16,369.05 575.36,369.05 575.56,369.05 575.76,369.05 575.96,369.05 576.16,369.05 576.37,369.05 576.57,369.05 576.77,369.05 576.97,369.05 577.17,369.05 577.37,369.05 577.57,369.05 577.77,369.05 577.98,369.05 578.18,369.05 578.38,369.05 578.58,369.05 578.78,369.05 578.98,369.05 579.18,369.05 579.39,369.05 579.59,369.05 579.79,369.05 579.99,369.05 580.19,369.05 580.39,369.05 580.59,369.05 580.79,369.05 581.00,369.05 581.20,369.05 581.40,369.05 581.60,369.05 581.80,369.05 582.00,369.05 582.20,369.05 582.40,369.05 582.61,369.05 582.81,369.05 583.01,369.05 583.21,369.05 583.41,369.05 583.61,369.05 583.81,369.05 584.02,369.05 584.22,369.05 584.37,369.05 584.42,369.05 584.62,368.99 584.82,368.88 585.02,368.70 585.22,368.49 585.42,368.23 585.63,367.94 585.83,367.64 586.03,367.32 586.23,367.00 586.43,366.68 586.63,366.37 586.83,366.09 587.04,365.84 587.24,365.63 587.29,365.58 587.44,365.44 587.64,365.26 587.84,365.08 588.04,364.89 588.24,364.71 588.44,364.53 588.65,364.36 588.85,364.20 589.05,364.05 589.25,363.92 589.45,363.79 589.65,363.69 589.85,363.60 590.06,363.54 590.20,363.50 590.26,363.49 590.46,363.45 590.66,363.42 590.86,363.38 591.06,363.35 591.26,363.32 591.46,363.29 591.67,363.26 591.87,363.23 592.07,363.20 592.27,363.18 592.47,363.15 592.67,363.13 592.87,363.10 593.08,363.08 593.28,363.06 593.48,363.05 593.68,363.03 593.88,363.01 594.08,363.00 594.28,362.98 594.48,362.97 594.69,362.96 594.89,362.95 595.09,362.95 595.29,362.94 595.49,362.94 595.69,362.93 595.89,362.93 596.04,362.93 596.10,362.93 596.30,362.93 596.50,362.93 596.70,362.93 596.90,362.93 597.10,362.93 597.30,362.93 597.50,362.94 597.71,362.94 597.91,362.94 598.11,362.94 598.31,362.94 598.51,362.95 598.71,362.95 598.91,362.95 599.12,362.95 599.32,362.96 599.52,362.96 599.72,362.96 599.92,362.97 600.12,362.97 600.32,362.98 600.52,362.98 600.73,362.98 600.93,362.99 601.13,362.99 601.33,363.00 601.53,363.00 601.73,363.01 601.93,363.01 602.14,363.02 602.34,363.03 602.54,363.03 602.74,363.04 602.94,363.04 603.14,363.05 603.34,363.06 603.54,363.06 603.75,363.07 603.95,363.08 604.15,363.08 604.35,363.09 604.55,363.10 604.75,363.10 604.95,363.11 605.16,363.12 605.36,363.13 605.56,363.13 605.76,363.14 605.96,363.15 606.16,363.16 606.36,363.17 606.56,363.17 606.77,363.18 606.97,363.19 607.17,363.20 607.37,363.21 607.57,363.22 607.77,363.23 607.97,363.23 608.18,363.24 608.38,363.25 608.58,363.26 608.78,363.27 608.98,363.28 609.18,363.29 609.38,363.30 609.58,363.31 609.79,363.32 609.99,363.33 610.19,363.34 610.39,363.35 610.59,363.36 610.79,363.36 610.99,363.37 611.20,363.38 611.40,363.39 611.60,363.40 611.80,363.41 612.00,363.42 612.20,363.43 612.40,363.44 612.60,363.45 612.81,363.46 613.01,363.47 613.21,363.48 613.41,363.49 613.56,363.50 613.61,363.50 613.81,363.51 614.01,363.52 614.22,363.54 614.42,363.55 614.62,363.56 614.82,363.57 615.02,363.58 615.22,363.59 615.42,363.61 615.62,363.62 615.83,363.63 616.03,363.64 616.23,363.66 616.43,363.67 616.63,363.68 616.83,363.70 617.03,363.71 617.23,363.73 617.44,363.74 617.64,363.76 617.84,363.77 618.04,363.79 618.24,363.80 618.44,363.82 618.64,363.84 618.85,363.85 619.05,363.87 619.25,363.89 619.45,363.91 619.65,363.93 619.85,363.94 620.05,363.96 620.25,363.98 620.46,364.00 620.66,364.02 620.86,364.04 621.06,364.06 621.26,364.08 621.46,364.10 621.66,364.12 621.87,364.14 622.07,364.16 622.27,364.19 622.47,364.21 622.67,364.23 622.87,364.25 623.07,364.28 623.27,364.30 623.48,364.32 623.68,364.35 623.88,364.37 624.08,364.40 624.28,364.42 624.48,364.45 624.68,364.47 624.89,364.50 625.09,364.53 625.29,364.55 625.49,364.58 625.69,364.61 625.89,364.64 626.09,364.66 626.29,364.69 626.50,364.72 626.70,364.75 626.90,364.78 627.10,364.81 627.30,364.84 627.50,364.87 627.70,364.90 627.91,364.93 628.11,364.96 628.16,364.97 628.31,365.00 628.51,365.03 628.71,365.07 628.91,365.12 629.11,365.16 629.31,365.22 629.52,365.27 629.72,365.33 629.92,365.38 630.12,365.45 630.32,365.51 630.52,365.58 630.72,365.64 630.93,365.71 631.13,365.78 631.33,365.86 631.53,365.93 631.73,366.00 631.93,366.08 632.13,366.16 632.33,366.23 632.54,366.31 632.74,366.38 632.94,366.46 633.14,366.53 633.34,366.61 633.54,366.68 633.74,366.76 633.95,366.83 634.15,366.90 634.35,366.97 634.55,367.03 634.75,367.10 634.95,367.16 635.15,367.22 635.35,367.28 635.56,367.34 635.76,367.39 635.96,367.44 636.16,367.48 636.36,367.53 636.56,367.56 636.76,367.60 636.91,367.62 636.97,367.63 637.17,367.66 637.37,367.69 637.57,367.72 637.77,367.75 637.97,367.78 638.17,367.81 638.37,367.84 638.58,367.86 638.78,367.89 638.98,367.92 639.18,367.95 639.38,367.98 639.58,368.00 639.78,368.03 639.99,368.06 640.19,368.08 640.39,368.11 640.59,368.13 640.79,368.16 640.99,368.18 641.19,368.20 641.39,368.22 641.60,368.24 641.80,368.27 642.00,368.29 642.20,368.30 642.40,368.32 642.60,368.34 642.80,368.36 643.01,368.37 643.21,368.39 643.41,368.40 643.61,368.41 643.81,368.43 644.01,368.44 644.21,368.45 644.41,368.45 644.62,368.46 644.82,368.47 645.02,368.47 645.22,368.48 645.42,368.48 645.62,368.48 645.67,368.48 645.82,368.48 646.03,368.48 646.23,368.48 646.43,368.47 646.63,368.47 646.83,368.47 647.03,368.46 647.23,368.46 647.43,368.45 647.64,368.45 647.84,368.44 648.04,368.43 648.24,368.42 648.44,368.41 648.64,368.40 648.84,368.39 649.04,368.38 649.25,368.37 649.45,368.36 649.65,368.34 649.85,368.33 650.05,368.32 650.25,368.30 650.45,368.28 650.66,368.27 650.86,368.25 651.06,368.23 651.26,368.21 651.46,368.19 651.66,368.17 651.86,368.15 652.06,368.13 652.27,368.11 652.47,368.09 652.67,368.06 652.87,368.04 653.07,368.01 653.27,367.99 653.47,367.96 653.68,367.93 653.88,367.91 654.08,367.88 654.28,367.85 654.43,367.83 654.48,367.82 654.68,367.77 654.88,367.70 655.08,367.62 655.29,367.51 655.49,367.39 655.69,367.24 655.89,367.08 656.09,366.91 656.29,366.72 656.49,366.51 656.70,366.30 656.90,366.07 657.10,365.82 657.30,365.57 657.50,365.31 657.70,365.04 657.90,364.76 658.10,364.47 658.31,364.18 658.51,363.88 658.71,363.57 658.91,363.26 659.11,362.95 659.31,362.63 659.51,362.32 659.72,362.00 659.92,361.68 660.12,361.37 660.27,361.13 660.32,361.05 660.52,360.73 660.72,360.38 660.92,360.02 661.12,359.64 661.33,359.24 661.53,358.83 661.73,358.40 661.93,357.96 662.13,357.51 662.33,357.04 662.53,356.57 662.74,356.08 662.94,355.58 663.14,355.07 663.34,354.55 663.54,354.02 663.74,353.49 663.94,352.94 664.14,352.40 664.35,351.84 664.55,351.28 664.69,350.89 664.75,350.72 664.95,350.13 665.15,349.53 665.35,348.91 665.55,348.27 665.76,347.61 665.96,346.93 666.16,346.24 666.36,345.54 666.56,344.82 666.76,344.09 666.96,343.35 667.16,342.61 667.37,341.85 667.57,341.09 667.77,340.33 667.97,339.56 668.17,338.79 668.37,338.02 668.47,337.63 668.57,337.25 668.78,336.46 668.98,335.67 669.18,334.87 669.38,334.05 669.58,333.22 669.78,332.39 669.98,331.54 670.18,330.69 670.39,329.83 670.59,328.96 670.79,328.08 670.99,327.19 671.19,326.30 671.39,325.39" fill="none" stroke="url(#jet)" stroke-width="2.3" stroke-linejoin="round" clip-path="url(#cpe)"/>
<clipPath id="cpf"><rect x="369.6" y="386.3" width="315.6" height="105.99999999999999"/></clipPath>
<path d="M448.50,386.6 v11.5 M448.50,492.3 v-11.5 M527.40,386.6 v11.5 M527.40,492.3 v-11.5 M606.30,386.6 v11.5 M606.30,492.3 v-11.5 M671.39,386.6 v11.5 M671.39,492.3 v-11.5 M369.6,408.40 h12 M684.2,408.40 h-12 M369.6,436.40 h12 M684.2,436.40 h-12 M369.6,464.40 h12 M684.2,464.40 h-12 " stroke="#4c4c4c" stroke-width="0.75" fill="none"/>
<text x="361.3" y="414.5" text-anchor="end" font-family="Liberation Sans, sans-serif" font-size="20.5" fill="#231f20">0.5</text>
<text x="361.3" y="442.5" text-anchor="end" font-family="Liberation Sans, sans-serif" font-size="20.5" fill="#231f20">0</text>
<text x="361.3" y="470.5" text-anchor="end" font-family="Liberation Sans, sans-serif" font-size="20.5" fill="#231f20">−0.5</text>
<text x="361.3" y="498.4" text-anchor="end" font-family="Liberation Sans, sans-serif" font-size="20.5" fill="#231f20">−1</text>
<path d="M369.20000000000005,386.6 H685 M369.20000000000005,492.3 H685" stroke="#2a2a2a" stroke-width="1.2" fill="none"/>
<path d="M369.90000000000003,386.05 V492.85" stroke="#2a2a2a" stroke-width="1.45" fill="none"/>
<path d="M684.85,386.05 V492.85" stroke="#222" stroke-width="1.6" fill="none"/>
<polyline points="369.60,483.72 369.94,482.95 370.27,482.19 370.61,481.44 370.94,480.69 371.28,479.96 371.61,479.24 371.95,478.53 372.29,477.83 372.62,477.14 372.96,476.46 373.29,475.79 373.63,475.13 373.96,474.49 374.30,473.85 374.64,473.23 374.97,472.63 374.97,472.62 375.31,472.04 375.64,471.49 375.98,470.97 376.31,470.47 376.65,469.99 376.99,469.52 377.32,469.05 377.66,468.57 377.99,468.08 378.33,467.58 378.66,467.04 379.00,466.48 379.34,465.88 379.67,465.23 379.94,464.68 380.01,464.53 380.34,463.72 380.68,462.80 381.01,461.79 381.35,460.73 381.69,459.64 382.02,458.54 382.36,457.46 382.69,456.42 382.93,455.72 383.03,455.46 383.36,454.49 383.70,453.52 384.04,452.55 384.37,451.60 384.71,450.67 385.04,449.79 385.38,448.97 385.71,448.22 385.93,447.77 386.05,447.54 386.38,446.91 386.72,446.31 387.06,445.74 387.39,445.20 387.73,444.67 388.06,444.17 388.40,443.70 388.73,443.23 389.07,442.79 389.41,442.36 389.74,441.94 389.88,441.78 390.08,441.53 390.41,441.14 390.75,440.75 391.08,440.38 391.42,440.02 391.76,439.67 392.09,439.32 392.43,438.99 392.76,438.66 393.10,438.34 393.43,438.03 393.77,437.73 394.11,437.43 394.44,437.14 394.78,436.85 394.85,436.79 395.11,436.57 395.45,436.29 395.78,436.02 396.12,435.75 396.46,435.48 396.79,435.22 397.13,434.96 397.46,434.70 397.80,434.45 398.13,434.20 398.47,433.96 398.81,433.72 399.14,433.48 399.48,433.24 399.81,433.00 400.15,432.77 400.48,432.54 400.82,432.32 401.16,432.09 401.49,431.87 401.83,431.65 402.16,431.44 402.50,431.22 402.83,431.01 403.17,430.79 403.51,430.58 403.84,430.37 404.18,430.17 404.51,429.96 404.79,429.79 404.85,429.76 405.18,429.55 405.52,429.35 405.86,429.15 406.19,428.95 406.53,428.76 406.86,428.56 407.20,428.37 407.53,428.18 407.87,427.99 408.21,427.80 408.54,427.61 408.88,427.43 409.21,427.25 409.55,427.06 409.88,426.88 410.22,426.71 410.56,426.53 410.89,426.35 411.23,426.18 411.56,426.01 411.90,425.84 412.23,425.67 412.57,425.50 412.91,425.33 413.24,425.17 413.58,425.00 413.91,424.84 414.25,424.68 414.58,424.52 414.81,424.42 414.92,424.36 415.25,424.21 415.59,424.06 415.93,423.90 416.26,423.75 416.60,423.61 416.93,423.46 417.27,423.31 417.60,423.17 417.94,423.03 418.28,422.89 418.61,422.75 418.95,422.61 419.28,422.47 419.62,422.33 419.95,422.20 420.29,422.06 420.63,421.93 420.96,421.79 421.30,421.66 421.63,421.52 421.97,421.39 422.30,421.26 422.64,421.12 422.98,420.99 423.31,420.85 423.65,420.72 423.98,420.58 424.32,420.45 424.65,420.31 424.75,420.27 424.99,420.17 425.33,420.04 425.66,419.90 426.00,419.76 426.33,419.62 426.67,419.49 427.00,419.35 427.34,419.21 427.68,419.07 428.01,418.93 428.35,418.80 428.68,418.66 429.02,418.52 429.35,418.38 429.69,418.25 430.03,418.11 430.36,417.98 430.70,417.84 431.03,417.71 431.37,417.57 431.70,417.44 432.04,417.31 432.38,417.18 432.71,417.05 433.05,416.92 433.38,416.79 433.72,416.66 434.05,416.53 434.39,416.41 434.69,416.30 434.73,416.28 435.06,416.16 435.40,416.04 435.73,415.92 436.07,415.80 436.40,415.68 436.74,415.56 437.08,415.44 437.41,415.33 437.75,415.21 438.08,415.09 438.42,414.98 438.75,414.87 439.09,414.75 439.43,414.64 439.76,414.53 440.10,414.41 440.43,414.30 440.77,414.19 441.10,414.08 441.44,413.97 441.78,413.85 442.11,413.74 442.45,413.63 442.78,413.52 443.12,413.41 443.45,413.30 443.79,413.19 444.12,413.08 444.46,412.96 444.71,412.88 444.80,412.85 445.13,412.74 445.47,412.63 445.80,412.51 446.14,412.40 446.47,412.28 446.81,412.16 447.15,412.05 447.48,411.93 447.82,411.81 448.15,411.69 448.49,411.58 448.82,411.46 449.16,411.34 449.50,411.23 449.83,411.11 450.17,411.00 450.50,410.89 450.84,410.78 451.17,410.66 451.51,410.56 451.85,410.45 452.18,410.34 452.52,410.24 452.85,410.14 453.19,410.04 453.52,409.94 453.86,409.85 454.20,409.75 454.53,409.66 454.65,409.63 454.87,409.58 455.20,409.48 455.54,409.39 455.87,409.29 456.21,409.19 456.55,409.09 456.88,408.99 457.22,408.89 457.55,408.80 457.89,408.71 458.22,408.63 458.56,408.55 458.90,408.48 459.23,408.42 459.57,408.37 459.90,408.33 460.24,408.30 460.57,408.29 460.73,408.29 460.91,408.29 461.25,408.29 461.58,408.31 461.92,408.32 462.25,408.34 462.59,408.37 462.92,408.40 463.26,408.43 463.60,408.47 463.93,408.51 463.96,408.51 464.27,408.58 464.60,408.73 464.94,408.94 465.27,409.19 465.61,409.49 465.95,409.82 466.28,410.18 466.62,410.54 466.95,410.91 466.96,410.92 467.29,411.31 467.62,411.79 467.96,412.33 468.30,412.92 468.63,413.53 468.97,414.15 469.30,414.77 469.64,415.37 469.96,415.90 469.97,415.92 470.31,416.47 470.65,417.02 470.98,417.57 471.32,418.11 471.65,418.65 471.99,419.16 472.32,419.65 472.66,420.12 472.96,420.50 472.99,420.54 473.33,420.94 473.67,421.34 474.00,421.72 474.34,422.10 474.67,422.46 475.01,422.80 475.34,423.13 475.68,423.44 476.02,423.74 476.35,424.01 476.69,424.26 476.90,424.42 477.02,424.50 477.36,424.72 477.69,424.93 478.03,425.14 478.37,425.34 478.70,425.53 479.04,425.72 479.37,425.90 479.71,426.07 480.04,426.24 480.38,426.40 480.72,426.55 481.05,426.70 481.39,426.84 481.72,426.97 482.06,427.10 482.39,427.22 482.73,427.33 482.90,427.38 483.07,427.44 483.40,427.54 483.74,427.64 484.07,427.74 484.41,427.83 484.74,427.92 485.08,428.01 485.42,428.10 485.75,428.19 486.09,428.27 486.42,428.35 486.76,428.42 487.09,428.50 487.43,428.57 487.77,428.64 488.10,428.71 488.44,428.77 488.77,428.84 489.11,428.90 489.44,428.95 489.78,429.01 490.12,429.06 490.45,429.12 490.79,429.16 490.87,429.18 491.12,429.21 491.46,429.26 491.79,429.30 492.13,429.35 492.47,429.39 492.80,429.43 493.14,429.47 493.47,429.51 493.81,429.55 494.14,429.59 494.48,429.62 494.82,429.66 495.15,429.69 495.49,429.73 495.82,429.76 496.16,429.79 496.49,429.82 496.83,429.86 497.17,429.89 497.50,429.92 497.84,429.95 498.17,429.97 498.51,430.00 498.84,430.03 499.18,430.06 499.52,430.08 499.85,430.11 500.19,430.14 500.52,430.16 500.81,430.18 500.86,430.19 501.19,430.21 501.53,430.24 501.87,430.27 502.20,430.29 502.54,430.32 502.87,430.35 503.21,430.38 503.54,430.40 503.88,430.43 504.21,430.46 504.55,430.48 504.89,430.51 505.22,430.54 505.56,430.56 505.89,430.59 506.23,430.61 506.56,430.63 506.90,430.65 507.24,430.67 507.57,430.69 507.91,430.71 508.24,430.73 508.58,430.74 508.91,430.76 509.25,430.77 509.59,430.78 509.92,430.79 510.26,430.79 510.59,430.80 510.93,430.80 511.07,430.80 511.26,430.79 511.60,430.71 511.94,430.58 512.27,430.39 512.61,430.15 512.94,429.88 513.28,429.56 513.61,429.22 513.95,428.85 514.29,428.47 514.62,428.08 514.96,427.69 515.29,427.30 515.63,426.92 515.96,426.56 516.30,426.22 516.64,425.91 516.75,425.82 516.97,425.63 517.31,425.35 517.64,425.07 517.98,424.79 518.31,424.51 518.65,424.24 518.99,423.96 519.32,423.69 519.66,423.41 519.99,423.14 520.33,422.87 520.66,422.60 521.00,422.33 521.34,422.06 521.67,421.80 522.01,421.53 522.34,421.27 522.68,421.01 523.01,420.76 523.35,420.50 523.69,420.25 524.02,420.00 524.36,419.75 524.69,419.51 524.72,419.49 525.03,419.26 525.36,419.02 525.70,418.78 526.04,418.53 526.37,418.29 526.71,418.05 527.04,417.81 527.38,417.57 527.71,417.33 528.05,417.09 528.39,416.85 528.72,416.62 529.06,416.39 529.39,416.16 529.73,415.93 530.06,415.70 530.40,415.47 530.74,415.25 531.07,415.03 531.41,414.81 531.74,414.60 532.08,414.39 532.41,414.18 532.75,413.98 533.08,413.77 533.42,413.58 533.76,413.38 534.09,413.19 534.43,413.01 534.66,412.88 534.76,412.82 535.10,412.65 535.43,412.47 535.77,412.30 536.11,412.13 536.44,411.96 536.78,411.80 537.11,411.64 537.45,411.48 537.78,411.32 538.12,411.17 538.46,411.02 538.79,410.87 539.13,410.72 539.46,410.57 539.80,410.42 540.13,410.28 540.47,410.13 540.81,409.99 541.14,409.85 541.48,409.70 541.81,409.56 542.15,409.42 542.48,409.27 542.82,409.13 543.16,408.99 543.49,408.84 543.83,408.70 544.16,408.55 544.50,408.40 544.76,408.29 544.83,408.25 545.17,408.10 545.51,407.96 545.84,407.81 546.18,407.66 546.51,407.51 546.85,407.36 547.18,407.21 547.52,407.06 547.86,406.91 548.19,406.76 548.53,406.61 548.86,406.46 549.20,406.32 549.53,406.17 549.87,406.02 550.21,405.87 550.54,405.73 550.88,405.58 551.21,405.43 551.55,405.29 551.88,405.14 552.22,405.00 552.56,404.86 552.89,404.71 553.23,404.57 553.56,404.43 553.90,404.29 554.23,404.15 554.57,404.01 554.78,403.92 554.91,403.87 555.24,403.73 555.58,403.59 555.91,403.45 556.25,403.31 556.58,403.17 556.92,403.04 557.26,402.90 557.59,402.76 557.93,402.62 558.26,402.49 558.60,402.35 558.93,402.21 559.27,402.08 559.61,401.94 559.94,401.81 560.28,401.68 560.61,401.54 560.95,401.41 561.28,401.28 561.62,401.15 561.95,401.02 562.29,400.89 562.63,400.77 562.96,400.64 563.30,400.52 563.63,400.39 563.97,400.27 564.30,400.15 564.64,400.03 564.88,399.94 564.98,399.91 565.31,399.79 565.65,399.67 565.98,399.56 566.32,399.44 566.65,399.33 566.99,399.21 567.33,399.10 567.66,398.98 568.00,398.87 568.33,398.76 568.67,398.65 569.00,398.53 569.34,398.42 569.68,398.32 570.01,398.21 570.35,398.10 570.68,397.99 571.02,397.89 571.35,397.78 571.69,397.68 572.03,397.58 572.36,397.48 572.70,397.38 573.03,397.28 573.37,397.18 573.70,397.08 574.04,396.99 574.38,396.90 574.71,396.80 574.90,396.75 575.05,396.71 575.38,396.62 575.72,396.53 576.05,396.45 576.39,396.36 576.73,396.27 577.06,396.19 577.40,396.11 577.73,396.03 578.07,395.94 578.40,395.86 578.74,395.78 579.08,395.71 579.41,395.63 579.75,395.55 580.08,395.47 580.42,395.40 580.75,395.32 581.09,395.24 581.43,395.17 581.76,395.09 582.10,395.02 582.43,394.94 582.77,394.87 583.10,394.79 583.44,394.72 583.78,394.64 584.11,394.57 584.45,394.49 584.78,394.41 584.84,394.40 585.12,394.34 585.45,394.26 585.79,394.18 586.13,394.10 586.46,394.03 586.80,393.95 587.13,393.87 587.47,393.79 587.80,393.71 588.14,393.64 588.48,393.56 588.81,393.48 589.15,393.40 589.48,393.33 589.82,393.25 590.15,393.17 590.49,393.10 590.82,393.02 591.16,392.95 591.50,392.88 591.83,392.80 592.17,392.73 592.50,392.66 592.84,392.59 593.17,392.53 593.51,392.46 593.85,392.39 594.18,392.33 594.52,392.26 594.78,392.22 594.85,392.20 595.19,392.14 595.52,392.08 595.86,392.02 596.20,391.96 596.53,391.91 596.87,391.85 597.20,391.79 597.54,391.74 597.87,391.68 598.21,391.63 598.55,391.57 598.88,391.52 599.22,391.47 599.55,391.41 599.89,391.36 600.22,391.31 600.56,391.26 600.90,391.21 601.23,391.16 601.57,391.11 601.90,391.06 602.24,391.01 602.57,390.96 602.91,390.91 603.25,390.86 603.58,390.81 603.92,390.76 604.25,390.72 604.59,390.67 604.92,390.62 605.26,390.57 605.60,390.52 605.93,390.48 606.27,390.43 606.60,390.38 606.69,390.37 606.94,390.33 607.27,390.29 607.61,390.24 607.95,390.19 608.28,390.14 608.62,390.09 608.95,390.05 609.29,390.00 609.62,389.95 609.96,389.90 610.30,389.86 610.63,389.81 610.97,389.76 611.30,389.72 611.64,389.67 611.97,389.62 612.31,389.58 612.65,389.53 612.98,389.49 613.32,389.44 613.65,389.39 613.99,389.35 614.32,389.30 614.66,389.26 615.00,389.21 615.33,389.17 615.67,389.13 616.00,389.08 616.34,389.04 616.67,389.00 617.01,388.95 617.35,388.91 617.68,388.87 618.02,388.83 618.35,388.79 618.69,388.74 619.02,388.70 619.36,388.66 619.70,388.62 620.03,388.58 620.37,388.54 620.70,388.51 621.04,388.47 621.37,388.43 621.71,388.39 622.04,388.36 622.08,388.35 622.38,388.32 622.72,388.28 623.05,388.25 623.39,388.21 623.72,388.17 624.06,388.14 624.39,388.10 624.73,388.07 625.07,388.03 625.40,388.00 625.74,387.96 626.07,387.93 626.41,387.90 626.74,387.86 627.08,387.83 627.42,387.80 627.75,387.76 628.09,387.73 628.42,387.70 628.76,387.67 629.09,387.64 629.43,387.61 629.77,387.58 630.10,387.55 630.44,387.52 630.77,387.49 631.11,387.46 631.44,387.43 631.78,387.40 632.12,387.37 632.45,387.35 632.79,387.32 633.12,387.29 633.46,387.27 633.79,387.24 633.91,387.23 634.13,387.22 634.47,387.19 634.80,387.17 635.14,387.14 635.47,387.12 635.81,387.09 636.14,387.06 636.48,387.04 636.82,387.01 637.15,386.99 637.49,386.97 637.82,386.94 638.16,386.92 638.49,386.89 638.83,386.87 639.17,386.85 639.50,386.82 639.84,386.80 640.17,386.78 640.51,386.76 640.84,386.74 641.18,386.71 641.52,386.69 641.85,386.68 642.19,386.66 642.52,386.64 642.86,386.62 643.19,386.60 643.53,386.59 643.87,386.57 644.20,386.56 644.54,386.55 644.87,386.53 645.21,386.52 645.54,386.51 645.75,386.50 645.88,386.50 646.22,386.49 646.55,386.48 646.89,386.47 647.22,386.46 647.56,386.45 647.89,386.44 648.23,386.43 648.57,386.42 648.90,386.42 649.24,386.41 649.57,386.40 649.91,386.39 650.24,386.38 650.58,386.37 650.91,386.37 651.25,386.36 651.59,386.35 651.92,386.34 652.26,386.34 652.59,386.33 652.93,386.32 653.26,386.32 653.60,386.31 653.94,386.31 654.27,386.30 654.61,386.30 654.94,386.30 655.28,386.29 655.61,386.29 655.95,386.29 656.29,386.28 656.62,386.28 656.96,386.28 657.29,386.28 657.59,386.28 657.63,386.28 657.96,386.28 658.30,386.28 658.64,386.29 658.97,386.29 659.31,386.30 659.64,386.30 659.98,386.31 660.31,386.32 660.65,386.33 660.99,386.34 661.32,386.35 661.66,386.37 661.99,386.38 662.33,386.39 662.66,386.41 663.00,386.43 663.34,386.44 663.67,386.46 664.01,386.48 664.34,386.50 664.68,386.52 665.01,386.54 665.35,386.56 665.69,386.58 666.02,386.60 666.26,386.62 666.36,386.62 666.69,386.65 667.03,386.68 667.36,386.72 667.70,386.76 668.04,386.80 668.37,386.85 668.71,386.90 669.04,386.96 669.38,387.02 669.71,387.08 670.05,387.14 670.39,387.20 670.72,387.27 671.06,387.33 671.39,387.40" fill="none" stroke="#3353a8" stroke-width="1.25" stroke-linejoin="round" clip-path="url(#cpf)"/>
<polyline points="369.60,445.75 369.94,444.99 370.27,444.24 370.61,443.51 370.94,442.79 371.28,442.09 371.61,441.40 371.95,440.74 372.29,440.10 372.62,439.47 372.96,438.87 372.99,438.81 373.29,438.28 373.63,437.69 373.96,437.10 374.30,436.53 374.64,435.96 374.97,435.41 375.31,434.89 375.64,434.39 375.98,433.93 376.31,433.50 376.65,433.11 376.94,432.82 376.99,432.77 377.32,432.45 377.66,432.12 377.99,431.80 378.33,431.49 378.66,431.19 379.00,430.89 379.34,430.62 379.67,430.37 380.01,430.13 380.34,429.93 380.68,429.75 381.01,429.60 381.35,429.49 381.69,429.42 381.91,429.40 382.02,429.39 382.36,429.37 382.69,429.36 383.03,429.34 383.36,429.33 383.70,429.32 384.04,429.31 384.37,429.30 384.71,429.29 385.04,429.28 385.38,429.27 385.71,429.27 386.05,429.26 386.38,429.25 386.72,429.24 386.88,429.23 387.06,429.23 387.39,429.21 387.73,429.20 388.06,429.20 388.40,429.19 388.73,429.18 389.07,429.17 389.41,429.16 389.74,429.15 390.08,429.14 390.41,429.13 390.75,429.12 391.08,429.10 391.42,429.09 391.76,429.07 392.09,429.06 392.43,429.04 392.76,429.02 392.88,429.01 393.10,428.99 393.43,428.93 393.77,428.85 394.11,428.75 394.44,428.63 394.78,428.50 395.11,428.35 395.45,428.19 395.78,428.02 396.12,427.84 396.46,427.65 396.79,427.47 397.13,427.29 397.46,427.10 397.80,426.93 398.13,426.76 398.47,426.60 398.81,426.46 398.87,426.43 399.14,426.32 399.48,426.19 399.81,426.06 400.15,425.92 400.48,425.79 400.82,425.65 401.16,425.52 401.49,425.39 401.83,425.26 402.16,425.13 402.50,425.00 402.83,424.87 403.17,424.74 403.51,424.61 403.84,424.49 404.18,424.37 404.51,424.25 404.85,424.13 405.18,424.01 405.52,423.89 405.86,423.78 406.19,423.67 406.53,423.56 406.84,423.46 406.86,423.46 407.20,423.35 407.53,423.25 407.87,423.15 408.21,423.05 408.54,422.94 408.88,422.84 409.21,422.75 409.55,422.65 409.88,422.55 410.22,422.45 410.56,422.36 410.89,422.27 411.23,422.17 411.56,422.08 411.90,421.99 412.23,421.90 412.57,421.81 412.91,421.73 413.24,421.64 413.58,421.56 413.91,421.48 414.25,421.40 414.58,421.32 414.92,421.24 415.25,421.16 415.59,421.09 415.93,421.01 416.26,420.94 416.60,420.87 416.78,420.83 416.93,420.80 417.27,420.73 417.60,420.67 417.94,420.60 418.28,420.54 418.61,420.47 418.95,420.41 419.28,420.35 419.62,420.29 419.95,420.22 420.29,420.16 420.63,420.11 420.96,420.05 421.30,419.99 421.63,419.93 421.97,419.88 422.30,419.82 422.64,419.77 422.98,419.71 423.31,419.66 423.65,419.61 423.98,419.55 424.32,419.50 424.65,419.45 424.99,419.40 425.33,419.35 425.66,419.30 426.00,419.25 426.33,419.20 426.67,419.16 427.00,419.11 427.34,419.06 427.68,419.01 428.01,418.97 428.35,418.92 428.68,418.87 428.70,418.87 429.02,418.83 429.35,418.78 429.69,418.74 430.03,418.69 430.36,418.65 430.70,418.60 431.03,418.56 431.37,418.51 431.70,418.47 432.04,418.43 432.38,418.38 432.71,418.34 433.05,418.30 433.38,418.25 433.72,418.21 434.05,418.17 434.39,418.13 434.73,418.09 435.06,418.05 435.40,418.01 435.73,417.97 436.07,417.93 436.40,417.89 436.74,417.86 437.08,417.82 437.41,417.79 437.75,417.75 438.08,417.72 438.42,417.68 438.75,417.65 439.09,417.62 439.43,417.58 439.76,417.55 440.10,417.52 440.43,417.49 440.69,417.47 440.77,417.47 441.10,417.44 441.44,417.41 441.78,417.38 442.11,417.35 442.45,417.32 442.78,417.29 443.12,417.26 443.45,417.23 443.79,417.20 444.12,417.17 444.46,417.14 444.80,417.11 445.13,417.08 445.47,417.05 445.80,417.02 446.14,416.99 446.47,416.97 446.81,416.94 447.15,416.92 447.48,416.89 447.82,416.87 448.15,416.85 448.49,416.83 448.82,416.81 449.16,416.79 449.50,416.77 449.83,416.75 450.17,416.74 450.50,416.73 450.84,416.72 451.17,416.71 451.51,416.70 451.85,416.69 452.18,416.69 452.52,416.69 452.60,416.69 452.85,416.69 453.19,416.69 453.52,416.69 453.86,416.69 454.20,416.69 454.53,416.70 454.87,416.70 455.20,416.70 455.54,416.71 455.87,416.71 456.21,416.72 456.55,416.72 456.88,416.73 457.22,416.74 457.55,416.74 457.89,416.75 458.22,416.76 458.56,416.77 458.90,416.78 459.23,416.80 459.57,416.81 459.90,416.82 460.24,416.84 460.57,416.86 460.57,416.86 460.91,416.91 461.25,417.03 461.58,417.18 461.92,417.33 461.99,417.36 462.25,417.47 462.59,417.62 462.92,417.77 463.26,417.93 463.60,418.09 463.93,418.27 464.27,418.45 464.60,418.64 464.94,418.84 465.27,419.05 465.61,419.27 465.94,419.49 465.95,419.49 466.28,419.75 466.62,420.03 466.95,420.34 467.29,420.67 467.62,421.02 467.96,421.38 468.30,421.74 468.63,422.10 468.97,422.45 469.30,422.79 469.64,423.12 469.96,423.41 469.97,423.42 470.31,423.71 470.65,424.00 470.98,424.29 471.32,424.57 471.65,424.85 471.99,425.12 472.32,425.39 472.66,425.64 472.99,425.88 473.33,426.10 473.67,426.30 473.91,426.43 474.00,426.48 474.34,426.66 474.67,426.83 475.01,426.99 475.34,427.15 475.68,427.31 476.02,427.46 476.35,427.61 476.69,427.75 477.02,427.88 477.36,428.01 477.69,428.13 478.03,428.25 478.37,428.36 478.70,428.46 479.04,428.56 479.37,428.65 479.71,428.74 479.90,428.78 480.04,428.82 480.38,428.89 480.72,428.97 481.05,429.04 481.39,429.11 481.72,429.18 482.06,429.24 482.39,429.31 482.73,429.37 483.07,429.43 483.40,429.49 483.74,429.55 484.07,429.60 484.41,429.65 484.74,429.71 485.08,429.76 485.42,429.80 485.75,429.85 486.09,429.89 486.42,429.93 486.76,429.97 487.09,430.01 487.43,430.05 487.77,430.08 488.10,430.12 488.44,430.15 488.77,430.17 488.90,430.18 489.11,430.20 489.44,430.23 489.78,430.25 490.12,430.28 490.45,430.31 490.79,430.33 491.12,430.36 491.46,430.38 491.79,430.41 492.13,430.43 492.47,430.46 492.80,430.48 493.14,430.50 493.47,430.52 493.81,430.55 494.14,430.57 494.48,430.59 494.82,430.61 495.15,430.63 495.49,430.65 495.82,430.66 496.16,430.68 496.49,430.70 496.83,430.71 497.17,430.72 497.50,430.74 497.84,430.75 498.17,430.76 498.51,430.77 498.84,430.78 499.18,430.78 499.52,430.79 499.85,430.79 500.19,430.80 500.52,430.80 500.81,430.80 500.86,430.80 501.19,430.80 501.53,430.80 501.87,430.80 502.20,430.80 502.54,430.80 502.87,430.80 503.21,430.80 503.54,430.80 503.88,430.80 504.21,430.80 504.55,430.80 504.89,430.80 505.22,430.80 505.56,430.80 505.89,430.80 506.23,430.80 506.56,430.80 506.90,430.80 507.24,430.80 507.57,430.80 507.91,430.80 508.24,430.80 508.58,430.80 508.91,430.80 509.25,430.80 509.59,430.80 509.92,430.80 510.26,430.80 510.59,430.80 510.93,430.80 511.07,430.80 511.26,430.79 511.60,430.74 511.94,430.64 512.27,430.50 512.61,430.33 512.94,430.13 513.28,429.90 513.61,429.66 513.95,429.39 514.29,429.12 514.62,428.84 514.96,428.55 515.29,428.28 515.63,428.00 515.96,427.75 516.30,427.50 516.64,427.28 516.75,427.22 516.97,427.08 517.31,426.89 517.64,426.69 517.98,426.49 518.31,426.29 518.65,426.09 518.99,425.89 519.32,425.70 519.66,425.50 519.99,425.31 520.33,425.11 520.66,424.92 521.00,424.73 521.34,424.54 521.67,424.36 522.01,424.18 522.34,424.00 522.68,423.83 523.01,423.65 523.35,423.49 523.69,423.32 524.02,423.16 524.36,423.01 524.69,422.86 524.72,422.85 525.03,422.71 525.36,422.57 525.70,422.43 526.04,422.28 526.37,422.15 526.71,422.01 527.04,421.87 527.38,421.74 527.71,421.61 528.05,421.48 528.39,421.35 528.72,421.22 529.06,421.10 529.39,420.98 529.73,420.85 530.06,420.73 530.40,420.62 530.74,420.50 531.07,420.39 531.41,420.27 531.74,420.16 532.08,420.05 532.41,419.94 532.75,419.84 533.08,419.73 533.42,419.63 533.76,419.53 534.09,419.43 534.43,419.33 534.66,419.26 534.76,419.23 535.10,419.14 535.43,419.04 535.77,418.95 536.11,418.86 536.44,418.76 536.78,418.67 537.11,418.58 537.45,418.49 537.78,418.40 538.12,418.32 538.46,418.23 538.79,418.15 539.13,418.06 539.46,417.98 539.80,417.90 540.13,417.82 540.47,417.74 540.81,417.66 541.14,417.58 541.48,417.51 541.81,417.44 542.15,417.36 542.48,417.29 542.82,417.22 543.16,417.16 543.49,417.09 543.83,417.03 544.16,416.96 544.50,416.90 544.76,416.86 544.83,416.84 545.17,416.78 545.51,416.72 545.84,416.66 546.18,416.61 546.51,416.55 546.85,416.49 547.18,416.43 547.52,416.37 547.86,416.32 548.19,416.26 548.53,416.21 548.86,416.15 549.20,416.10 549.53,416.05 549.87,416.00 550.21,415.95 550.54,415.90 550.88,415.85 551.21,415.81 551.55,415.76 551.88,415.72 552.22,415.68 552.56,415.65 552.89,415.61 553.23,415.58 553.56,415.55 553.90,415.52 554.23,415.49 554.57,415.47 554.78,415.46 554.91,415.45 555.24,415.43 555.58,415.41 555.91,415.39 556.25,415.37 556.58,415.35 556.92,415.33 557.26,415.31 557.59,415.29 557.93,415.27 558.26,415.26 558.60,415.24 558.93,415.22 559.27,415.21 559.61,415.19 559.94,415.18 560.28,415.16 560.61,415.15 560.95,415.14 561.28,415.13 561.62,415.12 561.95,415.11 562.29,415.10 562.63,415.09 562.96,415.08 563.30,415.08 563.63,415.07 563.97,415.07 564.30,415.07 564.64,415.06 564.88,415.06 564.98,415.06 565.31,415.07 565.65,415.07 565.98,415.07 566.32,415.08 566.65,415.08 566.99,415.09 567.33,415.10 567.66,415.11 568.00,415.12 568.33,415.13 568.67,415.14 569.00,415.15 569.34,415.17 569.68,415.18 570.01,415.20 570.35,415.21 570.68,415.23 571.02,415.25 571.35,415.26 571.69,415.28 572.03,415.30 572.36,415.32 572.70,415.33 573.03,415.35 573.37,415.37 573.70,415.39 574.04,415.41 574.38,415.43 574.71,415.45 574.90,415.46 575.05,415.46 575.38,415.48 575.72,415.50 576.05,415.53 576.39,415.55 576.73,415.57 577.06,415.60 577.40,415.62 577.73,415.65 578.07,415.68 578.40,415.70 578.74,415.73 579.08,415.76 579.41,415.79 579.75,415.82 580.08,415.86 580.42,415.89 580.75,415.92 581.09,415.95 581.43,415.99 581.76,416.02 582.10,416.06 582.43,416.09 582.77,416.13 583.10,416.16 583.44,416.20 583.78,416.24 584.11,416.27 584.45,416.31 584.78,416.35 584.84,416.35 585.12,416.38 585.45,416.42 585.79,416.46 586.13,416.50 586.46,416.55 586.80,416.59 587.13,416.64 587.47,416.68 587.80,416.73 588.14,416.78 588.48,416.82 588.81,416.87 589.15,416.92 589.48,416.97 589.82,417.02 590.15,417.07 590.49,417.12 590.82,417.18 591.16,417.23 591.50,417.28 591.83,417.33 592.17,417.38 592.50,417.43 592.84,417.48 593.17,417.53 593.51,417.58 593.85,417.62 594.18,417.67 594.52,417.72 594.78,417.75 594.85,417.76 595.19,417.81 595.52,417.85 595.86,417.90 596.20,417.94 596.53,417.98 596.87,418.03 597.20,418.07 597.54,418.12 597.87,418.16 598.21,418.20 598.55,418.25 598.88,418.29 599.22,418.33 599.55,418.38 599.89,418.42 600.22,418.46 600.56,418.50 600.90,418.55 601.23,418.59 601.57,418.63 601.90,418.67 602.24,418.71 602.57,418.76 602.91,418.80 603.25,418.84 603.58,418.88 603.92,418.92 604.25,418.96 604.59,419.01 604.92,419.05 605.26,419.09 605.60,419.13 605.93,419.17 606.27,419.21 606.60,419.25 606.69,419.26 606.94,419.29 607.27,419.33 607.61,419.38 607.95,419.42 608.28,419.46 608.62,419.50 608.95,419.54 609.29,419.58 609.62,419.62 609.96,419.66 610.30,419.70 610.63,419.74 610.97,419.78 611.30,419.82 611.64,419.86 611.97,419.90 612.31,419.94 612.65,419.97 612.98,420.01 613.32,420.05 613.65,420.09 613.99,420.13 614.32,420.17 614.66,420.21 615.00,420.25 615.33,420.29 615.67,420.33 616.00,420.36 616.34,420.40 616.67,420.44 617.01,420.48 617.35,420.52 617.68,420.56 618.02,420.60 618.35,420.63 618.69,420.67 619.02,420.71 619.36,420.75 619.70,420.79 620.03,420.82 620.37,420.86 620.70,420.90 621.04,420.94 621.37,420.98 621.71,421.01 622.04,421.05 622.08,421.06 622.38,421.09 622.72,421.13 623.05,421.16 623.39,421.20 623.72,421.24 624.06,421.28 624.39,421.31 624.73,421.35 625.07,421.39 625.40,421.43 625.74,421.46 626.07,421.50 626.41,421.54 626.74,421.57 627.08,421.61 627.42,421.65 627.75,421.68 628.09,421.72 628.42,421.76 628.76,421.79 629.09,421.83 629.43,421.87 629.77,421.90 630.10,421.94 630.44,421.97 630.77,422.01 631.11,422.05 631.44,422.08 631.78,422.12 632.12,422.15 632.45,422.19 632.79,422.22 633.12,422.26 633.46,422.30 633.79,422.33 633.91,422.34 634.13,422.37 634.47,422.40 634.80,422.44 635.14,422.47 635.47,422.51 635.81,422.54 636.14,422.58 636.48,422.61 636.82,422.64 637.15,422.68 637.49,422.71 637.82,422.75 638.16,422.78 638.49,422.81 638.83,422.85 639.17,422.88 639.50,422.92 639.84,422.95 640.17,422.98 640.51,423.02 640.84,423.05 641.18,423.09 641.52,423.12 641.85,423.16 642.19,423.19 642.52,423.22 642.86,423.26 643.19,423.29 643.53,423.33 643.87,423.36 644.20,423.40 644.54,423.44 644.80,423.46 644.87,423.47 645.21,423.51 645.54,423.54 645.88,423.58 646.22,423.62 646.55,423.65 646.89,423.69 647.22,423.73 647.56,423.76 647.89,423.80 648.23,423.84 648.57,423.88 648.90,423.91 649.24,423.95 649.57,423.99 649.91,424.03 650.24,424.06 650.58,424.10 650.91,424.14 651.25,424.18 651.59,424.22 651.92,424.25 652.26,424.29 652.59,424.33 652.93,424.37 653.26,424.41 653.60,424.45 653.94,424.48 654.27,424.52 654.61,424.56 654.94,424.60 655.28,424.64 655.61,424.68 655.95,424.71 656.29,424.75 656.62,424.79 656.96,424.83 657.29,424.87 657.63,424.91 657.96,424.94 658.30,424.98 658.64,425.02 658.97,425.06 659.31,425.10 659.64,425.13 659.98,425.17 660.31,425.21 660.65,425.25 660.74,425.26 660.99,425.28 661.32,425.32 661.66,425.36 661.99,425.40 662.33,425.43 662.66,425.47 663.00,425.51 663.34,425.54 663.67,425.58 664.01,425.62 664.34,425.66 664.68,425.69 665.01,425.73 665.35,425.77 665.69,425.80 666.02,425.84 666.36,425.88 666.69,425.92 667.03,425.95 667.36,425.99 667.70,426.03 668.04,426.06 668.37,426.10 668.71,426.14 669.04,426.17 669.38,426.21 669.71,426.25 670.05,426.28 670.39,426.32 670.72,426.36 671.06,426.40 671.39,426.43" fill="none" stroke="#d92550" stroke-width="1.25" stroke-linejoin="round" clip-path="url(#cpf)"/>
<polyline points="369.60,441.38 369.94,441.41 370.27,441.45 370.61,441.49 370.94,441.54 371.28,441.59 371.61,441.65 371.95,441.71 372.29,441.77 372.62,441.84 372.96,441.91 373.29,441.99 373.63,442.06 373.96,442.14 374.30,442.22 374.64,442.31 374.97,442.39 374.97,442.39 375.31,442.48 375.64,442.58 375.98,442.68 376.31,442.79 376.65,442.91 376.99,443.03 377.32,443.16 377.66,443.29 377.99,443.43 378.33,443.58 378.66,443.73 379.00,443.89 379.34,444.05 379.67,444.22 379.94,444.35 380.01,444.39 380.34,444.59 380.68,444.82 381.01,445.07 381.35,445.34 381.69,445.62 382.02,445.90 382.36,446.19 382.69,446.46 383.03,446.72 383.36,446.96 383.70,447.18 383.96,447.32 384.04,447.36 384.37,447.54 384.71,447.72 385.04,447.90 385.38,448.05 385.71,448.19 386.05,448.28 386.38,448.33 386.48,448.33 386.72,448.31 387.06,448.25 387.39,448.13 387.73,447.98 388.06,447.80 388.40,447.60 388.73,447.40 389.07,447.19 389.41,447.00 389.74,446.82 389.88,446.76 390.08,446.67 390.41,446.52 390.75,446.37 391.08,446.21 391.42,446.06 391.76,445.91 392.09,445.75 392.43,445.60 392.76,445.45 393.10,445.29 393.43,445.14 393.77,445.00 394.11,444.85 394.44,444.70 394.78,444.56 395.11,444.42 395.45,444.29 395.78,444.15 396.12,444.02 396.46,443.90 396.79,443.77 396.90,443.74 397.13,443.66 397.46,443.54 397.80,443.43 398.13,443.32 398.47,443.21 398.81,443.11 399.14,443.01 399.48,442.91 399.81,442.81 400.15,442.71 400.48,442.62 400.82,442.52 401.16,442.43 401.49,442.33 401.83,442.24 402.16,442.15 402.50,442.05 402.83,441.96 403.17,441.86 403.51,441.77 403.84,441.67 404.18,441.57 404.51,441.47 404.79,441.38 404.85,441.37 405.18,441.26 405.52,441.16 405.86,441.05 406.19,440.94 406.53,440.83 406.86,440.72 407.20,440.61 407.53,440.50 407.87,440.39 408.21,440.28 408.54,440.17 408.88,440.05 409.21,439.94 409.55,439.83 409.88,439.72 410.22,439.61 410.56,439.50 410.89,439.39 411.23,439.28 411.56,439.17 411.90,439.06 412.23,438.96 412.57,438.85 412.91,438.75 413.24,438.65 413.58,438.55 413.91,438.45 414.25,438.35 414.58,438.25 414.81,438.19 414.92,438.16 415.25,438.07 415.59,437.98 415.93,437.89 416.26,437.80 416.60,437.71 416.93,437.63 417.27,437.54 417.60,437.45 417.94,437.37 418.28,437.28 418.61,437.20 418.95,437.12 419.28,437.04 419.62,436.96 419.95,436.87 420.29,436.79 420.63,436.72 420.96,436.64 421.30,436.56 421.63,436.48 421.97,436.40 422.30,436.33 422.64,436.25 422.98,436.18 423.31,436.10 423.65,436.03 423.98,435.95 424.32,435.88 424.65,435.81 424.75,435.78 424.99,435.73 425.33,435.66 425.66,435.59 426.00,435.51 426.33,435.44 426.67,435.37 427.00,435.30 427.34,435.23 427.68,435.16 428.01,435.09 428.35,435.02 428.68,434.95 429.02,434.88 429.35,434.81 429.69,434.74 430.03,434.68 430.36,434.61 430.70,434.54 431.03,434.48 431.37,434.41 431.70,434.35 432.04,434.29 432.38,434.23 432.71,434.17 433.05,434.11 433.38,434.05 433.72,433.99 434.05,433.93 434.39,433.87 434.69,433.82 434.73,433.82 435.06,433.76 435.40,433.71 435.73,433.66 436.07,433.60 436.40,433.55 436.74,433.50 437.08,433.45 437.41,433.40 437.75,433.35 438.08,433.30 438.42,433.26 438.75,433.21 439.09,433.16 439.43,433.11 439.76,433.07 440.10,433.02 440.43,432.98 440.77,432.93 441.10,432.89 441.44,432.84 441.78,432.80 442.11,432.75 442.45,432.71 442.78,432.67 443.12,432.62 443.45,432.58 443.79,432.54 444.12,432.50 444.46,432.46 444.71,432.42 444.80,432.41 445.13,432.37 445.47,432.33 445.80,432.29 446.14,432.25 446.47,432.21 446.81,432.17 447.15,432.13 447.48,432.10 447.82,432.06 448.15,432.02 448.49,431.98 448.82,431.95 449.16,431.91 449.50,431.87 449.83,431.83 450.17,431.80 450.50,431.76 450.84,431.73 451.17,431.69 451.51,431.65 451.85,431.62 452.18,431.58 452.52,431.54 452.85,431.51 453.19,431.47 453.52,431.43 453.86,431.39 454.20,431.36 454.53,431.32 454.65,431.30 454.87,431.28 455.20,431.24 455.54,431.21 455.87,431.18 456.21,431.14 456.55,431.11 456.88,431.08 457.22,431.05 457.55,431.02 457.89,430.98 458.22,430.95 458.56,430.91 458.90,430.87 459.23,430.83 459.57,430.79 459.90,430.74 460.24,430.70 460.57,430.64 460.91,430.59 460.97,430.58 461.25,430.52 461.58,430.45 461.92,430.37 462.25,430.29 462.59,430.19 462.92,430.09 463.26,429.98 463.60,429.86 463.93,429.74 464.27,429.61 464.60,429.47 464.94,429.32 465.27,429.16 465.61,429.00 465.94,428.84 465.95,428.84 466.28,428.64 466.62,428.39 466.95,428.11 467.29,427.79 467.62,427.46 467.96,427.11 468.30,426.76 468.63,426.41 468.97,426.08 469.30,425.77 469.64,425.49 469.96,425.26 469.97,425.25 470.31,425.03 470.65,424.80 470.98,424.57 471.32,424.35 471.65,424.14 471.99,423.94 472.32,423.76 472.66,423.59 472.99,423.46 473.33,423.35 473.67,423.27 473.91,423.24 474.00,423.23 474.34,423.20 474.67,423.18 475.01,423.15 475.34,423.13 475.68,423.11 476.02,423.10 476.35,423.09 476.69,423.08 477.02,423.07 477.30,423.07 477.36,423.07 477.69,423.08 478.03,423.11 478.37,423.16 478.70,423.21 479.04,423.28 479.37,423.36 479.71,423.45 480.04,423.54 480.38,423.64 480.72,423.75 481.05,423.85 481.39,423.96 481.72,424.07 482.06,424.17 482.39,424.27 482.73,424.37 482.90,424.42 483.07,424.46 483.40,424.55 483.74,424.65 484.07,424.74 484.41,424.84 484.74,424.94 485.08,425.05 485.42,425.15 485.75,425.26 486.09,425.36 486.42,425.47 486.76,425.58 487.09,425.68 487.43,425.79 487.77,425.90 488.10,426.00 488.44,426.11 488.77,426.21 489.11,426.32 489.44,426.42 489.78,426.52 490.12,426.61 490.45,426.71 490.79,426.80 490.87,426.82 491.12,426.89 491.46,426.98 491.79,427.08 492.13,427.17 492.47,427.26 492.80,427.35 493.14,427.44 493.47,427.53 493.81,427.62 494.14,427.71 494.48,427.80 494.82,427.89 495.15,427.98 495.49,428.07 495.82,428.15 496.16,428.24 496.49,428.32 496.83,428.40 497.17,428.48 497.50,428.56 497.84,428.64 498.17,428.72 498.51,428.79 498.84,428.86 499.18,428.93 499.52,429.00 499.85,429.06 500.19,429.12 500.52,429.18 500.81,429.23 500.86,429.24 501.19,429.29 501.53,429.35 501.87,429.40 502.20,429.45 502.54,429.50 502.87,429.55 503.21,429.60 503.54,429.64 503.88,429.69 504.21,429.73 504.55,429.78 504.89,429.82 505.22,429.86 505.56,429.90 505.89,429.94 506.23,429.98 506.56,430.02 506.90,430.06 507.24,430.10 507.57,430.14 507.91,430.18 508.24,430.21 508.58,430.25 508.91,430.29 509.25,430.32 509.59,430.36 509.92,430.40 510.26,430.43 510.59,430.47 510.93,430.50 511.07,430.52 511.26,430.54 511.60,430.58 511.94,430.61 512.27,430.65 512.61,430.68 512.94,430.72 513.28,430.75 513.61,430.79 513.95,430.82 514.29,430.86 514.62,430.89 514.96,430.92 515.29,430.96 515.63,430.99 515.96,431.02 516.30,431.06 516.64,431.09 516.97,431.12 517.31,431.15 517.64,431.19 517.98,431.22 518.31,431.25 518.65,431.28 518.99,431.31 519.32,431.34 519.66,431.37 519.99,431.40 520.33,431.43 520.66,431.46 521.00,431.49 521.34,431.52 521.67,431.55 522.01,431.58 522.34,431.61 522.68,431.64 523.01,431.67 523.35,431.69 523.69,431.72 524.02,431.75 524.36,431.78 524.69,431.81 524.72,431.81 525.03,431.83 525.36,431.86 525.70,431.89 526.04,431.91 526.37,431.94 526.71,431.97 527.04,431.99 527.38,432.02 527.71,432.05 528.05,432.07 528.39,432.10 528.72,432.12 529.06,432.15 529.39,432.17 529.73,432.20 530.06,432.22 530.40,432.25 530.74,432.27 531.07,432.30 531.41,432.32 531.74,432.34 532.08,432.37 532.41,432.39 532.75,432.42 533.08,432.44 533.42,432.46 533.76,432.49 534.09,432.51 534.43,432.53 534.76,432.56 535.10,432.58 535.43,432.60 535.77,432.62 536.11,432.65 536.44,432.67 536.78,432.69 537.11,432.72 537.45,432.74 537.78,432.76 538.12,432.78 538.46,432.81 538.60,432.82 538.79,432.83 539.13,432.85 539.46,432.87 539.80,432.90 540.13,432.92 540.47,432.95 540.81,432.97 541.14,433.00 541.48,433.02 541.81,433.05 542.15,433.07 542.48,433.10 542.82,433.12 543.16,433.15 543.49,433.17 543.83,433.20 544.16,433.22 544.50,433.25 544.83,433.27 545.17,433.30 545.51,433.32 545.84,433.34 546.18,433.37 546.51,433.39 546.85,433.42 547.18,433.44 547.52,433.46 547.86,433.49 548.19,433.51 548.53,433.53 548.86,433.55 549.20,433.57 549.53,433.59 549.87,433.61 550.21,433.63 550.54,433.65 550.88,433.67 551.21,433.69 551.55,433.70 551.88,433.72 552.22,433.73 552.56,433.75 552.89,433.76 553.23,433.78 553.56,433.79 553.90,433.80 554.23,433.81 554.57,433.82 554.78,433.82 554.91,433.83 555.24,433.84 555.58,433.84 555.91,433.85 556.25,433.86 556.58,433.86 556.92,433.87 557.26,433.88 557.59,433.88 557.93,433.89 558.26,433.89 558.60,433.90 558.93,433.90 559.27,433.91 559.61,433.91 559.94,433.92 560.28,433.92 560.61,433.93 560.95,433.93 561.28,433.93 561.62,433.94 561.95,433.94 562.29,433.95 562.63,433.95 562.96,433.96 563.30,433.96 563.63,433.97 563.97,433.98 564.30,433.98 564.64,433.99 564.88,433.99 564.98,433.99 565.31,434.00 565.65,434.01 565.98,434.01 566.32,434.02 566.65,434.03 566.99,434.04 567.33,434.04 567.66,434.05 568.00,434.06 568.33,434.06 568.67,434.07 569.00,434.08 569.34,434.09 569.68,434.09 570.01,434.10 570.35,434.11 570.68,434.12 571.02,434.13 571.35,434.13 571.69,434.14 572.03,434.15 572.36,434.16 572.70,434.17 573.03,434.18 573.37,434.18 573.70,434.19 574.04,434.20 574.38,434.21 574.71,434.22 575.05,434.23 575.38,434.24 575.72,434.24 576.05,434.25 576.39,434.26 576.73,434.27 577.06,434.28 577.40,434.29 577.73,434.30 578.07,434.31 578.40,434.32 578.74,434.32 579.08,434.33 579.41,434.34 579.75,434.35 580.08,434.36 580.42,434.37 580.75,434.38 581.09,434.39 581.43,434.40 581.76,434.41 582.10,434.42 582.43,434.43 582.77,434.44 583.10,434.45 583.44,434.46 583.78,434.47 584.11,434.48 584.45,434.48 584.78,434.49 584.84,434.50 585.12,434.50 585.45,434.51 585.79,434.52 586.13,434.53 586.46,434.54 586.80,434.55 587.13,434.57 587.47,434.58 587.80,434.59 588.14,434.60 588.48,434.61 588.81,434.62 589.15,434.63 589.48,434.64 589.82,434.65 590.15,434.67 590.49,434.68 590.82,434.69 591.16,434.70 591.50,434.71 591.83,434.72 592.17,434.74 592.50,434.75 592.84,434.76 593.17,434.77 593.51,434.79 593.85,434.80 594.18,434.81 594.52,434.82 594.85,434.83 595.19,434.85 595.52,434.86 595.86,434.87 596.20,434.88 596.53,434.89 596.87,434.91 597.20,434.92 597.54,434.93 597.87,434.94 598.21,434.96 598.55,434.97 598.88,434.98 599.22,434.99 599.55,435.00 599.89,435.01 600.22,435.03 600.56,435.04 600.90,435.05 601.23,435.06 601.57,435.07 601.90,435.08 602.24,435.09 602.57,435.10 602.91,435.11 603.25,435.12 603.58,435.14 603.92,435.15 604.25,435.16 604.59,435.17 604.92,435.18 605.26,435.18 605.60,435.19 605.93,435.20 606.27,435.21 606.60,435.22 606.69,435.22 606.94,435.23 607.27,435.24 607.61,435.25 607.95,435.26 608.28,435.26 608.62,435.27 608.95,435.28 609.29,435.29 609.62,435.30 609.96,435.31 610.30,435.32 610.63,435.32 610.97,435.33 611.30,435.34 611.64,435.35 611.97,435.36 612.31,435.36 612.65,435.37 612.98,435.38 613.32,435.39 613.65,435.40 613.99,435.40 614.32,435.41 614.66,435.42 615.00,435.43 615.33,435.43 615.67,435.44 616.00,435.45 616.34,435.46 616.67,435.46 617.01,435.47 617.35,435.48 617.68,435.48 618.02,435.49 618.35,435.50 618.69,435.50 619.02,435.51 619.36,435.52 619.70,435.52 620.03,435.53 620.37,435.54 620.70,435.54 621.04,435.55 621.37,435.56 621.71,435.56 622.04,435.57 622.38,435.57 622.72,435.58 623.05,435.59 623.39,435.59 623.72,435.60 624.06,435.60 624.39,435.61 624.73,435.61 624.84,435.62 625.07,435.62 625.40,435.62 625.74,435.63 626.07,435.63 626.41,435.64 626.74,435.64 627.08,435.65 627.42,435.65 627.75,435.66 628.09,435.66 628.42,435.67 628.76,435.67 629.09,435.67 629.43,435.68 629.77,435.68 630.10,435.69 630.44,435.69 630.77,435.69 631.11,435.70 631.44,435.70 631.78,435.71 632.12,435.71 632.45,435.71 632.79,435.72 633.12,435.72 633.46,435.73 633.79,435.73 634.13,435.73 634.47,435.74 634.80,435.74 635.14,435.75 635.47,435.75 635.81,435.75 636.14,435.76 636.48,435.76 636.82,435.77 637.15,435.77 637.49,435.78 637.82,435.78 637.86,435.78 638.16,435.79 638.49,435.79 638.83,435.80 639.17,435.81 639.50,435.81 639.84,435.82 640.17,435.83 640.51,435.84 640.84,435.84 641.18,435.85 641.52,435.86 641.85,435.87 642.19,435.88 642.52,435.88 642.86,435.89 643.19,435.90 643.53,435.91 643.87,435.92 644.20,435.93 644.54,435.94 644.87,435.95 645.21,435.96 645.54,435.96 645.88,435.97 646.22,435.98 646.55,435.99 646.89,436.00 647.22,436.01 647.56,436.02 647.89,436.02 648.23,436.03 648.57,436.04 648.90,436.05 649.24,436.05 649.57,436.06 649.91,436.07 650.24,436.07 650.58,436.08 650.91,436.09 651.25,436.09 651.59,436.10 651.92,436.10 652.26,436.11 652.59,436.11 652.93,436.11 653.26,436.11 653.60,436.12 653.94,436.12 654.27,436.12 654.61,436.12 654.74,436.12 654.94,436.12 655.28,436.12 655.61,436.12 655.95,436.12 656.29,436.12 656.62,436.11 656.96,436.11 657.29,436.11 657.63,436.11 657.96,436.10 658.30,436.10 658.64,436.09 658.97,436.09 659.31,436.08 659.64,436.08 659.98,436.07 660.31,436.07 660.65,436.06 660.99,436.05 661.32,436.04 661.66,436.04 661.99,436.03 662.33,436.02 662.66,436.01 662.71,436.01 663.00,435.99 663.34,435.97 663.67,435.93 664.01,435.87 664.34,435.81 664.68,435.74 665.01,435.66 665.35,435.56 665.69,435.47 666.02,435.36 666.36,435.25 666.69,435.14 667.03,435.02 667.36,434.89 667.68,434.78 667.70,434.77 668.04,434.63 668.37,434.46 668.71,434.28 669.04,434.07 669.38,433.84 669.71,433.60 670.05,433.34 670.39,433.07 670.72,432.78 671.06,432.50 671.39,432.20" fill="none" stroke="#2b8a3c" stroke-width="1.25" stroke-linejoin="round" clip-path="url(#cpf)"/>
<rect x="404.8" y="438.8" width="277.2" height="49.9" fill="#fff" stroke="#555" stroke-width="1.2"/>
<path d="M413.7,463.6 H433.7" stroke="#3353a8" stroke-width="1.9"/>
<path d="M466.1,463.6 H486" stroke="#d92550" stroke-width="1.9"/>
<path d="M576.4,463.6 H596.4" stroke="#2b8a3c" stroke-width="1.9"/>
<text x="440.3" y="468.7" font-family="Liberation Sans, sans-serif" font-style="italic" fill="#231f20" font-size="19.8">r</text>
<text x="495.2" y="467.8" font-family="Liberation Sans, sans-serif" font-size="17.6" fill="#231f20">−</text>
<text x="506.7" y="467.0" font-family="Liberation Sans, sans-serif" font-style="italic" fill="#231f20" font-size="17.6">T</text>
<text x="516.2" y="472.4" font-family="Liberation Sans, sans-serif" font-size="11.3" fill="#231f20">1</text>
<path d="M526.3,460.3 H558.4 M623.4,460.3 H655.3" stroke="#231f20" stroke-width="0.8"/>
<text x="534" y="457" font-family="Liberation Sans, sans-serif" font-style="italic" fill="#231f20" font-size="17.6">dr</text>
<text x="529.3" y="475.9" font-family="Liberation Sans, sans-serif" font-style="italic" fill="#231f20" font-size="17.6">dT</text>
<text x="549.8" y="481.4" font-family="Liberation Sans, sans-serif" font-size="11.3" fill="#231f20">1</text>
<text x="604.7" y="467.0" font-family="Liberation Sans, sans-serif" font-style="italic" fill="#231f20" font-size="17.6">T</text>
<text x="613.5" y="471.8" font-family="Liberation Sans, sans-serif" font-size="11.3" fill="#231f20">2</text>
<text x="631.4" y="457" font-family="Liberation Sans, sans-serif" font-style="italic" fill="#231f20" font-size="17.6">dr</text>
<text x="626.6" y="475.9" font-family="Liberation Sans, sans-serif" font-style="italic" fill="#231f20" font-size="17.6">dT</text>
<text x="645.8" y="481.6" font-family="Liberation Sans, sans-serif" font-size="11.3" fill="#231f20">2</text>
<text x="369.6" y="519.2" text-anchor="middle" font-family="Liberation Sans, sans-serif" font-size="21" fill="#231f20">0</text>
<text x="448.5" y="519.2" text-anchor="middle" font-family="Liberation Sans, sans-serif" font-size="21" fill="#231f20">1</text>
<text x="527.4" y="519.2" text-anchor="middle" font-family="Liberation Sans, sans-serif" font-size="21" fill="#231f20">2</text>
<text x="606.3" y="519.2" text-anchor="middle" font-family="Liberation Sans, sans-serif" font-size="21" fill="#231f20">3</text>
<text x="661.6" y="518.6" font-family="Liberation Sans, sans-serif" font-style="italic" fill="#231f20" font-size="21.3">T</text>
<text x="671.9" y="524.5" font-family="Liberation Sans, sans-serif" font-size="15.3" fill="#231f20">C</text>
<text x="510.6" y="547.2" font-family="Liberation Sans, sans-serif" font-size="21" fill="#231f20"><tspan font-style="italic">t</tspan> (s)</text>
</svg></body></html>
